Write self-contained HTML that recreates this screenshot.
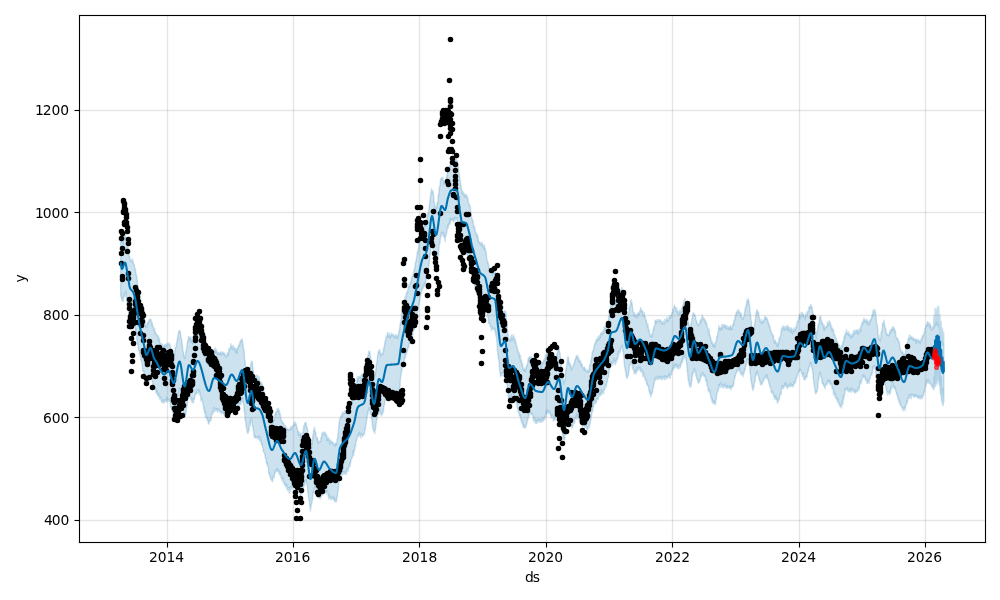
<!DOCTYPE html>
<html lang="en">
<head>
<meta charset="utf-8">
<title>Forecast plot</title>
<style>
html,body{margin:0;padding:0;background:#fff;}
body{width:1000px;height:600px;overflow:hidden;}
svg{display:block;}
text{font-family:"DejaVu Sans","Liberation Sans",sans-serif;font-size:13.889px;fill:#000;}
</style>
</head>
<body>
<svg width="1000" height="600" viewBox="0 0 1000 600">
<rect x="0" y="0" width="1000" height="600" fill="#ffffff"/>
<clipPath id="ax"><rect x="79.4" y="15" width="905.6" height="526.72"/></clipPath>
<g clip-path="url(#ax)">
<path d="M120.7 236.5 L120.9 236.8 L121.1 237.4 L121.6 241.5 L121.8 239.3 L122 242 L122.1 241.5 L122.3 241.3 L122.8 241.5 L123 241.2 L123.2 244.3 L123.3 239.9 L123.5 240 L124 236.8 L124.2 235 L124.4 238.5 L124.5 239.4 L124.7 235.1 L125.2 236.2 L125.4 238.4 L125.6 237.3 L125.8 233.5 L125.9 239.1 L126.4 240.3 L126.6 242.7 L126.8 240.9 L127 244 L127.1 245 L127.7 246 L127.8 248.6 L128 247.6 L128.2 249 L128.4 249.6 L128.9 253.2 L129 253.9 L129.2 257.3 L129.4 256.6 L129.6 256.2 L130.1 261 L130.3 260.5 L130.4 261 L130.6 259.8 L130.8 261 L131.3 260.7 L131.5 259.4 L131.6 260.7 L131.8 261.7 L132 261.2 L132.5 262.5 L132.7 259 L132.8 262.1 L133 261.1 L133.2 262.5 L133.7 264.6 L133.9 264.7 L134.1 264.2 L134.2 266.3 L134.4 265.6 L134.9 269 L135.1 270.6 L135.3 269.2 L135.4 268.6 L135.6 270.8 L136.1 275 L136.3 275.6 L136.5 274.9 L136.7 275.4 L136.8 277.8 L137.3 280.9 L137.5 283.9 L137.7 284.2 L137.9 286.4 L138 287.2 L138.6 292.8 L138.7 291.2 L138.9 292.5 L139.1 292.4 L139.2 294.1 L139.8 297.9 L139.9 298.7 L140.1 300.5 L140.3 299 L140.5 301.2 L141 305.2 L141.2 303.8 L141.3 304 L141.5 305.4 L141.7 306.4 L142.2 309.5 L142.4 312.2 L142.5 311.6 L142.7 312 L142.9 311 L143.4 313 L143.6 318.3 L143.7 315.9 L143.9 317.7 L144.1 317.2 L144.6 320.8 L144.8 321.3 L145 322.9 L145.1 325.3 L145.3 323.3 L145.8 327.2 L146 326.3 L146.2 327.5 L146.3 325.4 L146.5 327.1 L147 324.9 L147.2 323.5 L147.4 323.6 L147.6 323.5 L147.7 322.3 L148.2 322.2 L148.4 323.6 L148.6 320.4 L148.8 321.8 L148.9 321.5 L149.5 319.5 L149.6 319.2 L149.8 320.2 L150 320 L150.1 319.1 L150.7 319.4 L150.8 320.2 L151 319.4 L151.2 321.3 L151.4 322.4 L151.9 325.6 L152.1 322.2 L152.2 323.1 L152.4 325 L152.6 324.6 L153.1 326.6 L153.3 327.4 L153.4 327.9 L153.6 328.7 L153.8 329.9 L154.3 328.2 L154.5 331.6 L154.6 328.1 L154.8 333.9 L155 333.3 L155.5 331.8 L155.7 334.4 L155.9 332.9 L156 334 L156.2 334.2 L156.7 334.8 L156.9 334.8 L157.1 335.5 L157.2 335.4 L157.4 335.5 L157.9 336 L158.1 335.5 L158.3 340.6 L158.5 339.6 L158.6 337 L159.1 340.8 L159.3 341 L159.5 337.9 L159.7 340 L159.8 341.4 L160.4 344.6 L160.5 343.7 L160.7 344.9 L160.9 343.8 L161 344.8 L161.6 343.3 L161.7 345.9 L161.9 346.7 L162.1 344.3 L162.3 346.7 L162.8 348.4 L162.9 348.6 L163.1 348.2 L163.3 345.7 L163.5 346.8 L164 345.8 L164.2 347.7 L164.3 344.8 L164.5 344.8 L164.7 344.3 L165.2 345.9 L165.4 346.5 L165.5 345.3 L165.7 344.6 L165.9 345.2 L166.4 346.8 L166.6 343.4 L166.8 344.4 L166.9 344.2 L167.1 344.7 L167.6 344.8 L167.8 344.1 L168 343.1 L168.1 344.9 L168.3 344.9 L168.8 344.1 L169 344.5 L169.2 342.9 L169.4 344.7 L169.5 343.7 L170 345.2 L170.2 347.6 L170.4 346 L170.6 347.7 L170.7 348.5 L171.3 351.6 L171.4 350.9 L171.6 352.8 L171.8 355.2 L171.9 354.3 L172.5 353 L172.6 352 L172.8 353.6 L173 354.1 L173.2 352 L173.7 352.7 L173.8 352.6 L174 354.2 L174.2 355.8 L174.4 355.6 L174.9 350.7 L175.1 350.4 L175.2 348.6 L175.4 347.2 L175.6 348.3 L176.1 345.9 L176.3 343.9 L176.4 345.1 L176.6 342.5 L176.8 343.5 L177.3 338.5 L177.5 339.6 L177.7 337 L177.8 336.3 L178 336.3 L178.5 331.5 L178.7 331.5 L178.9 331.8 L179 331.4 L179.2 331.9 L179.7 330.6 L179.9 330.2 L180.1 331.7 L180.2 333 L180.4 332 L180.9 337.2 L181.1 337.6 L181.3 338.9 L181.5 340 L181.6 339.3 L182.2 346.5 L182.3 343.8 L182.5 346.2 L182.7 348.3 L182.8 349.4 L183.4 352.2 L183.5 351.7 L183.7 352.9 L183.9 354.3 L184.1 357.1 L184.6 356.2 L184.7 358.6 L184.9 358.3 L185.1 357.4 L185.3 356.3 L185.8 354.1 L186 350.7 L186.1 352.2 L186.3 351.4 L186.5 348.9 L187 346.5 L187.2 344.9 L187.3 342.5 L187.5 343.5 L187.7 340.5 L188.2 341.6 L188.4 336.6 L188.6 336.7 L188.7 336.4 L188.9 336.9 L189.4 338.8 L189.6 337.9 L189.8 337.3 L189.9 340.4 L190.1 339.5 L190.6 338.4 L190.8 338.8 L191 337 L191.1 339.3 L191.3 342.3 L191.8 339.5 L192 339.8 L192.2 341.8 L192.4 338.8 L192.5 343.9 L193.1 340.3 L193.2 340.9 L193.4 341.4 L193.6 343 L193.7 341.9 L194.3 337.5 L194.4 337.1 L194.6 339.1 L194.8 335.6 L195 337.6 L195.5 335 L195.6 336.3 L195.8 336.6 L196 331.4 L196.2 334.8 L196.7 333.6 L196.9 331.6 L197 331.7 L197.2 331.1 L197.4 331.7 L197.9 333.2 L198.1 334 L198.2 334.4 L198.4 332.2 L198.6 331.5 L199.1 334.6 L199.3 330.6 L199.5 333 L199.6 335.7 L199.8 338.3 L200.3 336.4 L200.5 338.4 L200.7 337.3 L200.8 339.1 L201 340.3 L201.5 341.1 L201.7 343.4 L201.9 343.2 L202 344.8 L202.2 344.4 L202.7 345.5 L202.9 348.6 L203.1 350.4 L203.3 348.9 L203.4 352.1 L203.9 352.3 L204.1 352 L204.3 353.1 L204.5 352.9 L204.6 353.3 L205.2 357.9 L205.3 358.2 L205.5 356.7 L205.7 357.5 L205.9 357.6 L206.4 360.3 L206.5 361.7 L206.7 359.1 L206.9 361 L207.1 360.6 L207.6 362.6 L207.8 364.1 L207.9 361.4 L208.1 359.7 L208.3 362.6 L208.8 361.2 L209 365.3 L209.1 361.1 L209.3 361.3 L209.5 361.9 L210 360.7 L210.2 359.8 L210.3 360 L210.5 361.1 L210.7 358.2 L211.2 358.5 L211.4 355.9 L211.6 352.2 L211.7 356.5 L211.9 352.7 L212.4 353.6 L212.6 355.3 L212.8 353.4 L212.9 349.9 L213.1 349.8 L213.6 349.7 L213.8 351.5 L214 349 L214.2 351.3 L214.3 350.1 L214.8 349.8 L215 349.2 L215.2 352.3 L215.4 348 L215.5 348.3 L216.1 351.9 L216.2 352.5 L216.4 349.6 L216.6 350.6 L216.7 350.5 L217.3 353.4 L217.4 352.1 L217.6 354.4 L217.8 353.3 L218 352.6 L218.5 352.4 L218.7 353.3 L218.8 354.2 L219 352.9 L219.2 353.3 L219.7 354.3 L219.9 352.5 L220 353.5 L220.2 352.4 L220.4 352.1 L220.9 353 L221.1 355 L221.2 355.4 L221.4 351.5 L221.6 354.7 L222.1 353.5 L222.3 352.9 L222.5 352.7 L222.6 352.1 L222.8 352.3 L223.3 353.1 L223.5 354.5 L223.7 352.6 L223.8 352.5 L224 352.7 L224.5 353.8 L224.7 355.6 L224.9 353.6 L225.1 354.9 L225.2 355.1 L225.7 356.7 L225.9 356.1 L226.1 357.4 L226.3 355.9 L226.4 356 L227 356 L227.1 353.1 L227.3 354.7 L227.5 355.5 L227.6 353.2 L228.2 352.1 L228.3 355.4 L228.5 352.6 L228.7 353.6 L228.9 348.5 L229.4 350.5 L229.6 348.2 L229.7 349.5 L229.9 350.2 L230.1 348.2 L230.6 346.7 L230.8 343.6 L230.9 347.6 L231.1 348.4 L231.3 346.6 L231.8 345.3 L232 347.1 L232.1 348.1 L232.3 347.5 L232.5 348.8 L233 346.4 L233.2 345.5 L233.4 348.1 L233.5 349.9 L233.7 348 L234.2 349.2 L234.4 348.2 L234.6 348 L234.7 348.9 L234.9 347.3 L235.4 351.2 L235.6 352 L235.8 352.2 L236 350.1 L236.1 350.2 L236.6 348.6 L236.8 348.5 L237 351.2 L237.2 353.4 L237.3 348.4 L237.9 347.9 L238 348.6 L238.2 346 L238.4 347.4 L238.5 345.8 L239.1 344.4 L239.2 346 L239.4 344.9 L239.6 342.5 L239.8 344.6 L240.3 342 L240.4 340.9 L240.6 340.3 L240.8 342.1 L241 339.8 L241.5 339.8 L241.7 341.2 L241.8 339.8 L242 341.9 L242.2 338.8 L242.7 342.6 L242.9 343.7 L243 346.1 L243.2 345.2 L243.4 347.7 L243.9 350.3 L244.1 351.1 L244.3 353 L244.4 355.1 L244.6 359 L245.1 361.3 L245.3 363.9 L245.5 366.4 L245.6 368.7 L245.8 370.1 L246.3 375.1 L246.5 372.8 L246.7 374.9 L246.9 377.1 L247 378.9 L247.5 378.9 L247.7 376.7 L247.9 377.4 L248.1 374.8 L248.2 377.5 L248.8 372.2 L248.9 373.5 L249.1 374.4 L249.3 373.2 L249.4 368.6 L250 368.4 L250.1 366.9 L250.3 366 L250.5 367.8 L250.7 365.5 L251.2 361.9 L251.3 361.7 L251.5 363.5 L251.7 362.8 L251.9 360.9 L252.4 362.6 L252.6 365.2 L252.7 366.4 L252.9 369.1 L253.1 369.1 L253.6 374.7 L253.8 376.4 L253.9 373.7 L254.1 376 L254.3 379 L254.8 377.1 L255 378.1 L255.2 378.9 L255.3 376.1 L255.5 376.7 L256 375.7 L256.2 378.5 L256.4 377.5 L256.5 377.8 L256.7 374.8 L257.2 379.7 L257.4 379.2 L257.6 377.4 L257.7 380.2 L257.9 375.9 L258.4 379.2 L258.6 377.4 L258.8 382.9 L259 376.1 L259.1 378.3 L259.7 379.9 L259.8 382.5 L260 382.5 L260.2 381.9 L260.3 381.9 L260.9 385.8 L261 381.9 L261.2 383.5 L261.4 385.9 L261.6 382.7 L262.1 384.3 L262.2 387.3 L262.4 386.6 L262.6 384.5 L262.8 387.2 L263.3 391.8 L263.5 389.9 L263.6 392.2 L263.8 391.8 L264 391.6 L264.5 397.2 L264.7 396.7 L264.8 397.8 L265 397 L265.2 397.9 L265.7 400.1 L265.9 400.9 L266.1 400.7 L266.2 401.2 L266.4 404.3 L266.9 403.8 L267.1 405.9 L267.3 406.9 L267.4 408 L267.6 407.4 L268.1 410.3 L268.3 413.1 L268.5 413 L268.6 413.6 L268.8 417.2 L269.3 415.4 L269.5 419.3 L269.7 418.4 L269.9 416.7 L270 418.5 L270.6 420.1 L270.7 423.1 L270.9 422.8 L271.1 421.6 L271.2 420.6 L271.8 420.8 L271.9 423 L272.1 421.3 L272.3 422.7 L272.5 422.7 L273 422.6 L273.1 423.2 L273.3 421.7 L273.5 421.4 L273.7 420.2 L274.2 420.5 L274.4 419.5 L274.5 419.5 L274.7 418.7 L274.9 415.3 L275.4 412.5 L275.6 414.4 L275.7 414.8 L275.9 412.1 L276.1 414.5 L276.6 411.5 L276.8 410.9 L277 411.5 L277.1 409 L277.3 408.8 L277.8 410.7 L278 409.6 L278.2 411.4 L278.3 411.7 L278.5 408.2 L279 411.6 L279.2 413.6 L279.4 410.8 L279.5 414 L279.7 413.5 L280.2 413.3 L280.4 418.1 L280.6 418.9 L280.8 416.9 L280.9 417.5 L281.4 421.5 L281.6 421.7 L281.8 420.5 L282 422 L282.1 421.4 L282.7 421.8 L282.8 423.1 L283 422.3 L283.2 423.9 L283.4 423.1 L283.9 423.7 L284 424.4 L284.2 426.3 L284.4 427.3 L284.6 426.8 L285.1 425.8 L285.3 427.9 L285.4 425.7 L285.6 425.8 L285.8 426.8 L286.3 428.8 L286.5 428.4 L286.6 428.5 L286.8 430 L287 429.2 L287.5 428.2 L287.7 430.1 L287.8 429.1 L288 430 L288.2 430.6 L288.7 430.1 L288.9 429 L289.1 430.3 L289.2 429.9 L289.4 430 L289.9 429.3 L290.1 427.9 L290.3 426.8 L290.4 429.4 L290.6 429.7 L291.1 428.1 L291.3 427.3 L291.5 429.8 L291.7 427.3 L291.8 426.6 L292.3 427.4 L292.5 426 L292.7 426.7 L292.9 425.9 L293 426.3 L293.6 425 L293.7 423.7 L293.9 424.8 L294.1 425.5 L294.3 422.5 L294.8 422.9 L294.9 421.4 L295.1 424.3 L295.3 423 L295.5 424.7 L296 423.5 L296.2 425.6 L296.3 424.2 L296.5 425.4 L296.7 427.4 L297.2 427.9 L297.4 428.1 L297.5 430.6 L297.7 430 L297.9 432.3 L298.4 435.2 L298.6 431.8 L298.7 432.5 L298.9 431.4 L299.1 431.9 L299.6 435.1 L299.8 435.1 L300 435.1 L300.1 435.5 L300.3 433.9 L300.8 433 L301 437.3 L301.2 436.2 L301.3 437.6 L301.5 436.1 L302 436.4 L302.2 434.6 L302.4 434.9 L302.6 433.8 L302.7 433.2 L303.2 432.3 L303.4 430.8 L303.6 425.6 L303.8 428.7 L303.9 427.8 L304.5 426.9 L304.6 425.1 L304.8 422.9 L305 422.7 L305.1 423.3 L305.7 422.1 L305.8 424.7 L306 423.8 L306.2 423.2 L306.4 425 L306.9 429 L307.1 426.7 L307.2 428.5 L307.4 429.4 L307.6 429.1 L308.1 434.3 L308.3 435.9 L308.4 439.4 L308.6 441.1 L308.8 443.6 L309.3 445.7 L309.5 448.7 L309.6 447 L309.8 448.7 L310 451.4 L310.5 452.1 L310.7 452.5 L310.9 453.8 L311 451.2 L311.2 448.4 L311.7 445.8 L311.9 444 L312.1 443.8 L312.2 441.3 L312.4 440.1 L312.9 435.6 L313.1 434 L313.3 438 L313.5 434.6 L313.6 429.8 L314.1 431.2 L314.3 429.3 L314.5 427.2 L314.7 429.7 L314.8 430.4 L315.4 432 L315.5 433.8 L315.7 431.6 L315.9 433.7 L316 435.4 L316.6 437.1 L316.7 437.8 L316.9 437.7 L317.1 440.1 L317.3 437.6 L317.8 438.3 L318 443 L318.1 441.9 L318.3 443.5 L318.5 442.6 L319 442.1 L319.2 441.4 L319.3 441.7 L319.5 441 L319.7 442.1 L320.2 441.1 L320.4 441.8 L320.5 441.4 L320.7 441.5 L320.9 437.6 L321.4 437.1 L321.6 437.6 L321.8 437 L321.9 433 L322.1 436 L322.6 434.4 L322.8 432.8 L323 432.8 L323.1 432.1 L323.3 434.6 L323.8 433.8 L324 432.8 L324.2 434.4 L324.4 434.6 L324.5 432.2 L325 432.2 L325.2 432.8 L325.4 435 L325.6 434 L325.7 435.6 L326.3 436.1 L326.4 435.7 L326.6 434.3 L326.8 436.8 L326.9 440.5 L327.5 437.9 L327.6 437.4 L327.8 438.2 L328 440.4 L328.2 438.5 L328.7 437.8 L328.8 438.9 L329 440 L329.2 440.3 L329.4 441.7 L329.9 444.3 L330.1 443.2 L330.2 441.6 L330.4 440.3 L330.6 439.7 L331.1 442.3 L331.3 442.9 L331.4 442.6 L331.6 441.6 L331.8 442.6 L332.3 441.7 L332.5 441.7 L332.7 441.9 L332.8 442.2 L333 442.3 L333.5 444.1 L333.7 443.7 L333.9 444 L334 445.3 L334.2 445 L334.7 445.9 L334.9 443.4 L335.1 446.2 L335.2 444.5 L335.4 443.1 L335.9 444.1 L336.1 442.8 L336.3 443.3 L336.5 444 L336.6 444.9 L337.2 438.8 L337.3 439.6 L337.5 437.7 L337.7 438.9 L337.8 435.6 L338.4 431.6 L338.5 431 L338.7 426.3 L338.9 425.4 L339.1 422.9 L339.6 420.2 L339.7 420.2 L339.9 418.6 L340.1 418.8 L340.3 417.5 L340.8 416.5 L341 417 L341.1 415.6 L341.3 415.1 L341.5 414.7 L342 415.7 L342.2 417 L342.3 414.4 L342.5 414.4 L342.7 412 L343.2 413.1 L343.4 414.4 L343.6 412.6 L343.7 414.1 L343.9 413 L344.4 413.3 L344.6 412.2 L344.8 411 L344.9 412.7 L345.1 413.4 L345.6 411.3 L345.8 412.5 L346 410.8 L346.1 411.4 L346.3 413.4 L346.8 411.9 L347 410.3 L347.2 411.8 L347.4 411.4 L347.5 410.3 L348.1 410.7 L348.2 405.2 L348.4 409.7 L348.6 411.3 L348.7 408.9 L349.3 405 L349.4 409.4 L349.6 410.5 L349.8 407.7 L350 405.1 L350.5 403.8 L350.6 403.9 L350.8 404.4 L351 405.3 L351.2 404.3 L351.7 399.4 L351.9 401.9 L352 401.3 L352.2 403.5 L352.4 399.9 L352.9 396.6 L353.1 397.3 L353.2 397.5 L353.4 394.2 L353.6 397.1 L354.1 394.5 L354.3 395 L354.5 393.5 L354.6 392.8 L354.8 393.1 L355.3 390.9 L355.5 387.5 L355.7 387.3 L355.8 387.9 L356 386.1 L356.5 383.3 L356.7 383.3 L356.9 380.8 L357 380.7 L357.2 376.6 L357.7 379.9 L357.9 381.2 L358.1 379.7 L358.3 379 L358.4 378.1 L358.9 376.4 L359.1 377.9 L359.3 377.1 L359.5 376.8 L359.6 377.3 L360.2 375.9 L360.3 376.9 L360.5 378.2 L360.7 378.7 L360.9 377.8 L361.4 378 L361.5 377.1 L361.7 373.7 L361.9 374.2 L362.1 376.6 L362.6 375 L362.8 377 L362.9 375.3 L363.1 376.5 L363.3 375 L363.8 374.4 L364 374.5 L364.1 375.7 L364.3 375.3 L364.5 374.3 L365 373.1 L365.2 373 L365.4 371.3 L365.5 369.7 L365.7 368.5 L366.2 365.4 L366.4 364.3 L366.6 363.5 L366.7 365.4 L366.9 362.1 L367.4 358.1 L367.6 357.3 L367.8 355.9 L367.9 356 L368.1 355.6 L368.6 351.3 L368.8 355.6 L369 351.2 L369.2 352 L369.3 351.9 L369.8 351.6 L370 352.2 L370.2 357.2 L370.4 358.1 L370.5 355.9 L371.1 359 L371.2 363.5 L371.4 361.8 L371.6 364.6 L371.8 368.1 L372.3 370.2 L372.4 372.1 L372.6 372.2 L372.8 370.8 L373 372.9 L373.5 373.3 L373.7 377.3 L373.8 375.9 L374 377.7 L374.2 376 L374.7 374.5 L374.9 375.7 L375 373.7 L375.2 372.3 L375.4 373.8 L375.9 369.2 L376.1 366.1 L376.2 368.4 L376.4 363.3 L376.6 363.7 L377.1 360.5 L377.3 358.8 L377.5 356.4 L377.6 355.7 L377.8 354.8 L378.3 351.3 L378.5 353.2 L378.7 350.5 L378.8 350.2 L379 353 L379.5 350.8 L379.7 349.6 L379.9 351.5 L380.1 352.3 L380.2 353 L380.7 356 L380.9 352.6 L381.1 355 L381.3 354.8 L381.4 355.3 L382 353.9 L382.1 353.3 L382.3 353.3 L382.5 353.8 L382.6 354.4 L383.2 354.2 L383.3 348.3 L383.5 351.4 L383.7 349.9 L383.9 348.9 L384.4 345.1 L384.6 345.8 L384.7 342.1 L384.9 344.9 L385.1 341.1 L385.6 340.1 L385.8 339 L385.9 339.4 L386.1 336.2 L386.3 338 L386.8 336.8 L387 337.4 L387.1 335.4 L387.3 334.7 L387.5 332.5 L388 334.3 L388.2 336.7 L388.4 334.5 L388.5 334.8 L388.7 335.2 L389.2 336 L389.4 332.9 L389.6 337.8 L389.7 336.4 L389.9 336.2 L390.4 335.3 L390.6 337.8 L390.8 334.5 L391 336.1 L391.1 335.5 L391.6 333.1 L391.8 334.7 L392 335.6 L392.2 334.3 L392.3 334.7 L392.9 335.2 L393 334.2 L393.2 334.8 L393.4 336.4 L393.5 334.9 L394.1 336.9 L394.2 337.5 L394.4 338 L394.6 337.2 L394.8 335.4 L395.3 336.1 L395.5 334.7 L395.6 336.9 L395.8 335.7 L396 337.9 L396.5 334.9 L396.7 336.1 L396.8 335.3 L397 337.4 L397.2 337.7 L397.7 335.3 L397.9 338.9 L398 337.3 L398.2 334.5 L398.4 334.8 L398.9 331.5 L399.1 330.8 L399.3 331.6 L399.4 328.2 L399.6 330.4 L400.1 323.5 L400.3 324 L400.5 325 L400.6 321.9 L400.8 321.4 L401.3 319.3 L401.5 315.2 L401.7 315.1 L401.9 312.6 L402 312.1 L402.5 310.4 L402.7 309.7 L402.9 308.1 L403.1 307.9 L403.2 306.9 L403.8 305.2 L403.9 304.2 L404.1 301.8 L404.3 303.4 L404.4 303.1 L405 298.8 L405.1 296.5 L405.3 298.9 L405.5 299.5 L405.7 298.4 L406.2 294.1 L406.3 296.6 L406.5 293.5 L406.7 294.1 L406.9 291.8 L407.4 292.5 L407.6 291.7 L407.7 289.6 L407.9 290 L408.1 287.6 L408.6 286.6 L408.8 286.1 L408.9 284.7 L409.1 287.2 L409.3 287 L409.8 284.4 L410 282.5 L410.2 284.2 L410.3 283.5 L410.5 283.2 L411 281.3 L411.2 280.3 L411.4 281.7 L411.5 278.7 L411.7 279.1 L412.2 275.7 L412.4 276.6 L412.6 275.5 L412.8 275.4 L412.9 276.2 L413.4 272.7 L413.6 273.3 L413.8 271.9 L414 271 L414.1 269 L414.7 269.5 L414.8 268.5 L415 265.4 L415.2 264.8 L415.3 262.8 L415.9 262 L416 259.6 L416.2 260.3 L416.4 259.1 L416.6 258.6 L417.1 253.8 L417.2 251.7 L417.4 253.1 L417.6 251.5 L417.8 253.6 L418.3 248.6 L418.5 249.4 L418.6 247.4 L418.8 245.4 L419 242.9 L419.5 241.4 L419.7 241.6 L419.8 241.1 L420 240.7 L420.2 240.1 L420.7 235.8 L420.9 237.3 L421.1 235.2 L421.2 234.9 L421.4 235.3 L421.9 228.7 L422.1 230.4 L422.3 231 L422.4 231 L422.6 229.6 L423.1 227.3 L423.3 229.3 L423.5 228.4 L423.6 225.1 L423.8 227.1 L424.3 223.7 L424.5 222.6 L424.7 224.1 L424.9 224.5 L425 222.2 L425.6 226.6 L425.7 221.9 L425.9 222.9 L426.1 223.2 L426.2 224.3 L426.8 218.8 L426.9 220.6 L427.1 216.3 L427.3 217.4 L427.5 216.1 L428 212.7 L428.1 213.5 L428.3 214.8 L428.5 214.3 L428.7 211.5 L429.2 205.7 L429.4 204.4 L429.5 204.8 L429.7 203 L429.9 201.7 L430.4 196.5 L430.6 194.7 L430.7 195.2 L430.9 193 L431.1 193.6 L431.6 188.7 L431.8 190.6 L432 190.7 L432.1 191.7 L432.3 192.2 L432.8 190.6 L433 191.5 L433.2 194.3 L433.3 193.9 L433.5 193.5 L434 201.8 L434.2 201.8 L434.4 202.8 L434.5 203 L434.7 205.5 L435.2 206.6 L435.4 207.4 L435.6 210.4 L435.8 206.7 L435.9 209 L436.5 205.3 L436.6 208.7 L436.8 206.4 L437 204.5 L437.1 202.9 L437.7 201.8 L437.8 203.7 L438 200.8 L438.2 196.3 L438.4 194 L438.9 195.7 L439 189.9 L439.2 187.2 L439.4 187.9 L439.6 186.9 L440.1 185 L440.3 181.4 L440.4 180.7 L440.6 181.9 L440.8 178.6 L441.3 178.7 L441.5 178.6 L441.6 179.6 L441.8 177.5 L442 177.7 L442.5 179.6 L442.7 179.9 L442.9 177.2 L443 178.5 L443.2 180.5 L443.7 180.8 L443.9 184.2 L444.1 182.5 L444.2 183.3 L444.4 182.5 L444.9 183 L445.1 182.7 L445.3 183.3 L445.4 181.5 L445.6 183.4 L446.1 177.9 L446.3 179.7 L446.5 177.3 L446.7 175.6 L446.8 177.8 L447.3 174.7 L447.5 171.9 L447.7 170.4 L447.9 172.3 L448 169.5 L448.6 169.5 L448.7 166.7 L448.9 168.1 L449.1 166.1 L449.3 166.3 L449.8 167.2 L449.9 167.5 L450.1 164.4 L450.3 164.2 L450.5 161.1 L451 163.4 L451.2 164 L451.3 161.9 L451.5 161.8 L451.7 163.2 L452.2 161.7 L452.4 162.3 L452.5 164.8 L452.7 162.7 L452.9 163.2 L453.4 164.9 L453.6 162.6 L453.7 163.2 L453.9 162.4 L454.1 160.6 L454.6 163.8 L454.8 160.1 L455 161.2 L455.1 159.2 L455.3 159.6 L455.8 159 L456 159.4 L456.2 160.5 L456.3 162 L456.5 158.4 L457 161.4 L457.2 160.8 L457.4 160.7 L457.6 161.7 L457.7 163.5 L458.2 166.8 L458.4 168.6 L458.6 172.2 L458.8 170.9 L458.9 172.7 L459.5 174.8 L459.6 178.9 L459.8 178.1 L460 179.4 L460.2 180 L460.7 184.2 L460.8 184.6 L461 185.3 L461.2 186.5 L461.4 189 L461.9 191.3 L462.1 193.2 L462.2 194.1 L462.4 194.2 L462.6 191.4 L463.1 191.7 L463.3 194.3 L463.4 192.4 L463.6 195.2 L463.8 195.4 L464.3 193.5 L464.5 195.8 L464.6 197.3 L464.8 196.2 L465 194.7 L465.5 194.9 L465.7 196.1 L465.9 194.5 L466 195.7 L466.2 195.3 L466.7 195.6 L466.9 195.7 L467.1 198.5 L467.2 196.8 L467.4 198.4 L467.9 197.7 L468.1 200.6 L468.3 201.8 L468.5 202.8 L468.6 203.6 L469.1 204.8 L469.3 205.1 L469.5 204.9 L469.7 204.6 L469.8 204.9 L470.4 207.4 L470.5 209.4 L470.7 211.5 L470.9 211.9 L471 213.4 L471.6 217.2 L471.7 216.8 L471.9 218.3 L472.1 218.6 L472.3 219.8 L472.8 221.6 L473 220.4 L473.1 222 L473.3 222.7 L473.5 226.7 L474 228.1 L474.2 225.7 L474.3 226.3 L474.5 228 L474.7 226.7 L475.2 232.1 L475.4 231.2 L475.5 231.1 L475.7 233.1 L475.9 234.1 L476.4 235.1 L476.6 236.9 L476.8 233.1 L476.9 234.8 L477.1 234.4 L477.6 235.2 L477.8 238.9 L478 241.5 L478.1 237.6 L478.3 239.2 L478.8 242.5 L479 241.8 L479.2 242.9 L479.4 241.6 L479.5 243.2 L480 242.1 L480.2 244.7 L480.4 244.5 L480.6 244.2 L480.7 242.8 L481.3 243.9 L481.4 245.2 L481.6 243.3 L481.8 243.6 L481.9 242.2 L482.5 244.4 L482.6 245.1 L482.8 247.1 L483 244.6 L483.2 245 L483.7 248.5 L483.9 248.8 L484 246 L484.2 247 L484.4 245.2 L484.9 248.4 L485.1 250.3 L485.2 249.7 L485.4 248.4 L485.6 251 L486.1 251.8 L486.3 253.8 L486.4 253.8 L486.6 256.9 L486.8 258.9 L487.3 260.4 L487.5 260.9 L487.7 261.9 L487.8 263.7 L488 262.5 L488.5 264.9 L488.7 265.4 L488.9 268 L489 267.3 L489.2 268.5 L489.7 269.3 L489.9 267.9 L490.1 269.3 L490.3 270.8 L490.4 270.2 L490.9 270 L491.1 270.1 L491.3 271.6 L491.5 271.2 L491.6 270.5 L492.2 269.6 L492.3 270.1 L492.5 275.6 L492.7 270.3 L492.8 271.3 L493.4 271.2 L493.5 269.4 L493.7 273.2 L493.9 271.3 L494.1 270.5 L494.6 273.5 L494.7 271.7 L494.9 273.1 L495.1 271 L495.3 272.4 L495.8 276.3 L496 276.6 L496.1 277 L496.3 279.3 L496.5 283.2 L497 286.1 L497.2 288.4 L497.3 293 L497.5 293.8 L497.7 295.7 L498.2 299.4 L498.4 302 L498.6 303.6 L498.7 304.4 L498.9 303 L499.4 310.9 L499.6 309.3 L499.8 314.9 L499.9 313.3 L500.1 315.2 L500.6 316.2 L500.8 315.4 L501 317.8 L501.1 317.1 L501.3 319.4 L501.8 316.4 L502 315.7 L502.2 318.8 L502.4 317.1 L502.5 314.5 L503.1 312.9 L503.2 315.8 L503.4 315.1 L503.6 315.1 L503.7 312.4 L504.3 311.3 L504.4 311.1 L504.6 314.1 L504.8 312.8 L505 313.6 L505.5 310.7 L505.6 315.5 L505.8 314.5 L506 313.1 L506.2 317 L506.7 324.2 L506.9 327.4 L507 323.6 L507.2 326.7 L507.4 330.4 L507.9 333 L508.1 335.3 L508.2 335.6 L508.4 338.3 L508.6 337.4 L509.1 339.5 L509.3 339.2 L509.5 339.7 L509.6 339.5 L509.8 340.9 L510.3 339.6 L510.5 341.3 L510.7 336.7 L510.8 338.5 L511 339.7 L511.5 338.3 L511.7 334.5 L511.9 337.8 L512 336.8 L512.2 340.3 L512.7 337 L512.9 338.1 L513.1 336.3 L513.3 338.3 L513.4 334.6 L514 337.6 L514.1 338.7 L514.3 337.6 L514.5 340.7 L514.6 339.4 L515.2 342.9 L515.3 339.2 L515.5 340.3 L515.7 342.8 L515.9 342.2 L516.4 346 L516.5 346 L516.7 345 L516.9 346.4 L517.1 348 L517.6 349.7 L517.8 349.6 L517.9 349.8 L518.1 350.8 L518.3 353 L518.8 356.2 L519 352.1 L519.1 352.9 L519.3 354.5 L519.5 356.5 L520 354.9 L520.2 360.1 L520.4 360.5 L520.5 355.2 L520.7 360.2 L521.2 361.7 L521.4 360.9 L521.6 360 L521.7 363.3 L521.9 362.6 L522.4 366.3 L522.6 365.7 L522.8 364.2 L522.9 369 L523.1 369.3 L523.6 370.1 L523.8 369.2 L524 370.5 L524.2 369.8 L524.3 369 L524.8 368 L525 371.1 L525.2 368.1 L525.4 371.8 L525.5 369 L526.1 369.4 L526.2 367.7 L526.4 365.8 L526.6 365.7 L526.8 365.4 L527.3 366 L527.4 364 L527.6 362.3 L527.8 363.2 L528 359.9 L528.5 357.5 L528.7 358.4 L528.8 360.7 L529 357.9 L529.2 357.9 L529.7 357.3 L529.9 356.4 L530 358.9 L530.2 358.4 L530.4 356.6 L530.9 356.3 L531.1 358 L531.2 357 L531.4 357.9 L531.6 359.4 L532.1 359.6 L532.3 360.1 L532.5 359.5 L532.6 358.5 L532.8 358.4 L533.3 362.1 L533.5 359.4 L533.7 360.6 L533.8 360.3 L534 360.9 L534.5 360.1 L534.7 358.3 L534.9 363.1 L535.1 359.5 L535.2 361.9 L535.7 359.9 L535.9 362.2 L536.1 359.9 L536.3 363.7 L536.4 362.2 L537 359.7 L537.1 363.8 L537.3 359.1 L537.5 361.3 L537.7 363.4 L538.2 361.6 L538.3 364.2 L538.5 362.6 L538.7 362.2 L538.9 365 L539.4 363.7 L539.6 363 L539.7 364.7 L539.9 363.4 L540.1 362.3 L540.6 363.5 L540.8 367.7 L540.9 367.6 L541.1 362.6 L541.3 365.3 L541.8 365.8 L542 364.2 L542.1 365.2 L542.3 362.1 L542.5 362.5 L543 363.8 L543.2 362.2 L543.4 361.8 L543.5 361.7 L543.7 360.1 L544.2 359.6 L544.4 359.4 L544.6 359.4 L544.7 358 L544.9 361.2 L545.4 354.6 L545.6 355.7 L545.8 356.4 L546 358.1 L546.1 354.7 L546.6 355.8 L546.8 354.6 L547 353.8 L547.2 354.8 L547.3 355.3 L547.9 355.1 L548 351.3 L548.2 354.8 L548.4 355.2 L548.5 354.3 L549.1 354.9 L549.2 354.4 L549.4 354.1 L549.6 355.2 L549.8 356.2 L550.3 354.6 L550.5 356 L550.6 357.3 L550.8 354.7 L551 358.7 L551.5 358.3 L551.7 359.8 L551.8 358.2 L552 357.5 L552.2 358.7 L552.7 360.2 L552.9 357.6 L553 360.5 L553.2 360 L553.4 358.5 L553.9 361.1 L554.1 360.4 L554.3 360.2 L554.4 359.4 L554.6 358.7 L555.1 357.4 L555.3 358.6 L555.5 358.1 L555.6 359.1 L555.8 356.9 L556.3 356.9 L556.5 356.9 L556.7 353.4 L556.9 354.6 L557 357.3 L557.5 352 L557.7 351.3 L557.9 350.2 L558.1 348.7 L558.2 350.4 L558.8 348.7 L558.9 349.4 L559.1 348.9 L559.3 351.1 L559.4 351 L560 352.7 L560.1 354 L560.3 357.4 L560.5 356.7 L560.7 359.1 L561.2 364.7 L561.4 364.7 L561.5 368 L561.7 366.6 L561.9 370.4 L562.4 371.1 L562.6 375.2 L562.7 375.9 L562.9 376.5 L563.1 379.5 L563.6 381.5 L563.8 382.3 L563.9 384.1 L564.1 383.2 L564.3 382.9 L564.8 379.6 L565 380.7 L565.2 378.1 L565.3 374.4 L565.5 372.6 L566 369 L566.2 367.4 L566.4 369.6 L566.5 366.9 L566.7 366.2 L567.2 360.3 L567.4 359.1 L567.6 361.7 L567.8 356.9 L567.9 357.7 L568.4 357 L568.6 359.6 L568.8 364.4 L569 360.7 L569.1 363.3 L569.7 365 L569.8 362.7 L570 363.1 L570.2 364.9 L570.3 366.3 L570.9 364.9 L571 366.8 L571.2 369.8 L571.4 366.9 L571.6 368.8 L572.1 369.7 L572.2 368.1 L572.4 368 L572.6 367.3 L572.8 366.6 L573.3 365.9 L573.5 364.2 L573.6 364.7 L573.8 364.3 L574 364.9 L574.5 361.7 L574.7 360.2 L574.8 362.7 L575 359.8 L575.2 359.7 L575.7 357.9 L575.9 358.4 L576.1 356.7 L576.2 356.9 L576.4 356.1 L576.9 355.8 L577.1 356 L577.3 355.1 L577.4 359.4 L577.6 355.7 L578.1 360.2 L578.3 358.5 L578.5 359.7 L578.6 360.9 L578.8 357.5 L579.3 362.2 L579.5 361.5 L579.7 360.5 L579.9 360.5 L580 362.5 L580.6 360.4 L580.7 365.6 L580.9 363 L581.1 364.5 L581.2 363.3 L581.8 364.2 L581.9 364.2 L582.1 364.2 L582.3 367.5 L582.5 366 L583 367.2 L583.1 367.9 L583.3 368.6 L583.5 368.3 L583.7 370 L584.2 367.6 L584.4 367 L584.5 368 L584.7 367.8 L584.9 368.5 L585.4 371.1 L585.6 370.9 L585.7 370.2 L585.9 368.9 L586.1 371 L586.6 371 L586.8 371.9 L587 371.4 L587.1 370.7 L587.3 371.5 L587.8 370.6 L588 370.3 L588.2 371.8 L588.3 371.3 L588.5 372.3 L589 370.1 L589.2 367.4 L589.4 370.2 L589.5 370 L589.7 365.4 L590.2 364.1 L590.4 365.5 L590.6 363.6 L590.8 360.4 L590.9 362.4 L591.5 358 L591.6 357 L591.8 357.6 L592 354 L592.1 352.6 L592.7 351.7 L592.8 351.8 L593 350.1 L593.2 350.5 L593.4 349.5 L593.9 348.4 L594 345.7 L594.2 345.8 L594.4 347 L594.6 344.2 L595.1 342.9 L595.3 344.2 L595.4 343 L595.6 342 L595.8 340.4 L596.3 342.9 L596.5 340.6 L596.6 341.9 L596.8 338.8 L597 339.8 L597.5 339 L597.7 339.3 L597.9 336.8 L598 340.7 L598.2 338.6 L598.7 338.8 L598.9 336.2 L599.1 339.1 L599.2 335.4 L599.4 339.4 L599.9 335.6 L600.1 335.5 L600.3 335 L600.4 337.5 L600.6 333.6 L601.1 332.9 L601.3 332.9 L601.5 334.5 L601.7 333.9 L601.8 332.2 L602.3 333.3 L602.5 334.6 L602.7 333.5 L602.9 332.9 L603 330.8 L603.6 333.4 L603.7 332.1 L603.9 329 L604.1 328.8 L604.3 326.4 L604.8 329.8 L604.9 327.3 L605.1 328.5 L605.3 330.4 L605.5 326.5 L606 328.2 L606.2 325.7 L606.3 324.6 L606.5 327.2 L606.7 326.1 L607.2 323.3 L607.4 324 L607.5 322.6 L607.7 321.5 L607.9 321.4 L608.4 321.6 L608.6 317 L608.8 316.4 L608.9 318.1 L609.1 314 L609.6 311.9 L609.8 310.2 L610 307.9 L610.1 308 L610.3 307.3 L610.8 305.2 L611 305.8 L611.2 305.1 L611.3 305.9 L611.5 304.7 L612 303.6 L612.2 305.1 L612.4 304.4 L612.6 305.1 L612.7 304 L613.2 303.9 L613.4 304.3 L613.6 301.9 L613.8 304.2 L613.9 302.5 L614.5 301.9 L614.6 302.4 L614.8 305.3 L615 301.4 L615.2 304.2 L615.7 299.2 L615.8 301.6 L616 304 L616.2 301.8 L616.4 301.5 L616.9 299.9 L617.1 297.8 L617.2 300.1 L617.4 300 L617.6 299.8 L618.1 299.7 L618.3 296.9 L618.4 297.2 L618.6 292.7 L618.8 294.7 L619.3 294.1 L619.5 294.3 L619.6 295.1 L619.8 294.6 L620 292.8 L620.5 290.6 L620.7 290.8 L620.9 291 L621 291.3 L621.2 292.4 L621.7 289.7 L621.9 287.5 L622.1 288.1 L622.2 293.8 L622.4 292.7 L622.9 292.3 L623.1 293 L623.3 295.7 L623.5 296.2 L623.6 297.4 L624.1 298.9 L624.3 301.2 L624.5 304.7 L624.7 306.9 L624.8 307.6 L625.4 313.2 L625.5 313.3 L625.7 314.5 L625.9 315.2 L626 317.6 L626.6 317.5 L626.7 321.1 L626.9 316.9 L627.1 319.3 L627.3 319.4 L627.8 319.2 L628 314.7 L628.1 313.8 L628.3 313.7 L628.5 314 L629 311.2 L629.2 306.4 L629.3 308.3 L629.5 308.3 L629.7 307.4 L630.2 304.9 L630.4 303.6 L630.5 303.3 L630.7 300.4 L630.9 303.8 L631.4 299.9 L631.6 302.8 L631.8 302 L631.9 304.6 L632.1 303.6 L632.6 308.7 L632.8 308.8 L633 309.9 L633.1 311.2 L633.3 311.7 L633.8 312.6 L634 315 L634.2 315.6 L634.4 316.2 L634.5 316.1 L635 313.1 L635.2 316.4 L635.4 316.3 L635.6 315.5 L635.7 315.3 L636.3 316.4 L636.4 314.8 L636.6 317 L636.8 317.8 L636.9 316.1 L637.5 316.7 L637.6 313.4 L637.8 313.6 L638 314.3 L638.2 313 L638.7 313.1 L638.9 313 L639 314.8 L639.2 311.7 L639.4 314 L639.9 310.4 L640.1 311.1 L640.2 312.3 L640.4 311.6 L640.6 307.5 L641.1 310.7 L641.3 311.3 L641.4 309.1 L641.6 310.6 L641.8 310.5 L642.3 312.1 L642.5 314 L642.7 310.5 L642.8 311.6 L643 314.7 L643.5 315 L643.7 316.2 L643.9 314.6 L644 316.1 L644.2 312.4 L644.7 317.3 L644.9 316.1 L645.1 316.1 L645.3 316.7 L645.4 319.3 L645.9 321.1 L646.1 319.5 L646.3 320.4 L646.5 323.1 L646.6 321.8 L647.2 324.7 L647.3 325.6 L647.5 327 L647.7 325.9 L647.8 323.7 L648.4 328.8 L648.5 330.2 L648.7 329.4 L648.9 329.7 L649.1 330.1 L649.6 333.4 L649.7 334.3 L649.9 334.7 L650.1 334.8 L650.3 336.6 L650.8 335.8 L651 335.2 L651.1 334.1 L651.3 335.2 L651.5 335.9 L652 336.8 L652.2 335.2 L652.3 333.8 L652.5 333.7 L652.7 332.7 L653.2 329.2 L653.4 329.7 L653.6 327.1 L653.7 328.3 L653.9 330 L654.4 326.4 L654.6 325.6 L654.8 324.9 L654.9 323.9 L655.1 320.4 L655.6 320.9 L655.8 320.2 L656 321.3 L656.2 321.9 L656.3 323.4 L656.8 320.8 L657 319.7 L657.2 321.5 L657.4 321.2 L657.5 321.4 L658.1 320.8 L658.2 321 L658.4 319.4 L658.6 321.2 L658.7 321.6 L659.3 320.9 L659.4 321.4 L659.6 320 L659.8 321.7 L660 320.3 L660.5 319.8 L660.6 320.5 L660.8 320.7 L661 321 L661.2 321.1 L661.7 323.7 L661.9 322.6 L662 322.5 L662.2 322.4 L662.4 322.1 L662.9 323.7 L663.1 322.4 L663.2 322.4 L663.4 321.3 L663.6 324 L664.1 324.1 L664.3 323.8 L664.5 323.8 L664.6 319.2 L664.8 322.5 L665.3 322.8 L665.5 321.8 L665.7 319.5 L665.8 321.4 L666 322.2 L666.5 320.2 L666.7 318.8 L666.9 319.5 L667 316.8 L667.2 320.7 L667.7 319 L667.9 319.6 L668.1 319.8 L668.3 319.7 L668.4 321.4 L669 318.1 L669.1 317.9 L669.3 315.6 L669.5 317.7 L669.6 315.6 L670.2 318.2 L670.3 317 L670.5 316 L670.7 318 L670.9 315.2 L671.4 315.1 L671.5 314.4 L671.7 313.3 L671.9 313.8 L672.1 312.6 L672.6 311.5 L672.8 310 L672.9 309 L673.1 312.3 L673.3 310.1 L673.8 307.9 L674 308.1 L674.1 306.2 L674.3 307.8 L674.5 305.1 L675 306.9 L675.2 307.7 L675.4 307.2 L675.5 308.3 L675.7 308 L676.2 311.2 L676.4 310.2 L676.6 307.8 L676.7 308.3 L676.9 312.7 L677.4 310.6 L677.6 311.6 L677.8 310.7 L677.9 313.6 L678.1 313.2 L678.6 313.7 L678.8 312.1 L679 312.4 L679.2 314.7 L679.3 312.4 L679.9 309.9 L680 314.3 L680.2 313.3 L680.4 310.4 L680.5 312.5 L681.1 311.6 L681.2 310.8 L681.4 312.3 L681.6 311 L681.8 308 L682.3 307.3 L682.4 307.9 L682.6 307.4 L682.8 305.2 L683 306.3 L683.5 302.6 L683.7 304.1 L683.8 300.5 L684 302.9 L684.2 304.8 L684.7 303.5 L684.9 300.9 L685 298.1 L685.2 302 L685.4 303.4 L685.9 304.1 L686.1 305.8 L686.3 304.5 L686.4 306.9 L686.6 307.4 L687.1 311.5 L687.3 313.6 L687.5 317.1 L687.6 316.9 L687.8 317.1 L688.3 321.9 L688.5 322.3 L688.7 323.9 L688.8 325.7 L689 324 L689.5 329 L689.7 328.5 L689.9 331 L690.1 328.5 L690.2 329.1 L690.7 326.2 L690.9 326.8 L691.1 323.1 L691.3 323.5 L691.4 322.7 L692 318.4 L692.1 318.6 L692.3 318.3 L692.5 316.6 L692.7 314.7 L693.2 313 L693.3 312.5 L693.5 314.4 L693.7 313.5 L693.9 314.3 L694.4 314.6 L694.6 315.9 L694.7 314.2 L694.9 315.5 L695.1 315.7 L695.6 317.1 L695.8 319.4 L695.9 319.1 L696.1 319.9 L696.3 320.7 L696.8 323.5 L697 321.1 L697.1 323.7 L697.3 323.9 L697.5 323.3 L698 324.7 L698.2 325.7 L698.4 325.9 L698.5 324.2 L698.7 325.6 L699.2 324.4 L699.4 324.6 L699.6 324.6 L699.7 323.7 L699.9 321.5 L700.4 319.4 L700.6 323 L700.8 319.7 L701 321.3 L701.1 320 L701.6 320.8 L701.8 317.7 L702 317.3 L702.2 314.8 L702.3 317.9 L702.9 317.3 L703 316.9 L703.2 317.2 L703.4 319.5 L703.6 318.4 L704.1 319.8 L704.2 318.8 L704.4 319.6 L704.6 320.9 L704.8 319 L705.3 321.8 L705.5 320.7 L705.6 323.6 L705.8 321.2 L706 321.7 L706.5 323.7 L706.7 323.2 L706.8 323.9 L707 324.8 L707.2 327.3 L707.7 327.2 L707.9 330 L708 330.3 L708.2 330 L708.4 330.4 L708.9 334.5 L709.1 328.8 L709.3 332.7 L709.4 333.4 L709.6 334.4 L710.1 335.2 L710.3 337.4 L710.5 337.6 L710.6 338.8 L710.8 337.6 L711.3 341.2 L711.5 343.1 L711.7 340.8 L711.9 342.3 L712 341 L712.5 344.8 L712.7 343.7 L712.9 346.1 L713.1 343.5 L713.2 344.8 L713.8 343.4 L713.9 344.5 L714.1 345 L714.3 347.4 L714.4 345.3 L715 344.8 L715.1 346.8 L715.3 345 L715.5 341.8 L715.7 343 L716.2 340.9 L716.4 341.1 L716.5 339.7 L716.7 336.2 L716.9 337.1 L717.4 337.8 L717.6 335.7 L717.7 333.3 L717.9 332.9 L718.1 332.4 L718.6 329.1 L718.8 325.4 L718.9 329.7 L719.1 327.2 L719.3 327.9 L719.8 327.4 L720 327.7 L720.2 328 L720.3 330.5 L720.5 327.5 L721 328.4 L721.2 326.9 L721.4 328.5 L721.5 327.2 L721.7 324.5 L722.2 329.5 L722.4 328.9 L722.6 328 L722.8 324.7 L722.9 327.7 L723.4 326.5 L723.6 325.1 L723.8 324.9 L724 327.1 L724.1 324.7 L724.7 325.3 L724.8 324.6 L725 326.8 L725.2 325.1 L725.3 326.7 L725.9 325.4 L726 328.9 L726.2 325.7 L726.4 326.7 L726.6 328.4 L727.1 328.2 L727.3 325.6 L727.4 328 L727.6 328.2 L727.8 328.5 L728.3 327.2 L728.5 329.5 L728.6 329.1 L728.8 326.9 L729 326.6 L729.5 327.9 L729.7 328.6 L729.8 329.3 L730 326.6 L730.2 327 L730.7 325.5 L730.9 326.7 L731.1 329.1 L731.2 329.9 L731.4 328.5 L731.9 327.1 L732.1 327 L732.3 329.2 L732.4 327.8 L732.6 325.6 L733.1 324 L733.3 323 L733.5 323.4 L733.7 325 L733.8 321.8 L734.3 319.9 L734.5 320.1 L734.7 318.6 L734.9 319.9 L735 316.4 L735.6 315.9 L735.7 314.3 L735.9 315.8 L736.1 314.3 L736.2 312.8 L736.8 311.5 L736.9 312 L737.1 313.4 L737.3 312.7 L737.5 311.9 L738 309.8 L738.1 309.6 L738.3 309.6 L738.5 311.1 L738.7 312.6 L739.2 312.4 L739.4 313.7 L739.5 311.3 L739.7 313.2 L739.9 313.5 L740.4 313.7 L740.6 312.6 L740.7 314.8 L740.9 316.7 L741.1 313.2 L741.6 317.2 L741.8 317.8 L742 317.2 L742.1 318.1 L742.3 317.6 L742.8 317.8 L743 319.7 L743.2 319.6 L743.3 318.9 L743.5 317.4 L744 315.9 L744.2 315.4 L744.4 312.5 L744.5 312.5 L744.7 312.6 L745.2 307.8 L745.4 309.6 L745.6 308.2 L745.8 306.9 L745.9 306.5 L746.5 303.2 L746.6 306 L746.8 300.1 L747 301.3 L747.1 299.6 L747.7 301.3 L747.8 301.4 L748 302.2 L748.2 298.4 L748.4 300.7 L748.9 300.8 L749 303.3 L749.2 305.1 L749.4 303.6 L749.6 307 L750.1 310.7 L750.3 313.5 L750.4 315.9 L750.6 314.7 L750.8 318.5 L751.3 321.5 L751.5 321.4 L751.6 324.4 L751.8 325.8 L752 326 L752.5 329 L752.7 332.1 L752.9 330.8 L753 332.2 L753.2 332.9 L753.7 329.9 L753.9 332.1 L754.1 328.3 L754.2 327.2 L754.4 325 L754.9 322.2 L755.1 321.4 L755.3 319.8 L755.4 319.1 L755.6 318 L756.1 312.7 L756.3 312.3 L756.5 312.4 L756.7 311.3 L756.8 309.8 L757.4 311.2 L757.5 310.5 L757.7 313.8 L757.9 311.8 L758 313.4 L758.6 312.1 L758.7 315.1 L758.9 317.3 L759.1 316.8 L759.3 318 L759.8 319.3 L759.9 319.5 L760.1 321.1 L760.3 321.8 L760.5 322 L761 321.7 L761.2 322.1 L761.3 319.1 L761.5 322.9 L761.7 321.5 L762.2 321.5 L762.4 323.7 L762.5 322.4 L762.7 322.6 L762.9 320.8 L763.4 321.9 L763.6 320.7 L763.8 320.2 L763.9 319.7 L764.1 321.6 L764.6 316.5 L764.8 318.3 L765 318.5 L765.1 319.1 L765.3 318.1 L765.8 317 L766 317.7 L766.2 319.6 L766.3 319 L766.5 317.2 L767 319 L767.2 319 L767.4 321.2 L767.6 319 L767.7 321.4 L768.2 323.1 L768.4 321.7 L768.6 325.8 L768.8 323.1 L768.9 324 L769.5 326.4 L769.6 326 L769.8 327.3 L770 326.5 L770.2 328.3 L770.7 330.9 L770.8 329.2 L771 332.3 L771.2 332.5 L771.4 332.3 L771.9 334.3 L772.1 334.8 L772.2 333.4 L772.4 335.4 L772.6 336 L773.1 335.7 L773.3 337.8 L773.4 336.5 L773.6 335.1 L773.8 339.8 L774.3 341.1 L774.5 343.3 L774.7 340.8 L774.8 342.3 L775 340.1 L775.5 340.8 L775.7 341.8 L775.9 342.8 L776 342.4 L776.2 344.3 L776.7 345.1 L776.9 342.6 L777.1 343.3 L777.2 346.7 L777.4 346.1 L777.9 342.6 L778.1 342.5 L778.3 346 L778.5 341.5 L778.6 343.6 L779.1 337.7 L779.3 339.5 L779.5 337.7 L779.7 338.8 L779.8 339.4 L780.4 336 L780.5 335.7 L780.7 335 L780.9 334.8 L781.1 332.6 L781.6 327.7 L781.7 327.8 L781.9 330.7 L782.1 330 L782.3 330 L782.8 327.7 L783 327.2 L783.1 325.6 L783.3 326.5 L783.5 328.1 L784 327.3 L784.2 326.4 L784.3 330.4 L784.5 328.6 L784.7 328.7 L785.2 328.8 L785.4 328.5 L785.5 326.9 L785.7 329 L785.9 326.7 L786.4 326.1 L786.6 329.1 L786.8 328 L786.9 328.8 L787.1 325.3 L787.6 330.2 L787.8 326.8 L788 326.6 L788.1 327.3 L788.3 326.5 L788.8 326.9 L789 329.2 L789.2 330.9 L789.4 328.6 L789.5 329.2 L790 329.2 L790.2 329.7 L790.4 327.7 L790.6 331.8 L790.7 327.4 L791.3 328.4 L791.4 332.1 L791.6 329.6 L791.8 328.8 L791.9 330.8 L792.5 333.8 L792.6 331 L792.8 329.1 L793 331 L793.2 331.1 L793.7 329.8 L793.9 331.3 L794 327.7 L794.2 331.5 L794.4 331.4 L794.9 330 L795.1 328.5 L795.2 330.5 L795.4 329.6 L795.6 329.5 L796.1 326 L796.3 327.1 L796.4 328.2 L796.6 327.6 L796.8 324 L797.3 323 L797.5 321.1 L797.7 321.2 L797.8 320.8 L798 321.8 L798.5 319.8 L798.7 317.2 L798.9 318.6 L799 316.3 L799.2 315.6 L799.7 313.9 L799.9 315.1 L800.1 318.7 L800.3 316.1 L800.4 315.8 L800.9 316.5 L801.1 312.8 L801.3 315 L801.5 315.4 L801.6 316.9 L802.2 315.8 L802.3 312.9 L802.5 312.3 L802.7 315 L802.8 315.1 L803.4 313.9 L803.5 314.6 L803.7 316.6 L803.9 314.9 L804.1 318 L804.6 317.3 L804.8 317.3 L804.9 319.7 L805.1 315.8 L805.3 315.2 L805.8 315.6 L806 313.2 L806.1 317.2 L806.3 316.8 L806.5 316.2 L807 314.9 L807.2 313.8 L807.3 311.3 L807.5 312.3 L807.7 312.5 L808.2 311.6 L808.4 310.7 L808.6 311.8 L808.7 310.8 L808.9 307 L809.4 307 L809.6 308.3 L809.8 306.4 L809.9 306.8 L810.1 307.3 L810.6 304.7 L810.8 306 L811 307.8 L811.2 305.9 L811.3 305.2 L811.8 307.8 L812 307.8 L812.2 307.5 L812.4 310.7 L812.5 311.3 L813.1 313.3 L813.2 319.2 L813.4 318.1 L813.6 321.2 L813.7 322.9 L814.3 326.6 L814.4 325.7 L814.6 325.8 L814.8 329.2 L815 331 L815.5 331.7 L815.6 333 L815.8 335.4 L816 332.6 L816.2 339.2 L816.7 333.7 L816.9 330.9 L817 332.9 L817.2 330.8 L817.4 331.8 L817.9 325.5 L818.1 327.4 L818.2 323.7 L818.4 324.8 L818.6 325.5 L819.1 320.3 L819.3 320.7 L819.5 317.9 L819.6 318.6 L819.8 316.5 L820.3 317.1 L820.5 318.4 L820.7 316.5 L820.8 317.8 L821 319 L821.5 323.9 L821.7 322.2 L821.9 320.6 L822 321.3 L822.2 323.3 L822.7 323.2 L822.9 325.8 L823.1 324.2 L823.3 325.2 L823.4 328 L824 325.3 L824.1 330.5 L824.3 326.8 L824.5 325.6 L824.6 327.8 L825.2 328.8 L825.3 329.1 L825.5 328 L825.7 326.8 L825.9 327.2 L826.4 327 L826.5 327.5 L826.7 327.2 L826.9 326.5 L827.1 326.4 L827.6 321.6 L827.8 323.5 L827.9 326.1 L828.1 323.7 L828.3 324 L828.8 322.6 L829 323.3 L829.1 322.4 L829.3 320.8 L829.5 323.9 L830 324.7 L830.2 323.3 L830.4 322.3 L830.5 325.5 L830.7 324.6 L831.2 328.7 L831.4 327.7 L831.6 326 L831.7 326.8 L831.9 330.5 L832.4 328.9 L832.6 328.4 L832.8 329.7 L832.9 328.6 L833.1 331.8 L833.6 329.9 L833.8 333.3 L834 334.7 L834.2 334.9 L834.3 334 L834.9 334.9 L835 336.2 L835.2 337.1 L835.4 338 L835.5 337.9 L836.1 339.6 L836.2 339 L836.4 338.7 L836.6 341.3 L836.8 341 L837.3 342.1 L837.4 343.8 L837.6 341.5 L837.8 342.3 L838 343 L838.5 346.2 L838.7 343.7 L838.8 345.3 L839 348.1 L839.2 345 L839.7 348.7 L839.9 350.2 L840 348.4 L840.2 347 L840.4 347.4 L840.9 347.3 L841.1 348.4 L841.3 350.1 L841.4 349.7 L841.6 345.3 L842.1 345.3 L842.3 346.9 L842.5 345.2 L842.6 341.9 L842.8 344.7 L843.3 342.8 L843.5 340.9 L843.7 340.3 L843.8 341 L844 336.7 L844.5 335.5 L844.7 335.7 L844.9 338.8 L845.1 332.7 L845.2 334.3 L845.7 334.9 L845.9 333.6 L846.1 333.7 L846.3 333.5 L846.4 329.7 L847 333 L847.1 331.7 L847.3 334.5 L847.5 333.3 L847.7 333.3 L848.2 333.8 L848.3 331.9 L848.5 335.2 L848.7 331.9 L848.9 333.7 L849.4 334.2 L849.6 336.5 L849.7 335.1 L849.9 334.1 L850.1 336.5 L850.6 338.3 L850.8 334.5 L850.9 337.7 L851.1 335.1 L851.3 335.5 L851.8 335.5 L852 334.2 L852.2 337.2 L852.3 336.2 L852.5 336 L853 333.2 L853.2 335.7 L853.4 332.6 L853.5 335.6 L853.7 330.8 L854.2 333.9 L854.4 330.1 L854.6 330.2 L854.7 332.1 L854.9 333.4 L855.4 333.3 L855.6 331 L855.8 330.6 L856 332.6 L856.1 330.1 L856.6 330.1 L856.8 332.5 L857 332.1 L857.2 331.1 L857.3 333.1 L857.9 329.3 L858 332.1 L858.2 334.5 L858.4 331.4 L858.6 330.2 L859.1 332.6 L859.2 331.2 L859.4 332.3 L859.6 331.3 L859.8 329.4 L860.3 328.5 L860.5 327.2 L860.6 331.8 L860.8 326.5 L861 326.6 L861.5 324.3 L861.7 325.5 L861.8 325.7 L862 322.3 L862.2 322.9 L862.7 322.2 L862.9 323.7 L863 320.7 L863.2 321.7 L863.4 322.8 L863.9 318.1 L864.1 320.3 L864.3 320.9 L864.4 318.7 L864.6 319.9 L865.1 321 L865.3 322.3 L865.5 322 L865.6 320.1 L865.8 320 L866.3 322.8 L866.5 319.3 L866.7 320.6 L866.9 320.4 L867 319.9 L867.5 323.3 L867.7 320.9 L867.9 322.5 L868.1 324.9 L868.2 325.2 L868.8 321.3 L868.9 322.1 L869.1 321.9 L869.3 321 L869.4 324.4 L870 322.8 L870.1 321.8 L870.3 319.2 L870.5 321.7 L870.7 320.6 L871.2 318.4 L871.4 318.7 L871.5 319.5 L871.7 317 L871.9 315.6 L872.4 313.3 L872.6 316.4 L872.7 314.8 L872.9 310.7 L873.1 313.8 L873.6 313.4 L873.8 309.4 L873.9 309.8 L874.1 313 L874.3 311 L874.8 309.5 L875 311.5 L875.2 312.4 L875.3 311.4 L875.5 312.3 L876 317.2 L876.2 318.2 L876.4 322 L876.5 322.2 L876.7 322.5 L877.2 325.7 L877.4 327.5 L877.6 326.9 L877.8 331.1 L877.9 332.7 L878.4 335.7 L878.6 338 L878.8 339.1 L879 335.3 L879.1 339.3 L879.7 340.2 L879.8 339.4 L880 338.5 L880.2 341.2 L880.3 339.6 L880.9 338.9 L881 333.8 L881.2 332 L881.4 332 L881.6 332.4 L882.1 329.1 L882.3 329 L882.4 324.3 L882.6 322.8 L882.8 325.1 L883.3 323.4 L883.5 323.1 L883.6 324.6 L883.8 321.5 L884 320.1 L884.5 326.5 L884.7 324.9 L884.8 325.1 L885 326.9 L885.2 329 L885.7 328.4 L885.9 331.3 L886.1 330 L886.2 333.7 L886.4 332.1 L886.9 334.8 L887.1 333.9 L887.3 335.3 L887.4 334.6 L887.6 334.1 L888.1 335.2 L888.3 335.8 L888.5 334.8 L888.7 334.1 L888.8 335 L889.3 335.7 L889.5 332.7 L889.7 330.7 L889.9 330.9 L890 332 L890.6 333.1 L890.7 329.6 L890.9 332.3 L891.1 330.4 L891.2 329.3 L891.8 328.5 L891.9 330.4 L892.1 327.9 L892.3 329.7 L892.5 330.5 L893 326.8 L893.1 326.9 L893.3 326.3 L893.5 329.6 L893.7 327.7 L894.2 329 L894.4 328.7 L894.5 332.6 L894.7 331.8 L894.9 332.4 L895.4 330.5 L895.6 332.4 L895.7 334.4 L895.9 335 L896.1 336.4 L896.6 338.9 L896.8 338.2 L897 338.8 L897.1 337.9 L897.3 338.4 L897.8 340 L898 340.5 L898.2 338.6 L898.3 340.3 L898.5 341.3 L899 341.9 L899.2 342.7 L899.4 341.6 L899.6 344.2 L899.7 345.8 L900.2 349.3 L900.4 349.3 L900.6 349 L900.8 349.2 L900.9 350.8 L901.5 351 L901.6 353 L901.8 351.2 L902 352.6 L902.1 351.5 L902.7 351.9 L902.8 351.9 L903 355 L903.2 353.1 L903.4 353.2 L903.9 358 L904 353.7 L904.2 355.7 L904.4 353.8 L904.6 354.8 L905.1 355.6 L905.3 353.7 L905.4 355.1 L905.6 350.6 L905.8 350 L906.3 346.1 L906.5 346.7 L906.6 345.1 L906.8 345.1 L907 343.1 L907.5 342.9 L907.7 340.7 L907.9 341.3 L908 340.5 L908.2 338.6 L908.7 338.2 L908.9 338.1 L909.1 338.3 L909.2 335 L909.4 339.5 L909.9 337.1 L910.1 337.3 L910.3 337.2 L910.4 335.4 L910.6 338.2 L911.1 337.9 L911.3 336.6 L911.5 339 L911.7 337.4 L911.8 336.4 L912.4 339.4 L912.5 339.4 L912.7 338.1 L912.9 337.7 L913 340.1 L913.6 337.8 L913.7 339.4 L913.9 339 L914.1 338.9 L914.3 340.3 L914.8 338.7 L914.9 340.8 L915.1 340.9 L915.3 340.1 L915.5 339.7 L916 339 L916.2 341.3 L916.3 343.4 L916.5 339.8 L916.7 339.6 L917.2 339.6 L917.4 341.1 L917.5 341.3 L917.7 341.7 L917.9 341.1 L918.4 339.4 L918.6 342.3 L918.8 340.6 L918.9 341.9 L919.1 341.2 L919.6 341 L919.8 342.4 L920 341 L920.1 343.7 L920.3 342 L920.8 340.9 L921 339 L921.2 340.4 L921.3 339.4 L921.5 339.5 L922 338 L922.2 335.9 L922.4 335.8 L922.6 336.9 L922.7 337.6 L923.3 335.4 L923.4 334.4 L923.6 334.5 L923.8 334.7 L923.9 333.4 L924.5 331.5 L924.6 331.3 L924.8 331.8 L925 328.2 L925.2 328.6 L925.7 326.9 L925.8 325.6 L926 326.6 L926.2 326.1 L926.4 323.6 L926.9 326.4 L927.1 323.8 L927.2 325.3 L927.4 324.4 L927.6 321.4 L928.1 322.7 L928.3 324.9 L928.4 325.5 L928.6 325.5 L928.8 322.4 L929.3 324.5 L929.5 326.2 L929.7 327.5 L929.8 326.4 L930 323.6 L930.5 325.4 L930.7 326.5 L930.9 326.8 L931 328.7 L931.2 329.7 L931.7 330.5 L931.9 327.1 L932.1 326.7 L932.2 326.8 L932.4 328.6 L933 329.1 L933.1 327 L933.3 328.5 L933.5 328.3 L933.7 326.9 L933.8 318.5 L934 315.1 L934.2 324.4 L934.4 327.1 L934.5 324.6 L934.7 326.5 L934.9 324.2 L935 308.3 L935.2 311.8 L935.4 323 L935.6 323.6 L935.7 325 L935.9 321.1 L936.1 322.6 L936.3 308.9 L936.4 310.1 L936.6 321.3 L936.8 323.1 L937 321.8 L937.1 324.3 L937.3 322.3 L937.5 309.3 L937.6 305.9 L937.8 324.2 L938 325.3 L938.2 324.7 L938.3 324 L938.5 323.7 L938.7 306.6 L938.9 310.1 L939 326.7 L939.2 326.9 L939.4 325.6 L939.5 326.3 L939.7 328.1 L939.9 314.6 L940.1 316.5 L940.2 333.8 L940.4 332.5 L940.6 332.8 L940.8 337.3 L940.9 339.6 L941.1 324.1 L941.3 321.8 L941.4 342 L941.6 340.4 L941.8 341.8 L942 341.1 L942.1 341.9 L942.3 328.1 L942.5 329.3 L942.7 342.6 L942.8 343.2 L943 344.7 L943.2 342.4 L943.4 343.4 L943.5 332.2 L943.7 333.6 L943.9 344.8 L943.9 401.6 L943.7 394.1 L943.5 396.4 L943.4 403.7 L943.2 404.8 L943 404.4 L942.8 405.8 L942.7 402.6 L942.5 388.5 L942.3 390.7 L942.1 400.5 L942 402.6 L941.8 401 L941.6 401 L941.4 399 L941.3 382 L941.1 376.9 L940.9 396.3 L940.8 394.1 L940.6 392.4 L940.4 394.2 L940.2 391.3 L940.1 371.5 L939.9 371.8 L939.7 386.3 L939.5 385.4 L939.4 384.3 L939.2 382.8 L939 384.6 L938.9 364.9 L938.7 367 L938.5 381.5 L938.3 381 L938.2 381.4 L938 379.7 L937.8 380.8 L937.6 365.1 L937.5 364.9 L937.3 379.4 L937.1 379.7 L937 384 L936.8 383.6 L936.6 380.2 L936.4 367.7 L936.3 367.4 L936.1 383.5 L935.9 383.3 L935.7 385.2 L935.6 386.5 L935.4 383 L935.2 371.3 L935 370.9 L934.9 383.9 L934.7 384.4 L934.5 385 L934.4 388 L934.2 387 L934 376.9 L933.8 378.9 L933.7 390 L933.5 388.4 L933.3 388.2 L933.1 386.5 L933 388.6 L932.4 387.7 L932.2 385.4 L932.1 385.7 L931.9 386.4 L931.7 384.1 L931.2 385.8 L931 384.5 L930.9 384.9 L930.7 384.6 L930.5 383 L930 383.5 L929.8 383.1 L929.7 381.6 L929.5 382.5 L929.3 382 L928.8 381.5 L928.6 379.4 L928.4 383.6 L928.3 380 L928.1 380.7 L927.6 381.8 L927.4 382 L927.2 380 L927.1 379.8 L926.9 383.5 L926.4 381.3 L926.2 384.6 L926 384.3 L925.8 387 L925.7 386.6 L925.2 387.5 L925 388.8 L924.8 391.3 L924.6 392.1 L924.5 390.7 L923.9 391.8 L923.8 394.9 L923.6 392.5 L923.4 394.7 L923.3 396.1 L922.7 396 L922.6 397.4 L922.4 398.6 L922.2 397.7 L922 396.1 L921.5 398.1 L921.3 397.1 L921.2 398.6 L921 395.6 L920.8 397.7 L920.3 398 L920.1 399.1 L920 398.6 L919.8 397.4 L919.6 397.6 L919.1 397 L918.9 397.7 L918.8 395.2 L918.6 398.5 L918.4 398.6 L917.9 397.5 L917.7 395.9 L917.5 396.6 L917.4 397.1 L917.2 397.6 L916.7 396.9 L916.5 395.7 L916.3 395.6 L916.2 395.2 L916 394.8 L915.5 396.2 L915.3 395.6 L915.1 396.7 L914.9 397.1 L914.8 394.4 L914.3 396.7 L914.1 397 L913.9 395.3 L913.7 396.3 L913.6 396.8 L913 396.2 L912.9 395 L912.7 394.4 L912.5 394 L912.4 395.3 L911.8 394.4 L911.7 394.1 L911.5 395.6 L911.3 398.7 L911.1 393.9 L910.6 395.6 L910.4 397.5 L910.3 396.6 L910.1 394.6 L909.9 396.8 L909.4 396 L909.2 398.8 L909.1 395 L908.9 395.3 L908.7 398.4 L908.2 398.3 L908 398 L907.9 398.7 L907.7 399 L907.5 402.1 L907 403.4 L906.8 400.7 L906.6 403 L906.5 404.3 L906.3 404.1 L905.8 406.2 L905.6 405.9 L905.4 407.7 L905.3 406.9 L905.1 410.6 L904.6 408.5 L904.4 406.7 L904.2 408 L904 407.8 L903.9 408 L903.4 408.3 L903.2 410.8 L903 410 L902.8 409.4 L902.7 407.9 L902.1 408.2 L902 408.3 L901.8 407.1 L901.6 407.1 L901.5 406.8 L900.9 405.5 L900.8 404 L900.6 403.6 L900.4 405.9 L900.2 403.2 L899.7 401.2 L899.6 404 L899.4 401.6 L899.2 403.2 L899 400.1 L898.5 398 L898.3 398 L898.2 400.4 L898 398.8 L897.8 397.7 L897.3 394.4 L897.1 395.3 L897 393 L896.8 393 L896.6 395.1 L896.1 391.3 L895.9 391 L895.7 390.2 L895.6 391 L895.4 387.9 L894.9 386.6 L894.7 389.4 L894.5 386.2 L894.4 387.6 L894.2 388.7 L893.7 386.7 L893.5 387.8 L893.3 385.1 L893.1 385.4 L893 383.4 L892.5 382 L892.3 386.9 L892.1 385.9 L891.9 388.6 L891.8 386.8 L891.2 387 L891.1 386.9 L890.9 391.1 L890.7 388 L890.6 393.6 L890 390 L889.9 392.4 L889.7 391.7 L889.5 392.8 L889.3 394.8 L888.8 391.9 L888.7 393 L888.5 392.7 L888.3 393.2 L888.1 392.3 L887.6 391.5 L887.4 393.3 L887.3 394.9 L887.1 391.1 L886.9 392.3 L886.4 388 L886.2 389.8 L886.1 388.8 L885.9 386.9 L885.7 386.5 L885.2 384.9 L885 384.5 L884.8 381.5 L884.7 381.9 L884.5 383 L884 379.2 L883.8 379.3 L883.6 379.6 L883.5 379.3 L883.3 380.4 L882.8 380.6 L882.6 382 L882.4 381.2 L882.3 383.1 L882.1 386.2 L881.6 387.3 L881.4 388.8 L881.2 389.7 L881 392 L880.9 392.1 L880.3 394.1 L880.2 394.9 L880 395.6 L879.8 398.5 L879.7 398.4 L879.1 398.6 L879 397 L878.8 395.8 L878.6 396.8 L878.4 394.8 L877.9 392.5 L877.8 389.9 L877.6 386.5 L877.4 389.9 L877.2 387.8 L876.7 379.1 L876.5 380.9 L876.4 378.6 L876.2 376 L876 376 L875.5 371.2 L875.3 369.5 L875.2 369.5 L875 367.5 L874.8 366.2 L874.3 366.1 L874.1 367.7 L873.9 365.8 L873.8 365.5 L873.6 366.1 L873.1 367.2 L872.9 370.1 L872.7 367 L872.6 370.2 L872.4 373.1 L871.9 373.7 L871.7 375.3 L871.5 373 L871.4 374.4 L871.2 374.8 L870.7 374.9 L870.5 376.9 L870.3 377.8 L870.1 378.3 L870 379 L869.4 378.9 L869.3 381.6 L869.1 383.2 L868.9 381.7 L868.8 381.7 L868.2 379.9 L868.1 380.1 L867.9 382.8 L867.7 383.6 L867.5 382.3 L867 383.6 L866.9 380.9 L866.7 380.9 L866.5 380.6 L866.3 379 L865.8 380.6 L865.6 378 L865.5 377.5 L865.3 379.6 L865.1 376.9 L864.6 378.1 L864.4 377.4 L864.3 375.7 L864.1 377 L863.9 377.3 L863.4 377.4 L863.2 376.4 L863 376.8 L862.9 374.5 L862.7 376.2 L862.2 378.9 L862 379.2 L861.8 379.9 L861.7 379.5 L861.5 380.7 L861 384.1 L860.8 381.9 L860.6 383.1 L860.5 382.9 L860.3 380.5 L859.8 384.9 L859.6 385.5 L859.4 389 L859.2 386.6 L859.1 389.8 L858.6 387.1 L858.4 387 L858.2 390.7 L858 387.6 L857.9 390.3 L857.3 391.6 L857.2 391.3 L857 390.9 L856.8 390.4 L856.6 391.1 L856.1 392.1 L856 392 L855.8 391.4 L855.6 393.1 L855.4 390.9 L854.9 392.8 L854.7 391.9 L854.6 389.8 L854.4 392.1 L854.2 392.8 L853.7 389.6 L853.5 389.9 L853.4 390 L853.2 390.5 L853 390.7 L852.5 390.6 L852.3 391.2 L852.2 388.3 L852 388 L851.8 389.4 L851.3 388.2 L851.1 392.1 L850.9 392.6 L850.8 391.8 L850.6 391.8 L850.1 389.5 L849.9 388.4 L849.7 391.1 L849.6 391.3 L849.4 390.3 L848.9 391.4 L848.7 390.9 L848.5 391.1 L848.3 392 L848.2 390.5 L847.7 390.6 L847.5 387.8 L847.3 389.9 L847.1 387.5 L847 388.9 L846.4 390 L846.3 389.4 L846.1 390.1 L845.9 390.1 L845.7 390.6 L845.2 388.5 L845.1 391.8 L844.9 392.3 L844.7 394.6 L844.5 393.5 L844 396.9 L843.8 399.3 L843.7 397.1 L843.5 398.9 L843.3 396 L842.8 404.7 L842.6 404.6 L842.5 401.7 L842.3 401.5 L842.1 401.2 L841.6 403.8 L841.4 408 L841.3 405.8 L841.1 406 L840.9 406.5 L840.4 405.9 L840.2 407 L840 404.9 L839.9 405.8 L839.7 405.7 L839.2 403.9 L839 403 L838.8 403.8 L838.7 403.7 L838.5 400.2 L838 399.9 L837.8 399.1 L837.6 400.5 L837.4 400.5 L837.3 402.2 L836.8 397.4 L836.6 398.9 L836.4 397.9 L836.2 398.5 L836.1 399 L835.5 393.7 L835.4 395.7 L835.2 397.5 L835 393.3 L834.9 395 L834.3 392.9 L834.2 392.7 L834 393.2 L833.8 391.3 L833.6 395.4 L833.1 388.5 L832.9 389.8 L832.8 387.7 L832.6 387.6 L832.4 388.7 L831.9 386.9 L831.7 385.1 L831.6 383.9 L831.4 383.6 L831.2 384.5 L830.7 384.1 L830.5 383.9 L830.4 382.6 L830.2 381 L830 384.6 L829.5 382.1 L829.3 382.3 L829.1 380.3 L829 382.1 L828.8 382.9 L828.3 381.4 L828.1 381.1 L827.9 381.4 L827.8 380.9 L827.6 380 L827.1 384.6 L826.9 383.4 L826.7 383.5 L826.5 384 L826.4 383.4 L825.9 385.7 L825.7 384.7 L825.5 384.1 L825.3 385.3 L825.2 388.7 L824.6 386.4 L824.5 386.9 L824.3 386 L824.1 386.7 L824 386.3 L823.4 384.8 L823.3 383.3 L823.1 384.9 L822.9 383.7 L822.7 383.6 L822.2 381.5 L822 383.3 L821.9 378.3 L821.7 378.8 L821.5 378.4 L821 375.6 L820.8 376.5 L820.7 375.9 L820.5 372.1 L820.3 372 L819.8 376.6 L819.6 373 L819.5 374.2 L819.3 374.7 L819.1 377 L818.6 380.3 L818.4 379.1 L818.2 381.3 L818.1 384.3 L817.9 386.5 L817.4 389.8 L817.2 390.9 L817 391 L816.9 392 L816.7 392 L816.2 393 L816 393.6 L815.8 391.5 L815.6 394.1 L815.5 393.8 L815 390 L814.8 388.5 L814.6 387.7 L814.4 387.3 L814.3 386 L813.7 381.3 L813.6 380.9 L813.4 380 L813.2 377.1 L813.1 375.1 L812.5 370.4 L812.4 368.7 L812.2 369.6 L812 368 L811.8 367 L811.3 362.7 L811.2 364 L811 366.7 L810.8 362.7 L810.6 364.9 L810.1 362.5 L809.9 364.9 L809.8 365.9 L809.6 365.8 L809.4 366.6 L808.9 366.3 L808.7 371.4 L808.6 368 L808.4 369.1 L808.2 370.9 L807.7 371.2 L807.5 374.6 L807.3 374.4 L807.2 372.5 L807 376.7 L806.5 377.7 L806.3 378.3 L806.1 376.3 L806 378.4 L805.8 376.6 L805.3 376.2 L805.1 380.2 L804.9 379.2 L804.8 378.6 L804.6 379.1 L804.1 379.3 L803.9 379.4 L803.7 375.7 L803.5 375.7 L803.4 372.7 L802.8 376.8 L802.7 374 L802.5 374.8 L802.3 376.4 L802.2 374.7 L801.6 373.5 L801.5 372.3 L801.3 371.8 L801.1 371.2 L800.9 371.3 L800.4 369.6 L800.3 370.5 L800.1 369.2 L799.9 369.9 L799.7 369.6 L799.2 371.5 L799 371.9 L798.9 370.9 L798.7 370.5 L798.5 372.6 L798 372.3 L797.8 374.9 L797.7 373.2 L797.5 376.1 L797.3 375 L796.8 377.7 L796.6 378.4 L796.4 377.6 L796.3 377.9 L796.1 379.5 L795.6 381.4 L795.4 382.2 L795.2 381.9 L795.1 382.4 L794.9 383.7 L794.4 383.3 L794.2 382.4 L794 381.4 L793.9 382.1 L793.7 384.8 L793.2 386.4 L793 386.8 L792.8 384.8 L792.6 384.5 L792.5 385.9 L791.9 386.3 L791.8 386.1 L791.6 384.8 L791.4 384.3 L791.3 386.2 L790.7 383.1 L790.6 386.7 L790.4 386.7 L790.2 386.3 L790 383.6 L789.5 386.4 L789.4 386.3 L789.2 386 L789 386.4 L788.8 384.9 L788.3 386.7 L788.1 386.3 L788 387.4 L787.8 387.3 L787.6 388.8 L787.1 386.3 L786.9 385.6 L786.8 384.9 L786.6 385.6 L786.4 387 L785.9 382.9 L785.7 386.5 L785.5 386.2 L785.4 385.1 L785.2 385.9 L784.7 383.4 L784.5 386.8 L784.3 385.8 L784.2 385.8 L784 385.7 L783.5 388.4 L783.3 388.2 L783.1 386 L783 386 L782.8 388.6 L782.3 386.7 L782.1 385.5 L781.9 388.7 L781.7 387.7 L781.6 388 L781.1 394.5 L780.9 394.5 L780.7 392.6 L780.5 392.9 L780.4 392.9 L779.8 395.2 L779.7 397.9 L779.5 397.5 L779.3 398.5 L779.1 400.1 L778.6 400.3 L778.5 400 L778.3 400.8 L778.1 401.8 L777.9 402.3 L777.4 403.2 L777.2 398.7 L777.1 399.4 L776.9 399.9 L776.7 400 L776.2 399.4 L776 398.7 L775.9 395.5 L775.7 397.6 L775.5 399.4 L775 397 L774.8 396.6 L774.7 397.4 L774.5 397.7 L774.3 398.9 L773.8 395.6 L773.6 395.9 L773.4 393.2 L773.3 395.2 L773.1 393 L772.6 391.6 L772.4 391.6 L772.2 393.3 L772.1 391.2 L771.9 392.8 L771.4 392.9 L771.2 391.7 L771 390.8 L770.8 388.5 L770.7 388.2 L770.2 385.7 L770 386.4 L769.8 386.8 L769.6 384.7 L769.5 384.2 L768.9 383.8 L768.8 381.1 L768.6 381.6 L768.4 379.3 L768.2 380.9 L767.7 378.7 L767.6 378.8 L767.4 377.6 L767.2 375.3 L767 378.5 L766.5 377.1 L766.3 374.6 L766.2 378 L766 377.1 L765.8 375.8 L765.3 378 L765.1 376.6 L765 376.6 L764.8 378.4 L764.6 378.5 L764.1 378.5 L763.9 380.8 L763.8 379.7 L763.6 380.3 L763.4 379.3 L762.9 381.9 L762.7 381.8 L762.5 380.9 L762.4 383.8 L762.2 383.7 L761.7 383.1 L761.5 385 L761.3 383.4 L761.2 384.6 L761 383.4 L760.5 384.9 L760.3 381.3 L760.1 380.4 L759.9 381.8 L759.8 381.7 L759.3 378.4 L759.1 380.1 L758.9 376.9 L758.7 377.6 L758.6 376.9 L758 373.9 L757.9 373.8 L757.7 373.3 L757.5 372.8 L757.4 370.7 L756.8 374.7 L756.7 373.6 L756.5 374.9 L756.3 375.2 L756.1 372.7 L755.6 376.9 L755.4 376.2 L755.3 380.2 L755.1 380.9 L754.9 382.4 L754.4 382.7 L754.2 384.4 L754.1 386.1 L753.9 387.1 L753.7 387.1 L753.2 388.8 L753 390.6 L752.9 388.8 L752.7 390 L752.5 389 L752 386.3 L751.8 384.8 L751.6 383.3 L751.5 383.8 L751.3 382.1 L750.8 379.2 L750.6 374.7 L750.4 374 L750.3 374 L750.1 373.8 L749.6 363.9 L749.4 365.5 L749.2 362.5 L749 360.1 L748.9 363.7 L748.4 362.4 L748.2 361.2 L748 359.2 L747.8 359.9 L747.7 360.3 L747.1 361 L747 358.6 L746.8 360.8 L746.6 365.4 L746.5 362.8 L745.9 364.6 L745.8 365.8 L745.6 367.3 L745.4 366.6 L745.2 368.5 L744.7 370.9 L744.5 371 L744.4 369.3 L744.2 372.5 L744 372.6 L743.5 374.8 L743.3 373.5 L743.2 376.7 L743 373 L742.8 373.4 L742.3 373 L742.1 375.3 L742 374.8 L741.8 373.5 L741.6 372.7 L741.1 374.9 L740.9 374.6 L740.7 373.7 L740.6 371.8 L740.4 370.3 L739.9 367.8 L739.7 368.7 L739.5 371.9 L739.4 369.9 L739.2 371.4 L738.7 367.4 L738.5 370.1 L738.3 369.5 L738.1 369.9 L738 370.9 L737.5 369.1 L737.3 369.8 L737.1 370.3 L736.9 372.1 L736.8 370.2 L736.2 373.5 L736.1 373.2 L735.9 374.2 L735.7 373.7 L735.6 376.2 L735 375.6 L734.9 377.4 L734.7 377.4 L734.5 379.9 L734.3 379.2 L733.8 384.5 L733.7 384.2 L733.5 383.1 L733.3 386.6 L733.1 385.2 L732.6 384.9 L732.4 386.1 L732.3 387 L732.1 386.5 L731.9 387.2 L731.4 388.2 L731.2 385.7 L731.1 389.7 L730.9 386.6 L730.7 387 L730.2 388.8 L730 388.5 L729.8 386.7 L729.7 385.6 L729.5 388.4 L729 388.1 L728.8 387.7 L728.6 386.7 L728.5 386.3 L728.3 387.1 L727.8 387.4 L727.6 387.8 L727.4 385.5 L727.3 388.3 L727.1 388.3 L726.6 387.9 L726.4 387.3 L726.2 386.6 L726 388 L725.9 385.6 L725.3 386.2 L725.2 387.1 L725 387 L724.8 383.6 L724.7 385.5 L724.1 386.7 L724 387.8 L723.8 387.4 L723.6 385.6 L723.4 386.7 L722.9 384.7 L722.8 385.3 L722.6 384.9 L722.4 388 L722.2 387 L721.7 384.2 L721.5 386.2 L721.4 385.2 L721.2 383.7 L721 383.4 L720.5 382.4 L720.3 387.6 L720.2 385.4 L720 384.5 L719.8 386.9 L719.3 385.9 L719.1 386.3 L718.9 386.2 L718.8 384.8 L718.6 389.8 L718.1 389.9 L717.9 389.6 L717.7 392.1 L717.6 391.9 L717.4 392.2 L716.9 393.5 L716.7 395 L716.5 397.2 L716.4 398.5 L716.2 399.7 L715.7 401.3 L715.5 404.6 L715.3 402.2 L715.1 401.9 L715 404.3 L714.4 403.2 L714.3 401.3 L714.1 403.7 L713.9 401.3 L713.8 403.6 L713.2 401.4 L713.1 401.4 L712.9 402 L712.7 400 L712.5 403.3 L712 399.8 L711.9 397.7 L711.7 400.7 L711.5 397.4 L711.3 398.9 L710.8 396.8 L710.6 394.5 L710.5 394.8 L710.3 393.8 L710.1 393.3 L709.6 389.6 L709.4 393.1 L709.3 390 L709.1 391.5 L708.9 390.4 L708.4 388.3 L708.2 391.5 L708 388.4 L707.9 387.2 L707.7 386.6 L707.2 385.8 L707 385.6 L706.8 383.6 L706.7 379.8 L706.5 382.7 L706 379.4 L705.8 380.6 L705.6 380.8 L705.5 376.4 L705.3 376.1 L704.8 377.2 L704.6 375.5 L704.4 376.5 L704.2 374.7 L704.1 375.9 L703.6 376.1 L703.4 374.1 L703.2 373.8 L703 374.8 L702.9 373.2 L702.3 372.4 L702.2 375 L702 374.8 L701.8 375.7 L701.6 376.2 L701.1 374.4 L701 375.6 L700.8 377.9 L700.6 378.8 L700.4 379.1 L699.9 379.2 L699.7 380.2 L699.6 381.6 L699.4 381.8 L699.2 382.4 L698.7 382.2 L698.5 380.3 L698.4 382.1 L698.2 383.3 L698 382.6 L697.5 379.8 L697.3 379.6 L697.1 378.8 L697 378.5 L696.8 378.9 L696.3 375.6 L696.1 374.9 L695.9 376.2 L695.8 374.1 L695.6 370.7 L695.1 369.9 L694.9 371.6 L694.7 372.6 L694.6 370.6 L694.4 368.1 L693.9 370.7 L693.7 371.3 L693.5 372.5 L693.3 373 L693.2 371.4 L692.7 374.2 L692.5 376.8 L692.3 374.3 L692.1 373.8 L692 379.9 L691.4 383.5 L691.3 386.5 L691.1 384.3 L690.9 383.7 L690.7 383.1 L690.2 385.3 L690.1 387.4 L689.9 386.6 L689.7 385.7 L689.5 386.1 L689 383.2 L688.8 382 L688.7 380.6 L688.5 378.8 L688.3 380.9 L687.8 374.9 L687.6 371.9 L687.5 369.8 L687.3 372.2 L687.1 367.3 L686.6 363 L686.4 361.1 L686.3 361.3 L686.1 361.3 L685.9 357.3 L685.4 358.7 L685.2 355.9 L685 354.6 L684.9 357 L684.7 357.4 L684.2 355.4 L684 358.6 L683.8 357.2 L683.7 359.2 L683.5 356.3 L683 357.9 L682.8 361.2 L682.6 361.6 L682.4 362.5 L682.3 358.2 L681.8 363.7 L681.6 362.6 L681.4 362.5 L681.2 361.7 L681.1 363.5 L680.5 366.9 L680.4 364.5 L680.2 367.1 L680 368.1 L679.9 366.4 L679.3 365.1 L679.2 366.6 L679 367.1 L678.8 366.7 L678.6 369.1 L678.1 366.2 L677.9 368.5 L677.8 366.8 L677.6 368.4 L677.4 364.9 L676.9 366.9 L676.7 366.3 L676.6 367.8 L676.4 364 L676.2 365.8 L675.7 366.3 L675.5 364.8 L675.4 366.8 L675.2 365.5 L675 368 L674.5 366.9 L674.3 364 L674.1 368.5 L674 367.1 L673.8 369.1 L673.3 367.3 L673.1 367.6 L672.9 367.9 L672.8 370.2 L672.6 370.7 L672.1 370.2 L671.9 372.1 L671.7 373 L671.5 373 L671.4 374.2 L670.9 375.2 L670.7 375.1 L670.5 375.7 L670.3 376.1 L670.2 378.4 L669.6 376.1 L669.5 375.6 L669.3 373.5 L669.1 377.1 L669 376.5 L668.4 374.8 L668.3 376.8 L668.1 375.7 L667.9 377.7 L667.7 378.1 L667.2 376.3 L667 377.2 L666.9 377.1 L666.7 378.4 L666.5 377.6 L666 376.1 L665.8 379.4 L665.7 378.5 L665.5 376.7 L665.3 377.1 L664.8 375.8 L664.6 377.3 L664.5 379.8 L664.3 378.1 L664.1 378.1 L663.6 377.1 L663.4 378.3 L663.2 378.1 L663.1 376.9 L662.9 378.6 L662.4 376.9 L662.2 378.2 L662 377.6 L661.9 379.8 L661.7 379.6 L661.2 376.2 L661 376.9 L660.8 378.5 L660.6 377.8 L660.5 376.1 L660 378 L659.8 378.7 L659.6 377 L659.4 378.1 L659.3 379 L658.7 377.2 L658.6 377.8 L658.4 379.2 L658.2 377.9 L658.1 376.2 L657.5 376.4 L657.4 378.5 L657.2 379.5 L657 377.4 L656.8 379.3 L656.3 377.7 L656.2 377.8 L656 377.1 L655.8 379.8 L655.6 377.8 L655.1 380.2 L654.9 378.2 L654.8 381.4 L654.6 381.2 L654.4 381.1 L653.9 384.5 L653.7 384.2 L653.6 387.3 L653.4 387 L653.2 387 L652.7 391 L652.5 391.6 L652.3 393.5 L652.2 391.1 L652 393.4 L651.5 393 L651.3 393.8 L651.1 395.8 L651 393.4 L650.8 397 L650.3 393.5 L650.1 392.6 L649.9 390.7 L649.7 391.2 L649.6 393.8 L649.1 389.9 L648.9 391 L648.7 388.3 L648.5 387.8 L648.4 386.5 L647.8 385.3 L647.7 385.6 L647.5 384.7 L647.3 384.7 L647.2 382.2 L646.6 384.8 L646.5 381.5 L646.3 381.2 L646.1 379.2 L645.9 380.8 L645.4 378 L645.3 380.9 L645.1 378.2 L644.9 377.8 L644.7 377.9 L644.2 375 L644 376.6 L643.9 375.9 L643.7 373 L643.5 373.6 L643 375.7 L642.8 376.5 L642.7 371.1 L642.5 373.2 L642.3 372.3 L641.8 369.2 L641.6 369.6 L641.4 370.1 L641.3 372 L641.1 371.2 L640.6 371.1 L640.4 371.4 L640.2 368.5 L640.1 367 L639.9 367.7 L639.4 369.4 L639.2 368.1 L639 367.8 L638.9 368.6 L638.7 367.1 L638.2 370.3 L638 369.7 L637.8 368.6 L637.6 369.8 L637.5 370.5 L636.9 367.2 L636.8 372.1 L636.6 370.3 L636.4 371.8 L636.3 373 L635.7 372.5 L635.6 372.3 L635.4 374.3 L635.2 370.2 L635 371.4 L634.5 371.1 L634.4 372.2 L634.2 373 L634 373.6 L633.8 369.9 L633.3 367.5 L633.1 369.1 L633 367.9 L632.8 365.6 L632.6 369.3 L632.1 363.8 L631.9 364.9 L631.8 362.9 L631.6 364.4 L631.4 361.2 L630.9 362.3 L630.7 362.9 L630.5 363.5 L630.4 363.9 L630.2 364.2 L629.7 365.7 L629.5 366 L629.3 366.1 L629.2 370.1 L629 369.3 L628.5 375.3 L628.3 375.6 L628.1 374.8 L628 375.2 L627.8 376.1 L627.3 378.4 L627.1 376.8 L626.9 377.7 L626.7 378.3 L626.6 377 L626 375.5 L625.9 371.3 L625.7 373.3 L625.5 370.6 L625.4 370.4 L624.8 367.8 L624.7 367.2 L624.5 365.4 L624.3 363.5 L624.1 363.4 L623.6 352.5 L623.5 355.9 L623.3 350.3 L623.1 351.5 L622.9 351.7 L622.4 347.4 L622.2 348.4 L622.1 345.3 L621.9 346.7 L621.7 345.8 L621.2 347.8 L621 347 L620.9 347.9 L620.7 347.3 L620.5 350.7 L620 352.9 L619.8 350.1 L619.6 350.2 L619.5 351 L619.3 351 L618.8 353.2 L618.6 356.7 L618.4 351.5 L618.3 354.5 L618.1 353.9 L617.6 359.2 L617.4 357.5 L617.2 360.9 L617.1 358.4 L616.9 360.3 L616.4 358.7 L616.2 361.1 L616 363.2 L615.8 361.1 L615.7 360.9 L615.2 364.7 L615 363.6 L614.8 360.4 L614.6 361.9 L614.5 360.9 L613.9 359.8 L613.8 361.3 L613.6 358 L613.4 363.9 L613.2 362.6 L612.7 361.6 L612.6 365.1 L612.4 361.3 L612.2 362.7 L612 362.8 L611.5 364.6 L611.3 363.8 L611.2 361.7 L611 361.8 L610.8 363 L610.3 364.8 L610.1 366.2 L610 365.8 L609.8 366.6 L609.6 369.6 L609.1 371.3 L608.9 374.2 L608.8 373 L608.6 376.4 L608.4 377.2 L607.9 378.2 L607.7 378.4 L607.5 382.1 L607.4 381.9 L607.2 381 L606.7 381.4 L606.5 386.4 L606.3 386.7 L606.2 384 L606 384.5 L605.5 385.6 L605.3 386.2 L605.1 388.5 L604.9 388.9 L604.8 388.4 L604.3 390.1 L604.1 389.5 L603.9 390.9 L603.7 389.7 L603.6 394.1 L603 390.9 L602.9 391.3 L602.7 392.8 L602.5 392.1 L602.3 392.5 L601.8 393.7 L601.7 394.1 L601.5 392.2 L601.3 389.1 L601.1 395.3 L600.6 395 L600.4 395.6 L600.3 393.2 L600.1 394.7 L599.9 394.4 L599.4 395.6 L599.2 393.6 L599.1 395.7 L598.9 396.3 L598.7 396.4 L598.2 399.7 L598 398.7 L597.9 397.8 L597.7 399.3 L597.5 398.7 L597 400 L596.8 398.5 L596.6 399.3 L596.5 402.4 L596.3 402.4 L595.8 403.2 L595.6 403.7 L595.4 402.2 L595.3 401.8 L595.1 402.7 L594.6 400.9 L594.4 403.5 L594.2 404 L594 402.7 L593.9 404.9 L593.4 407.8 L593.2 406.7 L593 406.5 L592.8 410.8 L592.7 411.6 L592.1 411.2 L592 411 L591.8 414 L591.6 415.7 L591.5 415 L590.9 419.5 L590.8 419.1 L590.6 420.8 L590.4 421.7 L590.2 423.4 L589.7 422.7 L589.5 428 L589.4 425.7 L589.2 426.2 L589 424.6 L588.5 426.1 L588.3 427.2 L588.2 426.5 L588 429.4 L587.8 429.6 L587.3 430.4 L587.1 426.6 L587 427 L586.8 427.7 L586.6 428.9 L586.1 425.8 L585.9 425.1 L585.7 427.3 L585.6 425.9 L585.4 426.5 L584.9 425.8 L584.7 426.7 L584.5 428.3 L584.4 422.4 L584.2 423.6 L583.7 425.9 L583.5 424.3 L583.3 425.3 L583.1 424.7 L583 425.1 L582.5 424.8 L582.3 426.4 L582.1 426.2 L581.9 423.3 L581.8 423.1 L581.2 421.5 L581.1 421.3 L580.9 420.7 L580.7 422.3 L580.6 419.7 L580 420.7 L579.9 421.7 L579.7 421.8 L579.5 421.8 L579.3 422.1 L578.8 418.5 L578.6 418.1 L578.5 417.7 L578.3 418 L578.1 417.1 L577.6 417.7 L577.4 416.6 L577.3 416.6 L577.1 413.4 L576.9 419.2 L576.4 415.8 L576.2 415.6 L576.1 416.2 L575.9 416.5 L575.7 418.5 L575.2 417.9 L575 419.4 L574.8 422 L574.7 422.3 L574.5 422.6 L574 423.7 L573.8 423.3 L573.6 423.6 L573.5 423.4 L573.3 423.6 L572.8 426.7 L572.6 427.2 L572.4 428.1 L572.2 426.3 L572.1 425.6 L571.6 427.4 L571.4 425.5 L571.2 424.8 L571 426.2 L570.9 425.5 L570.3 422.7 L570.2 423.3 L570 423.3 L569.8 421.6 L569.7 419.6 L569.1 419.5 L569 421.1 L568.8 419.5 L568.6 416.7 L568.4 416.6 L567.9 417.7 L567.8 417.5 L567.6 419.6 L567.4 420 L567.2 419.7 L566.7 423.5 L566.5 424.2 L566.4 424.7 L566.2 426 L566 425.7 L565.5 431.2 L565.3 430.4 L565.2 433.7 L565 433.2 L564.8 439 L564.3 440.3 L564.1 439.9 L563.9 439.5 L563.8 439.6 L563.6 437.6 L563.1 438.8 L562.9 434.6 L562.7 433.9 L562.6 435.7 L562.4 434.3 L561.9 428.1 L561.7 423.7 L561.5 424.8 L561.4 422.3 L561.2 421.4 L560.7 416.5 L560.5 415.8 L560.3 416.2 L560.1 414.2 L560 415.1 L559.4 410.9 L559.3 411.4 L559.1 410.8 L558.9 410.9 L558.8 410.3 L558.2 409.8 L558.1 410.7 L557.9 412.1 L557.7 414.1 L557.5 414 L557 414.5 L556.9 414.9 L556.7 413.9 L556.5 414.3 L556.3 414.4 L555.8 417.6 L555.6 416.2 L555.5 416.5 L555.3 416.4 L555.1 420.1 L554.6 419.8 L554.4 420.2 L554.3 419.4 L554.1 420.1 L553.9 417.3 L553.4 420.8 L553.2 421 L553 416.8 L552.9 416.6 L552.7 416.1 L552.2 414.8 L552 416.3 L551.8 416.4 L551.7 418 L551.5 417.8 L551 415.7 L550.8 416.5 L550.6 414.7 L550.5 412.4 L550.3 414.2 L549.8 413.4 L549.6 412 L549.4 411.5 L549.2 412.9 L549.1 410.8 L548.5 411.3 L548.4 413.6 L548.2 411.3 L548 410.8 L547.9 412.1 L547.3 413.2 L547.2 412.5 L547 410 L546.8 413.7 L546.6 412.9 L546.1 416.3 L546 413.4 L545.8 411.8 L545.6 414 L545.4 415.4 L544.9 419.2 L544.7 416.4 L544.6 416.9 L544.4 416.9 L544.2 419.7 L543.7 419.6 L543.5 420.9 L543.4 419.3 L543.2 421.5 L543 419.2 L542.5 420.9 L542.3 417.7 L542.1 419.3 L542 420.4 L541.8 420.4 L541.3 422.3 L541.1 421.5 L540.9 420.7 L540.8 420.6 L540.6 422.3 L540.1 421.6 L539.9 419.5 L539.7 419.9 L539.6 422.2 L539.4 419.5 L538.9 421.5 L538.7 421 L538.5 419.9 L538.3 418.9 L538.2 421.3 L537.7 422 L537.5 420.1 L537.3 421.1 L537.1 423.2 L537 420.3 L536.4 423.4 L536.3 422.9 L536.1 420.8 L535.9 419.9 L535.7 421.1 L535.2 423.2 L535.1 421.9 L534.9 421.2 L534.7 418.4 L534.5 418.2 L534 420.3 L533.8 417.3 L533.7 418 L533.5 421.4 L533.3 417.2 L532.8 415.6 L532.6 415 L532.5 415.3 L532.3 415.7 L532.1 413.1 L531.6 414.6 L531.4 412.7 L531.2 412.9 L531.1 414.1 L530.9 414.2 L530.4 413.3 L530.2 413.3 L530 412.5 L529.9 411.5 L529.7 412.9 L529.2 413.4 L529 416.2 L528.8 416 L528.7 414 L528.5 416.4 L528 418.6 L527.8 419.9 L527.6 420.4 L527.4 419.5 L527.3 420.4 L526.8 424.5 L526.6 423.2 L526.4 423.8 L526.2 424.2 L526.1 426.1 L525.5 427.6 L525.4 427.7 L525.2 428.1 L525 427 L524.8 428.1 L524.3 427.2 L524.2 426.2 L524 427.1 L523.8 424.9 L523.6 426.2 L523.1 427.7 L522.9 423.6 L522.8 421.6 L522.6 424.9 L522.4 422.8 L521.9 423.5 L521.7 421.3 L521.6 420.1 L521.4 420.2 L521.2 421.2 L520.7 418.4 L520.5 414.6 L520.4 417.1 L520.2 416.2 L520 416.1 L519.5 415.7 L519.3 414.9 L519.1 414.6 L519 414.1 L518.8 412.4 L518.3 412.1 L518.1 410.6 L517.9 410.4 L517.8 409.9 L517.6 408.7 L517.1 406.1 L516.9 404.8 L516.7 402 L516.5 403.3 L516.4 404.2 L515.9 399.7 L515.7 399 L515.5 396.6 L515.3 398.5 L515.2 396.8 L514.6 396.3 L514.5 396.7 L514.3 395.6 L514.1 396.8 L514 395.8 L513.4 397.1 L513.3 394 L513.1 394.8 L512.9 393.4 L512.7 394.3 L512.2 393.5 L512 393.8 L511.9 399.5 L511.7 397.1 L511.5 398.4 L511 397.2 L510.8 397.8 L510.7 396 L510.5 396.9 L510.3 399.3 L509.8 399.7 L509.6 398.6 L509.5 401.4 L509.3 397.1 L509.1 395.7 L508.6 399.7 L508.4 397.2 L508.2 394.1 L508.1 391.9 L507.9 391.1 L507.4 384.9 L507.2 386.9 L507 382.1 L506.9 380.1 L506.7 381.1 L506.2 370.4 L506 374.5 L505.8 369.5 L505.6 368 L505.5 369.5 L505 369.3 L504.8 371.7 L504.6 369.8 L504.4 370.6 L504.3 371.7 L503.7 371 L503.6 372.7 L503.4 373 L503.2 371.6 L503.1 373.1 L502.5 372.7 L502.4 375.6 L502.2 374.4 L502 373.4 L501.8 373 L501.3 374.6 L501.1 373.2 L501 375.9 L500.8 376 L500.6 376.5 L500.1 373.7 L499.9 371.8 L499.8 371.4 L499.6 369.1 L499.4 367.4 L498.9 360 L498.7 360.5 L498.6 356.8 L498.4 358.8 L498.2 357.2 L497.7 352.6 L497.5 349.5 L497.3 350.8 L497.2 346.1 L497 342.7 L496.5 337.3 L496.3 336.8 L496.1 335.8 L496 333.3 L495.8 335.9 L495.3 330 L495.1 331.9 L494.9 328.6 L494.7 327.9 L494.6 328.6 L494.1 329.8 L493.9 329.4 L493.7 328.8 L493.5 328.7 L493.4 328.7 L492.8 329.4 L492.7 328 L492.5 328.9 L492.3 328.2 L492.2 326.4 L491.6 326.6 L491.5 327.2 L491.3 330.7 L491.1 327.7 L490.9 327.4 L490.4 325.9 L490.3 326.2 L490.1 326.6 L489.9 323.1 L489.7 323.2 L489.2 323.1 L489 323.2 L488.9 320.4 L488.7 323.9 L488.5 321.4 L488 316.2 L487.8 316.3 L487.7 316.2 L487.5 317.1 L487.3 313.9 L486.8 309.4 L486.6 310.3 L486.4 309.4 L486.3 307.9 L486.1 305 L485.6 306 L485.4 306.5 L485.2 303.7 L485.1 302.6 L484.9 303.3 L484.4 300.9 L484.2 300.7 L484 304.9 L483.9 300.8 L483.7 301.6 L483.2 303 L483 302.4 L482.8 302 L482.6 303.4 L482.5 302.7 L481.9 305.3 L481.8 301.7 L481.6 302.5 L481.4 302.6 L481.3 300.6 L480.7 301.1 L480.6 301.1 L480.4 301.2 L480.2 299.3 L480 301.5 L479.5 300.7 L479.4 299.6 L479.2 299.8 L479 300.8 L478.8 299 L478.3 297.4 L478.1 297.4 L478 297.4 L477.8 297 L477.6 295 L477.1 292.1 L476.9 294 L476.8 291.8 L476.6 294.1 L476.4 290.9 L475.9 288.3 L475.7 286.3 L475.5 287.4 L475.4 289 L475.2 287.5 L474.7 286.3 L474.5 283.3 L474.3 285.3 L474.2 281.6 L474 282.4 L473.5 282.7 L473.3 281.1 L473.1 279.1 L473 279.7 L472.8 277.6 L472.3 276.6 L472.1 275.4 L471.9 276.2 L471.7 275.5 L471.6 272 L471 271.3 L470.9 269.3 L470.7 270.4 L470.5 268.8 L470.4 267 L469.8 265.7 L469.7 264.6 L469.5 263.1 L469.3 264.4 L469.1 261.4 L468.6 261.8 L468.5 262.2 L468.3 259.4 L468.1 258.8 L467.9 260.2 L467.4 256.8 L467.2 254.8 L467.1 254.1 L466.9 253.7 L466.7 253.5 L466.2 254 L466 251.7 L465.9 253.9 L465.7 252.9 L465.5 251.7 L465 252.8 L464.8 251.4 L464.6 252.5 L464.5 251.6 L464.3 254.7 L463.8 255 L463.6 253.3 L463.4 253.3 L463.3 252.9 L463.1 253.7 L462.6 252.8 L462.4 250.7 L462.2 253.4 L462.1 253.1 L461.9 252.3 L461.4 249 L461.2 248.6 L461 248.7 L460.8 247.7 L460.7 245.4 L460.2 241.4 L460 242.9 L459.8 240.9 L459.6 240.1 L459.5 236.1 L458.9 232.3 L458.8 230.1 L458.6 228.1 L458.4 227.6 L458.2 225.5 L457.7 220.5 L457.6 219.8 L457.4 219.7 L457.2 220 L457 217.5 L456.5 218.7 L456.3 220.1 L456.2 218.4 L456 219.8 L455.8 217.8 L455.3 218.4 L455.1 218.2 L455 219.9 L454.8 221 L454.6 217 L454.1 220.7 L453.9 218.5 L453.7 220.2 L453.6 221.8 L453.4 221.7 L452.9 220.1 L452.7 219.1 L452.5 219.2 L452.4 219.6 L452.2 220.7 L451.7 218.4 L451.5 220.2 L451.3 220 L451.2 221 L451 219.8 L450.5 222.7 L450.3 222.6 L450.1 218.5 L449.9 224 L449.8 224 L449.3 224.6 L449.1 223 L448.9 224 L448.7 225.3 L448.6 226.1 L448 228.2 L447.9 224.9 L447.7 227.9 L447.5 227 L447.3 228 L446.8 232.3 L446.7 233.1 L446.5 232.3 L446.3 235.5 L446.1 235.5 L445.6 236.6 L445.4 237.6 L445.3 239.2 L445.1 241.5 L444.9 238.2 L444.4 238 L444.2 237.2 L444.1 234.5 L443.9 236.6 L443.7 232.3 L443.2 233.9 L443 236.2 L442.9 236.1 L442.7 233.6 L442.5 233.1 L442 234 L441.8 231.9 L441.6 234.1 L441.5 235.5 L441.3 232.7 L440.8 236.9 L440.6 236.3 L440.4 239.1 L440.3 238.8 L440.1 241.2 L439.6 244.5 L439.4 243.3 L439.2 245.7 L439 247.1 L438.9 248 L438.4 256.2 L438.2 255.3 L438 255.2 L437.8 257.9 L437.7 260.6 L437.1 260.1 L437 263.8 L436.8 264.1 L436.6 262.3 L436.5 262.6 L435.9 266 L435.8 266.8 L435.6 266.9 L435.4 266.6 L435.2 265.2 L434.7 260.8 L434.5 262.4 L434.4 258.2 L434.2 260.6 L434 255.5 L433.5 252.3 L433.3 251.2 L433.2 250.4 L433 247.4 L432.8 246.4 L432.3 245.6 L432.1 246.5 L432 246.3 L431.8 246.2 L431.6 247.6 L431.1 247.3 L430.9 246.7 L430.7 249.2 L430.6 252 L430.4 252.1 L429.9 256.6 L429.7 258.6 L429.5 259.6 L429.4 261.2 L429.2 263.6 L428.7 266 L428.5 268.5 L428.3 269.9 L428.1 269.2 L428 271.2 L427.5 276.6 L427.3 275 L427.1 276.1 L426.9 275.7 L426.8 276.8 L426.2 278.4 L426.1 280.7 L425.9 280.4 L425.7 282.1 L425.6 282.1 L425 286.1 L424.9 285 L424.7 285.1 L424.5 282.7 L424.3 284.5 L423.8 284.1 L423.6 285.8 L423.5 287.1 L423.3 287.6 L423.1 285.1 L422.6 289.4 L422.4 289.5 L422.3 288.4 L422.1 289.3 L421.9 290.2 L421.4 291.5 L421.2 294.6 L421.1 293.6 L420.9 292.2 L420.7 294 L420.2 297.8 L420 297.1 L419.8 301.2 L419.7 300 L419.5 301.8 L419 304.3 L418.8 304.7 L418.6 303.9 L418.5 307.4 L418.3 307.7 L417.8 311.6 L417.6 309 L417.4 310.5 L417.2 312.6 L417.1 314.1 L416.6 317 L416.4 317.3 L416.2 317.9 L416 317.7 L415.9 320.4 L415.3 321.5 L415.2 325.1 L415 324.5 L414.8 323.6 L414.7 324.6 L414.1 330.5 L414 328.4 L413.8 329.6 L413.6 330.4 L413.4 330.1 L412.9 333.2 L412.8 334.7 L412.6 336.6 L412.4 331.4 L412.2 335.7 L411.7 336.9 L411.5 335.5 L411.4 338.2 L411.2 337.7 L411 336.6 L410.5 342.9 L410.3 339.9 L410.2 340.7 L410 342 L409.8 342.8 L409.3 343.8 L409.1 344 L408.9 343.8 L408.8 344.4 L408.6 347.9 L408.1 346.9 L407.9 347.4 L407.7 349.5 L407.6 348.4 L407.4 351.4 L406.9 352.2 L406.7 353.3 L406.5 354 L406.3 352.3 L406.2 353.6 L405.7 355.5 L405.5 358.2 L405.3 354 L405.1 357.9 L405 357.1 L404.4 359.2 L404.3 359.5 L404.1 361.6 L403.9 361.7 L403.8 361.4 L403.2 365.9 L403.1 365.9 L402.9 366.3 L402.7 363.9 L402.5 366.4 L402 369.9 L401.9 369.9 L401.7 372.3 L401.5 370 L401.3 373.7 L400.8 375.4 L400.6 378.4 L400.5 377.3 L400.3 380.3 L400.1 386 L399.6 387.8 L399.4 389.9 L399.3 388.6 L399.1 392.3 L398.9 391.6 L398.4 393.9 L398.2 393.1 L398 395.3 L397.9 392.7 L397.7 394.4 L397.2 396.2 L397 395.2 L396.8 392.2 L396.7 394.3 L396.5 396.5 L396 395.8 L395.8 393.5 L395.6 393.9 L395.5 392.5 L395.3 394.1 L394.8 394 L394.6 395.8 L394.4 395.3 L394.2 394.7 L394.1 394.5 L393.5 392 L393.4 395.7 L393.2 395.6 L393 393.7 L392.9 395.2 L392.3 395.7 L392.2 394.2 L392 394.9 L391.8 396.3 L391.6 393 L391.1 394.7 L391 395.3 L390.8 395.8 L390.6 393.6 L390.4 396.5 L389.9 396.6 L389.7 392.6 L389.6 395 L389.4 394.7 L389.2 393.4 L388.7 395.7 L388.5 396.9 L388.4 395.4 L388.2 395.3 L388 395 L387.5 396.1 L387.3 393.6 L387.1 394.7 L387 395.8 L386.8 393.6 L386.3 395.4 L386.1 394.3 L385.9 397.4 L385.8 397.6 L385.6 397.1 L385.1 400 L384.9 401.2 L384.7 404.1 L384.6 402.8 L384.4 405.2 L383.9 405.5 L383.7 409 L383.5 411.7 L383.3 412.2 L383.2 409 L382.6 414.2 L382.5 414.1 L382.3 412.4 L382.1 413 L382 414.9 L381.4 413.8 L381.3 415.2 L381.1 415.9 L380.9 413.1 L380.7 413 L380.2 412.9 L380.1 412.1 L379.9 410 L379.7 414 L379.5 411.4 L379 411.1 L378.8 413 L378.7 411.2 L378.5 411.5 L378.3 412 L377.8 415.4 L377.6 414.1 L377.5 417.8 L377.3 418.3 L377.1 417.9 L376.6 420 L376.4 422 L376.2 423.1 L376.1 424.2 L375.9 426.2 L375.4 429.7 L375.2 430.3 L375 430.1 L374.9 433.5 L374.7 430.5 L374.2 432.4 L374 430.9 L373.8 431.2 L373.7 431.2 L373.5 429.6 L373 427.7 L372.8 424.7 L372.6 429.2 L372.4 425 L372.3 424.2 L371.8 419.4 L371.6 416.6 L371.4 418 L371.2 416.1 L371.1 414.8 L370.5 413.5 L370.4 413.1 L370.2 413.2 L370 410.6 L369.8 410.8 L369.3 409.4 L369.2 409 L369 410.6 L368.8 407.7 L368.6 409.7 L368.1 411.1 L367.9 414.9 L367.8 413.5 L367.6 412.9 L367.4 413.5 L366.9 419.3 L366.7 419.7 L366.6 421.9 L366.4 421.8 L366.2 423.9 L365.7 425.6 L365.5 428.2 L365.4 429.5 L365.2 429.4 L365 428.9 L364.5 433.1 L364.3 433.1 L364.1 434.8 L364 433.3 L363.8 433.9 L363.3 434.3 L363.1 433.7 L362.9 436.6 L362.8 436.2 L362.6 436.6 L362.1 435.2 L361.9 434.8 L361.7 435.8 L361.5 434.4 L361.4 433.3 L360.9 434.8 L360.7 438.1 L360.5 434.9 L360.3 435.9 L360.2 435.4 L359.6 434 L359.5 432.1 L359.3 433.2 L359.1 435.6 L358.9 436.7 L358.4 434.1 L358.3 434.4 L358.1 436.3 L357.9 434.7 L357.7 436.1 L357.2 438 L357 438.4 L356.9 438.5 L356.7 440.1 L356.5 440.5 L356 442.5 L355.8 442.6 L355.7 446.3 L355.5 445 L355.3 445.3 L354.8 449.7 L354.6 449.4 L354.5 450.9 L354.3 450.4 L354.1 450.9 L353.6 455.8 L353.4 452.4 L353.2 453.6 L353.1 450.4 L352.9 451.8 L352.4 457.4 L352.2 456.1 L352 457 L351.9 457.2 L351.7 459.2 L351.2 459.3 L351 459.6 L350.8 462.6 L350.6 461.5 L350.5 462.4 L350 466.8 L349.8 462.6 L349.6 464.4 L349.4 465.4 L349.3 466.5 L348.7 466.7 L348.6 470.9 L348.4 468.4 L348.2 468.5 L348.1 468.3 L347.5 468.3 L347.4 469.3 L347.2 471.9 L347 468.6 L346.8 469.9 L346.3 474.2 L346.1 472 L346 472.6 L345.8 471.1 L345.6 472.7 L345.1 474.4 L344.9 472.5 L344.8 473 L344.6 472.2 L344.4 473.5 L343.9 472.6 L343.7 473.2 L343.6 471 L343.4 474.3 L343.2 472.6 L342.7 471.7 L342.5 473 L342.3 471 L342.2 473.2 L342 475.1 L341.5 473.9 L341.3 476.1 L341.1 474.8 L341 475.5 L340.8 475.1 L340.3 478.2 L340.1 476.3 L339.9 476.2 L339.7 477.5 L339.6 478.8 L339.1 481.3 L338.9 482.9 L338.7 484.7 L338.5 486.4 L338.4 488.5 L337.8 493 L337.7 494.3 L337.5 494.3 L337.3 496 L337.2 497 L336.6 500.5 L336.5 501.2 L336.3 500.3 L336.1 502.2 L335.9 500.4 L335.4 501.4 L335.2 499.4 L335.1 499.6 L334.9 498.9 L334.7 501.7 L334.2 500.2 L334 500.1 L333.9 497.7 L333.7 499.1 L333.5 499.2 L333 499.4 L332.8 496.8 L332.7 497.8 L332.5 496.3 L332.3 498.6 L331.8 499 L331.6 498 L331.4 499.1 L331.3 499.9 L331.1 499 L330.6 498.2 L330.4 497.3 L330.2 498.6 L330.1 495.9 L329.9 497.2 L329.4 496.7 L329.2 498.9 L329 495.2 L328.8 494.3 L328.7 499 L328.2 495.8 L328 493.7 L327.8 492 L327.6 492.7 L327.5 490.8 L326.9 491.9 L326.8 493.4 L326.6 494.2 L326.4 490.2 L326.3 493.2 L325.7 490.6 L325.6 490.9 L325.4 491.9 L325.2 493.2 L325 492.2 L324.5 491.9 L324.4 489.6 L324.2 491.7 L324 490.7 L323.8 487.7 L323.3 489.4 L323.1 491.4 L323 495.1 L322.8 491.9 L322.6 490.7 L322.1 495.2 L321.9 494.7 L321.8 494.9 L321.6 493.8 L321.4 493.7 L320.9 497.8 L320.7 498.7 L320.5 497.1 L320.4 498.1 L320.2 495.2 L319.7 498.1 L319.5 495.6 L319.3 498.4 L319.2 498.1 L319 496.6 L318.5 497 L318.3 496.9 L318.1 497.3 L318 494.5 L317.8 497.4 L317.3 496.3 L317.1 490 L316.9 491.6 L316.7 494.2 L316.6 493 L316 492.6 L315.9 490.2 L315.7 486.7 L315.5 486.6 L315.4 487.8 L314.8 488.7 L314.7 486.3 L314.5 488 L314.3 488.9 L314.1 488.5 L313.6 492.9 L313.5 491 L313.3 491.2 L313.1 492.5 L312.9 494.9 L312.4 498.8 L312.2 501.8 L312.1 500.3 L311.9 502.9 L311.7 503.2 L311.2 504.5 L311 508.1 L310.9 505.2 L310.7 505.9 L310.5 511.2 L310 506.5 L309.8 505.3 L309.6 505.7 L309.5 501.8 L309.3 501.8 L308.8 497.9 L308.6 497.4 L308.4 496.2 L308.3 491.9 L308.1 493.2 L307.6 488.8 L307.4 487 L307.2 485.6 L307.1 484.4 L306.9 484.3 L306.4 482.1 L306.2 479.6 L306 480.2 L305.8 480 L305.7 479.8 L305.1 483 L305 481.3 L304.8 484.7 L304.6 484.4 L304.5 483 L303.9 487 L303.8 487 L303.6 487.5 L303.4 487.6 L303.2 489.3 L302.7 490.1 L302.6 491.8 L302.4 490.5 L302.2 493.5 L302 493.2 L301.5 492.3 L301.3 493.9 L301.2 491.8 L301 493.3 L300.8 498.1 L300.3 492.3 L300.1 495.1 L300 493.1 L299.8 492.2 L299.6 491.3 L299.1 491.9 L298.9 489.7 L298.7 490.9 L298.6 490.9 L298.4 489.9 L297.9 489.1 L297.7 484.8 L297.5 486.1 L297.4 485 L297.2 487.7 L296.7 485.7 L296.5 485.1 L296.3 483.8 L296.2 485.6 L296 483.6 L295.5 483.3 L295.3 485.8 L295.1 482.2 L294.9 483.9 L294.8 484.8 L294.3 483.8 L294.1 484.6 L293.9 484.8 L293.7 486.8 L293.6 485.1 L293 488.5 L292.9 485.5 L292.7 485.2 L292.5 487.4 L292.3 488.8 L291.8 486 L291.7 487.1 L291.5 487.3 L291.3 488.7 L291.1 487.3 L290.6 486.7 L290.4 488.2 L290.3 491 L290.1 489.8 L289.9 489.4 L289.4 487.6 L289.2 490.6 L289.1 493.4 L288.9 488.4 L288.7 487.5 L288.2 488.1 L288 490.9 L287.8 490.1 L287.7 490.1 L287.5 487.2 L287 485.1 L286.8 487.3 L286.6 484.2 L286.5 489.1 L286.3 484.6 L285.8 487 L285.6 485.9 L285.4 484.7 L285.3 485.4 L285.1 483.3 L284.6 485.2 L284.4 485 L284.2 483.7 L284 481.7 L283.9 482 L283.4 482.6 L283.2 480 L283 478.5 L282.8 477.3 L282.7 480.6 L282.1 477.7 L282 480.9 L281.8 478.1 L281.6 477.2 L281.4 478.8 L280.9 476.4 L280.8 474.9 L280.6 475 L280.4 475.4 L280.2 473.6 L279.7 471.3 L279.5 472.6 L279.4 474.8 L279.2 474.1 L279 473.6 L278.5 471.3 L278.3 470.1 L278.2 469.8 L278 468.6 L277.8 470.6 L277.3 471.5 L277.1 470.9 L277 470.5 L276.8 470.5 L276.6 468.9 L276.1 471.8 L275.9 471.2 L275.7 470.4 L275.6 472.2 L275.4 470.8 L274.9 474 L274.7 473 L274.5 473.3 L274.4 475.2 L274.2 477.7 L273.7 476.5 L273.5 476.8 L273.3 477 L273.1 476.2 L273 477.1 L272.5 481.8 L272.3 480 L272.1 481.4 L271.9 480.1 L271.8 478.3 L271.2 479.7 L271.1 478.3 L270.9 478.6 L270.7 479.7 L270.6 476.7 L270 475.6 L269.9 475.1 L269.7 473.2 L269.5 476.3 L269.3 472.5 L268.8 473.5 L268.6 471.5 L268.5 468.8 L268.3 467.2 L268.1 466.2 L267.6 466.1 L267.4 463.9 L267.3 462.4 L267.1 465.1 L266.9 463.7 L266.4 463 L266.2 462.7 L266.1 459.4 L265.9 458 L265.7 458.1 L265.2 458 L265 454.4 L264.8 455 L264.7 454.3 L264.5 452.8 L264 452.6 L263.8 451.8 L263.6 451.9 L263.5 452.2 L263.3 450.6 L262.8 447.9 L262.6 447.3 L262.4 446 L262.2 444.3 L262.1 444.9 L261.6 445 L261.4 443.6 L261.2 442.7 L261 442.4 L260.9 439.9 L260.3 441.8 L260.2 438.1 L260 437.2 L259.8 441.1 L259.7 440.2 L259.1 435.9 L259 438.5 L258.8 437.8 L258.6 437.1 L258.4 436.5 L257.9 439.3 L257.7 437.3 L257.6 437.5 L257.4 437 L257.2 438 L256.7 437.3 L256.5 436.9 L256.4 436.9 L256.2 437.9 L256 438.1 L255.5 438.1 L255.3 437.3 L255.2 436.9 L255 437.5 L254.8 435.3 L254.3 437.7 L254.1 436.8 L253.9 434.8 L253.8 432.5 L253.6 431.2 L253.1 427.9 L252.9 426.8 L252.7 425.3 L252.6 427.6 L252.4 425.3 L251.9 421.4 L251.7 418.6 L251.5 419.9 L251.3 418.4 L251.2 419.3 L250.7 421.7 L250.5 422.7 L250.3 423.1 L250.1 426.1 L250 421.2 L249.4 425.2 L249.3 425.1 L249.1 430.1 L248.9 429.5 L248.8 429.5 L248.2 433.1 L248.1 432 L247.9 433.1 L247.7 433.5 L247.5 432.4 L247 430.6 L246.9 429.8 L246.7 429.5 L246.5 428.4 L246.3 426.3 L245.8 422.5 L245.6 421.1 L245.5 422 L245.3 419.9 L245.1 419.8 L244.6 409.4 L244.4 412.1 L244.3 411.3 L244.1 409.2 L243.9 406.8 L243.4 403.6 L243.2 402.1 L243 401.8 L242.9 402.6 L242.7 397.7 L242.2 400.3 L242 399.9 L241.8 400.8 L241.7 400.8 L241.5 401.5 L241 402.1 L240.8 404 L240.6 401.4 L240.4 404.5 L240.3 404.8 L239.8 404 L239.6 404.2 L239.4 405.3 L239.2 402.9 L239.1 407.1 L238.5 406.4 L238.4 407.5 L238.2 405.5 L238 408.2 L237.9 407.6 L237.3 408.4 L237.2 408.3 L237 408.5 L236.8 411.9 L236.6 410.9 L236.1 409.2 L236 407.6 L235.8 409 L235.6 406.2 L235.4 404.9 L234.9 407.6 L234.7 406.2 L234.6 407.8 L234.4 407.5 L234.2 406.7 L233.7 405.5 L233.5 405.2 L233.4 404.1 L233.2 406.5 L233 406.2 L232.5 403.5 L232.3 405 L232.1 404.2 L232 404.2 L231.8 405.6 L231.3 403.6 L231.1 404.2 L230.9 404.4 L230.8 404.6 L230.6 405.9 L230.1 405.6 L229.9 406.6 L229.7 408.5 L229.6 408.6 L229.4 408.5 L228.9 411 L228.7 410.2 L228.5 411.2 L228.3 409.4 L228.2 410.2 L227.6 411.4 L227.5 413 L227.3 413.5 L227.1 413.4 L227 412.5 L226.4 415.2 L226.3 415 L226.1 412.5 L225.9 415 L225.7 413 L225.2 412.6 L225.1 415.4 L224.9 415.9 L224.7 414.9 L224.5 413.3 L224 413 L223.8 414.6 L223.7 414.5 L223.5 411.9 L223.3 413.5 L222.8 413.1 L222.6 411 L222.5 412.6 L222.3 412.5 L222.1 412.7 L221.6 411.6 L221.4 413.4 L221.2 413.9 L221.1 411.9 L220.9 412.7 L220.4 410.9 L220.2 412 L220 411.9 L219.9 412.3 L219.7 410.7 L219.2 411.1 L219 410.2 L218.8 410 L218.7 410.4 L218.5 408.6 L218 409.1 L217.8 412.3 L217.6 411.2 L217.4 410.7 L217.3 410.7 L216.7 409.3 L216.6 410.3 L216.4 408.5 L216.2 410.9 L216.1 409.9 L215.5 409.6 L215.4 409.2 L215.2 411.2 L215 409.7 L214.8 408.5 L214.3 407.4 L214.2 408.4 L214 412 L213.8 408 L213.6 409.2 L213.1 411.9 L212.9 410.9 L212.8 414.8 L212.6 411 L212.4 413.2 L211.9 414.2 L211.7 413.9 L211.6 414.2 L211.4 414 L211.2 419.9 L210.7 418.4 L210.5 420.7 L210.3 420.6 L210.2 421.4 L210 420.7 L209.5 421.8 L209.3 421.8 L209.1 422.5 L209 421 L208.8 424.1 L208.3 423.8 L208.1 422 L207.9 420.1 L207.8 419.6 L207.6 417.7 L207.1 420.4 L206.9 418.7 L206.7 418.1 L206.5 416.2 L206.4 418 L205.9 415.3 L205.7 414.6 L205.5 411.2 L205.3 417 L205.2 412.5 L204.6 412.7 L204.5 412.3 L204.3 409 L204.1 407.3 L203.9 409.6 L203.4 406.8 L203.3 405.4 L203.1 403.8 L202.9 404.2 L202.7 401.8 L202.2 400.8 L202 398.8 L201.9 399.1 L201.7 399.4 L201.5 399.2 L201 401 L200.8 398.1 L200.7 395.3 L200.5 396.2 L200.3 392.9 L199.8 392 L199.6 392.7 L199.5 390.3 L199.3 394.7 L199.1 392.4 L198.6 393.1 L198.4 389.5 L198.2 389.2 L198.1 389.1 L197.9 390 L197.4 389.8 L197.2 391.2 L197 393.2 L196.9 391.8 L196.7 393.5 L196.2 394.5 L196 392.8 L195.8 392.3 L195.6 395 L195.5 395 L195 395.1 L194.8 396.3 L194.6 398.8 L194.4 399.6 L194.3 398.5 L193.7 398.3 L193.6 402.3 L193.4 402.9 L193.2 402 L193.1 399.3 L192.5 402.7 L192.4 402.6 L192.2 400.2 L192 398.5 L191.8 400.1 L191.3 401 L191.1 399.1 L191 397.4 L190.8 398.5 L190.6 399.1 L190.1 397 L189.9 397.1 L189.8 395.6 L189.6 396.6 L189.4 397 L188.9 397.6 L188.7 395.6 L188.6 396.5 L188.4 398 L188.2 398.1 L187.7 400.2 L187.5 402.2 L187.3 402.2 L187.2 406.1 L187 405.2 L186.5 408.9 L186.3 409.5 L186.1 411.3 L186 414 L185.8 412.8 L185.3 415.8 L185.1 412.6 L184.9 417 L184.7 416.5 L184.6 416.7 L184.1 414.9 L183.9 413.2 L183.7 414.4 L183.5 411.8 L183.4 410.4 L182.8 406.8 L182.7 406.2 L182.5 405.5 L182.3 405.1 L182.2 404 L181.6 401.6 L181.5 397.1 L181.3 397.1 L181.1 395.6 L180.9 395.2 L180.4 393.5 L180.2 391.3 L180.1 390.5 L179.9 389.2 L179.7 387.8 L179.2 390.6 L179 390.3 L178.9 391.8 L178.7 396 L178.5 392.2 L178 396.8 L177.8 396.9 L177.7 397.4 L177.5 396.4 L177.3 397.9 L176.8 400.5 L176.6 402.7 L176.4 400.9 L176.3 403.2 L176.1 406 L175.6 405.9 L175.4 408.2 L175.2 410.9 L175.1 410 L174.9 410.6 L174.4 412.1 L174.2 413.7 L174 412.9 L173.8 413.5 L173.7 414 L173.2 411.5 L173 412.7 L172.8 413.1 L172.6 411.5 L172.5 409 L171.9 410.6 L171.8 406.7 L171.6 409.7 L171.4 407.7 L171.3 408 L170.7 407.3 L170.6 405.3 L170.4 404.3 L170.2 402.7 L170 402.4 L169.5 399.9 L169.4 399.8 L169.2 401.4 L169 401.2 L168.8 400 L168.3 400.1 L168.1 398.9 L168 399.7 L167.8 399.5 L167.6 401.5 L167.1 399.5 L166.9 399.7 L166.8 401.7 L166.6 397.2 L166.4 402.1 L165.9 399.4 L165.7 401.2 L165.5 401.4 L165.4 401.6 L165.2 399.8 L164.7 399.8 L164.5 401.8 L164.3 402.4 L164.2 401.3 L164 402.9 L163.5 400.2 L163.3 403.3 L163.1 403 L162.9 400.9 L162.8 400.3 L162.3 400.7 L162.1 401.9 L161.9 400.1 L161.7 402.4 L161.6 402.1 L161 400.1 L160.9 399.3 L160.7 397.1 L160.5 398 L160.4 397.9 L159.8 397.9 L159.7 395.9 L159.5 399 L159.3 396.6 L159.1 394.5 L158.6 395.8 L158.5 393.5 L158.3 395.2 L158.1 395 L157.9 396.4 L157.4 394.1 L157.2 394.4 L157.1 390.6 L156.9 393.2 L156.7 392.6 L156.2 391.9 L156 390.1 L155.9 388.2 L155.7 392.7 L155.5 387.8 L155 389.6 L154.8 386.7 L154.6 386.8 L154.5 386.9 L154.3 386.8 L153.8 389.2 L153.6 386.9 L153.4 386.5 L153.3 384.8 L153.1 385.2 L152.6 382.9 L152.4 381.5 L152.2 381.4 L152.1 378.8 L151.9 377.7 L151.4 375.8 L151.2 375.3 L151 377.3 L150.8 378.7 L150.7 378.1 L150.1 377.8 L150 376.4 L149.8 379.3 L149.6 377.3 L149.5 377.7 L148.9 380.3 L148.8 378.9 L148.6 382.1 L148.4 379.9 L148.2 381 L147.7 382.3 L147.6 381.5 L147.4 380.3 L147.2 383.1 L147 382.9 L146.5 380.5 L146.3 382.1 L146.2 383.6 L146 380.1 L145.8 381.8 L145.3 381.9 L145.1 380.8 L145 381.4 L144.8 377.1 L144.6 377.4 L144.1 376.4 L143.9 371.6 L143.7 371.5 L143.6 371.3 L143.4 370.5 L142.9 371.3 L142.7 370.4 L142.5 367.4 L142.4 366.9 L142.2 364.1 L141.7 361.7 L141.5 362.1 L141.3 359.8 L141.2 359.9 L141 360.1 L140.5 356.6 L140.3 356.3 L140.1 355.7 L139.9 355.6 L139.8 354.8 L139.2 351.8 L139.1 348.9 L138.9 348.8 L138.7 350.5 L138.6 350.8 L138 344.8 L137.9 343.4 L137.7 345.2 L137.5 342.9 L137.3 342.3 L136.8 338.6 L136.7 336.1 L136.5 333.4 L136.3 332.9 L136.1 333.4 L135.6 328 L135.4 332.3 L135.3 331.1 L135.1 326.7 L134.9 325.8 L134.4 326.9 L134.2 325.1 L134.1 323.6 L133.9 325.4 L133.7 325.2 L133.2 324.5 L133 322.6 L132.8 322.8 L132.7 320.5 L132.5 319.7 L132 318.9 L131.8 322 L131.6 322 L131.5 321.2 L131.3 320.7 L130.8 321 L130.6 318.4 L130.4 318.6 L130.3 317.6 L130.1 316.9 L129.6 318 L129.4 318.5 L129.2 315 L129 314.6 L128.9 314.3 L128.4 308.5 L128.2 308.5 L128 307.3 L127.8 306.7 L127.7 306.1 L127.1 303.1 L127 302.8 L126.8 300.3 L126.6 299.4 L126.4 298.1 L125.9 295.3 L125.8 290.9 L125.6 292.9 L125.4 293.4 L125.2 293.9 L124.7 296.4 L124.5 293.2 L124.4 293.8 L124.2 296.4 L124 296.8 L123.5 297.5 L123.3 298.6 L123.2 301.2 L123 300.9 L122.8 297.7 L122.3 301 L122.1 300.4 L122 297.1 L121.8 300.8 L121.6 298.1 L121.1 293.9 L120.9 297.3 L120.7 292.9Z" fill="#006EAF" fill-opacity="0.2" stroke="#006EAF" stroke-opacity="0.2" stroke-width="1.389" stroke-linejoin="round"/>
</g>
<g fill="#808080">
<path d="M167 16h1v526h-1z" fill-opacity="0.204"/><path d="M293 16h1v526h-1z" fill-opacity="0.204"/><path d="M419 16h1v526h-1z" fill-opacity="0.204"/><path d="M546 16h1v526h-1z" fill-opacity="0.204"/><path d="M672 16h1v526h-1z" fill-opacity="0.204"/><path d="M799 16h1v526h-1z" fill-opacity="0.204"/><path d="M925 16h1v526h-1z" fill-opacity="0.204"/><path d="M80 520h905v1h-905z" fill-opacity="0.204"/><path d="M80 417h905v1h-905z" fill-opacity="0.204"/><path d="M80 315h905v1h-905z" fill-opacity="0.204"/><path d="M80 212h905v1h-905z" fill-opacity="0.204"/><path d="M80 110h905v1h-905z" fill-opacity="0.204"/><path d="M166 16h1v526h-1z" fill-opacity="0.0394"/><path d="M168 16h1v526h-1z" fill-opacity="0.0394"/><path d="M292 16h1v526h-1z" fill-opacity="0.0394"/><path d="M294 16h1v526h-1z" fill-opacity="0.0394"/><path d="M418 16h1v526h-1z" fill-opacity="0.0394"/><path d="M420 16h1v526h-1z" fill-opacity="0.0394"/><path d="M545 16h1v526h-1z" fill-opacity="0.0394"/><path d="M547 16h1v526h-1z" fill-opacity="0.0394"/><path d="M671 16h1v526h-1z" fill-opacity="0.0394"/><path d="M673 16h1v526h-1z" fill-opacity="0.0394"/><path d="M798 16h1v526h-1z" fill-opacity="0.0394"/><path d="M800 16h1v526h-1z" fill-opacity="0.0394"/><path d="M924 16h1v526h-1z" fill-opacity="0.0394"/><path d="M926 16h1v526h-1z" fill-opacity="0.0394"/><path d="M80 519h905v1h-905z" fill-opacity="0.0394"/><path d="M80 521h905v1h-905z" fill-opacity="0.0394"/><path d="M80 416h905v1h-905z" fill-opacity="0.0394"/><path d="M80 418h905v1h-905z" fill-opacity="0.0394"/><path d="M80 314h905v1h-905z" fill-opacity="0.0394"/><path d="M80 316h905v1h-905z" fill-opacity="0.0394"/><path d="M80 211h905v1h-905z" fill-opacity="0.0394"/><path d="M80 213h905v1h-905z" fill-opacity="0.0394"/><path d="M80 109h905v1h-905z" fill-opacity="0.0394"/><path d="M80 111h905v1h-905z" fill-opacity="0.0394"/>
</g>
<g clip-path="url(#ax)">
<path d="M123.5 211.5h0M124.5 208.5h0M124.5 211.5h0M124.5 210.5h0M125.5 209.5h0M125.5 211.5h0M125.5 221.5h0M125.5 222.5h0M126.5 222.5h0M129.5 321.5h0M130.5 320.5h0M130.5 317.5h0M130.5 316.5h0M130.5 319.5h0M130.5 318.5h0M131.5 322.5h0M131.5 321.5h0M131.5 323.5h0M131.5 324.5h0M132.5 322.5h0M132.5 321.5h0M133.5 318.5h0M133.5 317.5h0M133.5 315.5h0M133.5 316.5h0M134.5 313.5h0M134.5 310.5h0M134.5 312.5h0M135.5 309.5h0M135.5 310.5h0M135.5 301.5h0M135.5 304.5h0M136.5 301.5h0M136.5 297.5h0M136.5 298.5h0M136.5 300.5h0M136.5 299.5h0M137.5 296.5h0M137.5 297.5h0M137.5 301.5h0M138.5 304.5h0M138.5 306.5h0M138.5 310.5h0M139.5 308.5h0M139.5 310.5h0M139.5 313.5h0M140.5 311.5h0M140.5 312.5h0M140.5 306.5h0M140.5 309.5h0M141.5 311.5h0M141.5 308.5h0M141.5 309.5h0M141.5 310.5h0M142.5 315.5h0M142.5 313.5h0M142.5 316.5h0M142.5 321.5h0M143.5 350.5h0M143.5 351.5h0M144.5 350.5h0M144.5 355.5h0M144.5 352.5h0M144.5 353.5h0M145.5 351.5h0M145.5 356.5h0M145.5 355.5h0M146.5 353.5h0M146.5 357.5h0M146.5 359.5h0M147.5 360.5h0M147.5 363.5h0M147.5 364.5h0M147.5 362.5h0M147.5 359.5h0M148.5 356.5h0M148.5 359.5h0M148.5 355.5h0M148.5 353.5h0M148.5 351.5h0M149.5 352.5h0M149.5 354.5h0M149.5 351.5h0M149.5 347.5h0M150.5 347.5h0M150.5 352.5h0M150.5 354.5h0M151.5 355.5h0M151.5 354.5h0M151.5 356.5h0M152.5 358.5h0M152.5 356.5h0M152.5 357.5h0M153.5 358.5h0M153.5 366.5h0M153.5 370.5h0M153.5 374.5h0M154.5 366.5h0M154.5 364.5h0M154.5 362.5h0M154.5 363.5h0M154.5 356.5h0M155.5 359.5h0M155.5 362.5h0M155.5 358.5h0M156.5 354.5h0M156.5 352.5h0M156.5 351.5h0M156.5 353.5h0M157.5 359.5h0M157.5 358.5h0M157.5 360.5h0M158.5 364.5h0M158.5 365.5h0M158.5 361.5h0M158.5 358.5h0M159.5 356.5h0M159.5 354.5h0M159.5 358.5h0M159.5 360.5h0M159.5 359.5h0M160.5 358.5h0M160.5 360.5h0M160.5 355.5h0M161.5 357.5h0M161.5 362.5h0M161.5 361.5h0M161.5 360.5h0M162.5 356.5h0M162.5 352.5h0M162.5 354.5h0M162.5 357.5h0M163.5 358.5h0M163.5 361.5h0M163.5 363.5h0M163.5 369.5h0M164.5 366.5h0M164.5 367.5h0M165.5 366.5h0M165.5 363.5h0M165.5 362.5h0M165.5 361.5h0M166.5 357.5h0M166.5 359.5h0M166.5 360.5h0M166.5 365.5h0M167.5 357.5h0M167.5 358.5h0M167.5 356.5h0M168.5 358.5h0M168.5 361.5h0M169.5 359.5h0M169.5 358.5h0M170.5 360.5h0M170.5 359.5h0M170.5 362.5h0M170.5 357.5h0M171.5 358.5h0M171.5 357.5h0M171.5 359.5h0M171.5 364.5h0M172.5 372.5h0M172.5 375.5h0M172.5 382.5h0M172.5 384.5h0M173.5 390.5h0M173.5 398.5h0M174.5 399.5h0M174.5 398.5h0M174.5 402.5h0M174.5 408.5h0M175.5 408.5h0M175.5 410.5h0M175.5 415.5h0M175.5 416.5h0M176.5 417.5h0M176.5 416.5h0M176.5 412.5h0M176.5 414.5h0M176.5 409.5h0M177.5 411.5h0M177.5 414.5h0M178.5 412.5h0M178.5 410.5h0M178.5 409.5h0M179.5 409.5h0M179.5 408.5h0M179.5 405.5h0M180.5 404.5h0M180.5 401.5h0M180.5 400.5h0M181.5 404.5h0M181.5 408.5h0M181.5 402.5h0M182.5 401.5h0M182.5 397.5h0M182.5 395.5h0M183.5 393.5h0M183.5 392.5h0M183.5 389.5h0M184.5 390.5h0M184.5 391.5h0M184.5 386.5h0M185.5 385.5h0M185.5 390.5h0M186.5 387.5h0M186.5 384.5h0M186.5 390.5h0M187.5 389.5h0M187.5 390.5h0M188.5 387.5h0M188.5 386.5h0M188.5 388.5h0M188.5 390.5h0M189.5 386.5h0M189.5 389.5h0M190.5 386.5h0M190.5 382.5h0M190.5 383.5h0M191.5 385.5h0M191.5 384.5h0M192.5 384.5h0M192.5 381.5h0M192.5 382.5h0M193.5 375.5h0M193.5 372.5h0M193.5 371.5h0M195.5 327.5h0M195.5 329.5h0M196.5 326.5h0M196.5 325.5h0M196.5 324.5h0M197.5 328.5h0M197.5 322.5h0M197.5 323.5h0M197.5 326.5h0M198.5 323.5h0M198.5 328.5h0M198.5 327.5h0M198.5 326.5h0M199.5 326.5h0M199.5 321.5h0M199.5 319.5h0M199.5 323.5h0M200.5 329.5h0M200.5 331.5h0M201.5 326.5h0M201.5 331.5h0M201.5 332.5h0M201.5 333.5h0M202.5 334.5h0M202.5 336.5h0M202.5 337.5h0M202.5 339.5h0M203.5 338.5h0M203.5 341.5h0M203.5 345.5h0M204.5 350.5h0M204.5 351.5h0M204.5 348.5h0M204.5 344.5h0M205.5 346.5h0M205.5 349.5h0M205.5 350.5h0M205.5 352.5h0M205.5 351.5h0M206.5 353.5h0M206.5 352.5h0M206.5 351.5h0M206.5 347.5h0M207.5 350.5h0M207.5 348.5h0M208.5 352.5h0M208.5 360.5h0M208.5 359.5h0M209.5 357.5h0M209.5 360.5h0M209.5 361.5h0M210.5 360.5h0M210.5 362.5h0M210.5 351.5h0M210.5 354.5h0M211.5 353.5h0M211.5 357.5h0M211.5 356.5h0M211.5 354.5h0M211.5 359.5h0M212.5 356.5h0M212.5 357.5h0M212.5 362.5h0M213.5 362.5h0M213.5 363.5h0M213.5 365.5h0M214.5 365.5h0M214.5 366.5h0M214.5 363.5h0M215.5 363.5h0M215.5 360.5h0M215.5 362.5h0M216.5 364.5h0M216.5 365.5h0M216.5 369.5h0M216.5 367.5h0M217.5 368.5h0M217.5 365.5h0M217.5 370.5h0M217.5 369.5h0M217.5 367.5h0M218.5 369.5h0M218.5 371.5h0M218.5 372.5h0M218.5 368.5h0M219.5 371.5h0M219.5 374.5h0M219.5 377.5h0M220.5 376.5h0M220.5 382.5h0M220.5 384.5h0M220.5 387.5h0M221.5 386.5h0M221.5 390.5h0M222.5 394.5h0M222.5 395.5h0M222.5 397.5h0M222.5 398.5h0M223.5 394.5h0M223.5 396.5h0M223.5 399.5h0M223.5 400.5h0M224.5 402.5h0M224.5 403.5h0M224.5 401.5h0M225.5 405.5h0M225.5 406.5h0M225.5 402.5h0M226.5 402.5h0M226.5 407.5h0M226.5 408.5h0M227.5 412.5h0M227.5 411.5h0M227.5 414.5h0M228.5 412.5h0M228.5 410.5h0M228.5 408.5h0M228.5 411.5h0M229.5 410.5h0M229.5 405.5h0M229.5 398.5h0M229.5 400.5h0M230.5 403.5h0M230.5 402.5h0M230.5 404.5h0M230.5 406.5h0M231.5 408.5h0M231.5 406.5h0M231.5 409.5h0M232.5 408.5h0M233.5 409.5h0M233.5 406.5h0M233.5 402.5h0M233.5 403.5h0M234.5 399.5h0M234.5 398.5h0M235.5 401.5h0M235.5 398.5h0M235.5 400.5h0M236.5 398.5h0M236.5 400.5h0M236.5 396.5h0M237.5 396.5h0M237.5 397.5h0M237.5 393.5h0M238.5 392.5h0M238.5 393.5h0M238.5 389.5h0M238.5 387.5h0M239.5 384.5h0M239.5 387.5h0M239.5 389.5h0M239.5 393.5h0M239.5 392.5h0M240.5 390.5h0M240.5 393.5h0M240.5 391.5h0M241.5 387.5h0M241.5 386.5h0M242.5 388.5h0M242.5 383.5h0M242.5 381.5h0M243.5 374.5h0M244.5 376.5h0M244.5 372.5h0M244.5 371.5h0M245.5 373.5h0M245.5 376.5h0M245.5 379.5h0M245.5 374.5h0M245.5 370.5h0M246.5 371.5h0M246.5 370.5h0M247.5 369.5h0M247.5 372.5h0M247.5 374.5h0M248.5 379.5h0M248.5 378.5h0M248.5 381.5h0M249.5 380.5h0M249.5 381.5h0M249.5 377.5h0M250.5 382.5h0M250.5 384.5h0M250.5 386.5h0M250.5 390.5h0M251.5 397.5h0M251.5 396.5h0M251.5 399.5h0M251.5 400.5h0M251.5 403.5h0M252.5 400.5h0M252.5 399.5h0M252.5 398.5h0M253.5 396.5h0M253.5 391.5h0M253.5 390.5h0M253.5 389.5h0M254.5 391.5h0M254.5 387.5h0M254.5 386.5h0M255.5 388.5h0M255.5 386.5h0M256.5 384.5h0M256.5 386.5h0M256.5 390.5h0M256.5 391.5h0M256.5 392.5h0M257.5 394.5h0M257.5 392.5h0M257.5 391.5h0M258.5 392.5h0M258.5 389.5h0M258.5 393.5h0M258.5 398.5h0M259.5 397.5h0M259.5 399.5h0M259.5 398.5h0M260.5 394.5h0M260.5 399.5h0M260.5 398.5h0M261.5 401.5h0M261.5 400.5h0M262.5 403.5h0M262.5 401.5h0M262.5 400.5h0M262.5 399.5h0M262.5 394.5h0M263.5 399.5h0M263.5 401.5h0M263.5 402.5h0M263.5 406.5h0M263.5 403.5h0M264.5 404.5h0M264.5 408.5h0M264.5 407.5h0M265.5 401.5h0M265.5 405.5h0M265.5 402.5h0M265.5 406.5h0M266.5 405.5h0M266.5 404.5h0M266.5 406.5h0M267.5 406.5h0M267.5 408.5h0M267.5 410.5h0M267.5 411.5h0M268.5 411.5h0M268.5 413.5h0M268.5 412.5h0M268.5 416.5h0M268.5 409.5h0M269.5 408.5h0M269.5 413.5h0M269.5 412.5h0M269.5 414.5h0M270.5 417.5h0M271.5 432.5h0M271.5 430.5h0M272.5 428.5h0M272.5 431.5h0M272.5 432.5h0M273.5 431.5h0M273.5 434.5h0M273.5 436.5h0M273.5 435.5h0M274.5 437.5h0M274.5 434.5h0M274.5 435.5h0M274.5 436.5h0M275.5 437.5h0M275.5 435.5h0M275.5 433.5h0M276.5 432.5h0M276.5 434.5h0M276.5 435.5h0M277.5 436.5h0M277.5 435.5h0M277.5 431.5h0M277.5 432.5h0M278.5 434.5h0M278.5 429.5h0M278.5 433.5h0M279.5 438.5h0M279.5 439.5h0M279.5 440.5h0M279.5 433.5h0M279.5 437.5h0M280.5 435.5h0M280.5 434.5h0M280.5 429.5h0M281.5 432.5h0M281.5 430.5h0M281.5 431.5h0M282.5 433.5h0M282.5 432.5h0M282.5 430.5h0M283.5 432.5h0M283.5 436.5h0M283.5 435.5h0M284.5 459.5h0M285.5 461.5h0M285.5 460.5h0M285.5 459.5h0M286.5 461.5h0M286.5 463.5h0M286.5 460.5h0M287.5 465.5h0M287.5 466.5h0M288.5 467.5h0M288.5 463.5h0M288.5 465.5h0M289.5 464.5h0M289.5 465.5h0M290.5 465.5h0M290.5 470.5h0M290.5 474.5h0M290.5 472.5h0M291.5 473.5h0M291.5 472.5h0M291.5 468.5h0M291.5 467.5h0M292.5 472.5h0M292.5 475.5h0M292.5 478.5h0M293.5 476.5h0M293.5 478.5h0M293.5 479.5h0M294.5 479.5h0M294.5 482.5h0M294.5 477.5h0M294.5 480.5h0M295.5 481.5h0M295.5 482.5h0M295.5 485.5h0M296.5 480.5h0M296.5 479.5h0M296.5 475.5h0M297.5 474.5h0M297.5 477.5h0M297.5 475.5h0M297.5 471.5h0M298.5 472.5h0M298.5 474.5h0M298.5 476.5h0M298.5 477.5h0M299.5 473.5h0M299.5 478.5h0M299.5 477.5h0M300.5 479.5h0M300.5 472.5h0M300.5 471.5h0M301.5 472.5h0M301.5 476.5h0M301.5 477.5h0M302.5 465.5h0M302.5 461.5h0M302.5 458.5h0M302.5 456.5h0M302.5 451.5h0M303.5 442.5h0M303.5 443.5h0M303.5 440.5h0M304.5 444.5h0M304.5 438.5h0M304.5 437.5h0M304.5 443.5h0M305.5 442.5h0M305.5 438.5h0M306.5 442.5h0M306.5 438.5h0M306.5 439.5h0M306.5 441.5h0M307.5 438.5h0M307.5 441.5h0M307.5 440.5h0M308.5 443.5h0M308.5 444.5h0M308.5 447.5h0M308.5 452.5h0M308.5 454.5h0M309.5 457.5h0M309.5 461.5h0M310.5 462.5h0M310.5 460.5h0M311.5 462.5h0M311.5 460.5h0M311.5 464.5h0M312.5 461.5h0M312.5 463.5h0M313.5 463.5h0M313.5 462.5h0M313.5 461.5h0M314.5 468.5h0M314.5 470.5h0M314.5 472.5h0M315.5 471.5h0M315.5 470.5h0M315.5 476.5h0M316.5 478.5h0M316.5 481.5h0M316.5 482.5h0M317.5 481.5h0M317.5 479.5h0M317.5 478.5h0M318.5 485.5h0M318.5 482.5h0M318.5 480.5h0M319.5 480.5h0M319.5 484.5h0M319.5 486.5h0M320.5 487.5h0M320.5 488.5h0M320.5 484.5h0M320.5 479.5h0M320.5 483.5h0M321.5 486.5h0M321.5 481.5h0M321.5 482.5h0M322.5 483.5h0M322.5 481.5h0M322.5 482.5h0M323.5 482.5h0M323.5 481.5h0M323.5 476.5h0M324.5 483.5h0M324.5 480.5h0M324.5 475.5h0M324.5 476.5h0M325.5 478.5h0M325.5 477.5h0M325.5 480.5h0M326.5 478.5h0M326.5 480.5h0M326.5 481.5h0M326.5 477.5h0M327.5 474.5h0M327.5 477.5h0M327.5 473.5h0M328.5 475.5h0M328.5 476.5h0M328.5 473.5h0M329.5 473.5h0M329.5 476.5h0M329.5 478.5h0M330.5 478.5h0M330.5 476.5h0M330.5 477.5h0M330.5 475.5h0M331.5 476.5h0M331.5 471.5h0M331.5 475.5h0M331.5 472.5h0M332.5 472.5h0M332.5 475.5h0M332.5 474.5h0M332.5 471.5h0M333.5 476.5h0M333.5 478.5h0M333.5 473.5h0M333.5 474.5h0M334.5 473.5h0M334.5 476.5h0M334.5 475.5h0M335.5 473.5h0M335.5 471.5h0M335.5 477.5h0M336.5 477.5h0M336.5 478.5h0M336.5 476.5h0M337.5 477.5h0M337.5 474.5h0M337.5 476.5h0M337.5 472.5h0M337.5 471.5h0M338.5 470.5h0M338.5 472.5h0M339.5 470.5h0M339.5 467.5h0M339.5 465.5h0M339.5 464.5h0M340.5 462.5h0M340.5 464.5h0M340.5 463.5h0M340.5 461.5h0M341.5 461.5h0M341.5 460.5h0M342.5 458.5h0M342.5 457.5h0M342.5 454.5h0M342.5 455.5h0M343.5 453.5h0M343.5 452.5h0M343.5 449.5h0M343.5 448.5h0M343.5 446.5h0M344.5 443.5h0M344.5 441.5h0M344.5 440.5h0M344.5 438.5h0M345.5 439.5h0M345.5 437.5h0M345.5 434.5h0M345.5 432.5h0M346.5 433.5h0M346.5 434.5h0M346.5 428.5h0M350.5 376.5h0M350.5 379.5h0M350.5 383.5h0M351.5 385.5h0M351.5 389.5h0M351.5 392.5h0M352.5 393.5h0M352.5 395.5h0M352.5 396.5h0M352.5 392.5h0M353.5 389.5h0M353.5 392.5h0M353.5 385.5h0M354.5 387.5h0M354.5 386.5h0M354.5 392.5h0M355.5 392.5h0M355.5 389.5h0M356.5 390.5h0M356.5 391.5h0M356.5 395.5h0M357.5 395.5h0M357.5 394.5h0M357.5 391.5h0M358.5 389.5h0M358.5 387.5h0M358.5 392.5h0M359.5 393.5h0M359.5 390.5h0M359.5 387.5h0M359.5 388.5h0M360.5 386.5h0M360.5 387.5h0M361.5 388.5h0M361.5 392.5h0M361.5 394.5h0M361.5 389.5h0M362.5 394.5h0M362.5 393.5h0M362.5 391.5h0M362.5 389.5h0M363.5 389.5h0M363.5 390.5h0M363.5 391.5h0M364.5 389.5h0M364.5 385.5h0M364.5 384.5h0M365.5 384.5h0M365.5 385.5h0M365.5 383.5h0M365.5 381.5h0M365.5 380.5h0M366.5 372.5h0M366.5 367.5h0M366.5 370.5h0M366.5 368.5h0M367.5 364.5h0M367.5 368.5h0M367.5 369.5h0M368.5 371.5h0M368.5 369.5h0M369.5 369.5h0M369.5 371.5h0M369.5 373.5h0M370.5 372.5h0M370.5 373.5h0M370.5 371.5h0M371.5 374.5h0M371.5 372.5h0M371.5 375.5h0M371.5 378.5h0M372.5 389.5h0M372.5 391.5h0M372.5 395.5h0M372.5 400.5h0M372.5 403.5h0M373.5 407.5h0M373.5 404.5h0M373.5 405.5h0M373.5 406.5h0M374.5 405.5h0M374.5 406.5h0M374.5 400.5h0M375.5 409.5h0M375.5 406.5h0M375.5 407.5h0M375.5 408.5h0M376.5 409.5h0M376.5 400.5h0M376.5 396.5h0M377.5 397.5h0M377.5 394.5h0M377.5 391.5h0M377.5 400.5h0M378.5 399.5h0M378.5 396.5h0M378.5 394.5h0M378.5 393.5h0M379.5 389.5h0M379.5 387.5h0M380.5 388.5h0M380.5 389.5h0M381.5 388.5h0M381.5 387.5h0M382.5 388.5h0M382.5 389.5h0M383.5 390.5h0M383.5 391.5h0M383.5 388.5h0M384.5 388.5h0M384.5 389.5h0M384.5 391.5h0M384.5 392.5h0M385.5 391.5h0M385.5 394.5h0M385.5 392.5h0M386.5 393.5h0M386.5 394.5h0M387.5 396.5h0M387.5 395.5h0M388.5 394.5h0M388.5 391.5h0M388.5 393.5h0M388.5 397.5h0M389.5 395.5h0M389.5 392.5h0M389.5 393.5h0M389.5 397.5h0M390.5 393.5h0M390.5 396.5h0M390.5 395.5h0M391.5 396.5h0M391.5 397.5h0M391.5 395.5h0M392.5 394.5h0M392.5 393.5h0M392.5 395.5h0M393.5 393.5h0M393.5 394.5h0M393.5 395.5h0M393.5 397.5h0M394.5 395.5h0M394.5 398.5h0M394.5 394.5h0M394.5 393.5h0M395.5 393.5h0M395.5 397.5h0M395.5 398.5h0M395.5 396.5h0M396.5 397.5h0M396.5 400.5h0M397.5 397.5h0M397.5 401.5h0M397.5 400.5h0M398.5 401.5h0M398.5 399.5h0M398.5 398.5h0M398.5 397.5h0M399.5 399.5h0M399.5 397.5h0M399.5 398.5h0M399.5 401.5h0M400.5 401.5h0M400.5 396.5h0M401.5 392.5h0M401.5 395.5h0M401.5 396.5h0M401.5 391.5h0M402.5 394.5h0M404.5 309.5h0M404.5 307.5h0M404.5 308.5h0M404.5 310.5h0M405.5 312.5h0M405.5 309.5h0M405.5 311.5h0M405.5 317.5h0M406.5 316.5h0M406.5 321.5h0M406.5 324.5h0M406.5 326.5h0M406.5 327.5h0M407.5 324.5h0M407.5 322.5h0M407.5 325.5h0M407.5 328.5h0M408.5 332.5h0M408.5 335.5h0M408.5 334.5h0M408.5 333.5h0M409.5 329.5h0M409.5 330.5h0M409.5 333.5h0M410.5 329.5h0M410.5 327.5h0M410.5 323.5h0M411.5 324.5h0M411.5 321.5h0M411.5 320.5h0M411.5 322.5h0M412.5 325.5h0M412.5 321.5h0M412.5 314.5h0M412.5 317.5h0M413.5 323.5h0M414.5 318.5h0M414.5 316.5h0M415.5 321.5h0M415.5 316.5h0M417.5 226.5h0M417.5 229.5h0M417.5 227.5h0M417.5 224.5h0M417.5 220.5h0M418.5 218.5h0M418.5 222.5h0M418.5 223.5h0M418.5 225.5h0M419.5 226.5h0M419.5 224.5h0M420.5 222.5h0M420.5 223.5h0M420.5 227.5h0M420.5 228.5h0M421.5 229.5h0M421.5 236.5h0M421.5 233.5h0M421.5 230.5h0M422.5 233.5h0M422.5 235.5h0M422.5 234.5h0M423.5 235.5h0M423.5 237.5h0M423.5 236.5h0M423.5 238.5h0M423.5 234.5h0M424.5 233.5h0M424.5 234.5h0M424.5 235.5h0M457.5 236.5h0M457.5 235.5h0M458.5 236.5h0M458.5 235.5h0M458.5 231.5h0M458.5 228.5h0M458.5 225.5h0M459.5 224.5h0M459.5 225.5h0M459.5 228.5h0M459.5 229.5h0M460.5 235.5h0M460.5 239.5h0M461.5 245.5h0M461.5 247.5h0M461.5 246.5h0M461.5 248.5h0M462.5 247.5h0M462.5 248.5h0M462.5 249.5h0M462.5 250.5h0M463.5 249.5h0M463.5 248.5h0M463.5 250.5h0M464.5 244.5h0M464.5 248.5h0M464.5 246.5h0M465.5 246.5h0M465.5 243.5h0M465.5 241.5h0M466.5 240.5h0M466.5 239.5h0M466.5 243.5h0M466.5 241.5h0M467.5 245.5h0M467.5 240.5h0M467.5 238.5h0M467.5 239.5h0M468.5 244.5h0M468.5 239.5h0M468.5 242.5h0M469.5 249.5h0M469.5 248.5h0M469.5 247.5h0M469.5 246.5h0M470.5 250.5h0M470.5 257.5h0M470.5 258.5h0M471.5 258.5h0M471.5 262.5h0M471.5 264.5h0M471.5 271.5h0M472.5 269.5h0M472.5 270.5h0M473.5 269.5h0M473.5 272.5h0M473.5 271.5h0M473.5 278.5h0M474.5 278.5h0M474.5 281.5h0M474.5 276.5h0M475.5 274.5h0M475.5 277.5h0M475.5 278.5h0M475.5 280.5h0M476.5 279.5h0M476.5 276.5h0M476.5 271.5h0M477.5 276.5h0M477.5 277.5h0M477.5 282.5h0M478.5 287.5h0M478.5 290.5h0M479.5 291.5h0M479.5 289.5h0M479.5 292.5h0M479.5 293.5h0M480.5 297.5h0M480.5 300.5h0M480.5 303.5h0M480.5 310.5h0M480.5 312.5h0M481.5 310.5h0M481.5 314.5h0M481.5 311.5h0M481.5 307.5h0M482.5 310.5h0M482.5 315.5h0M482.5 313.5h0M485.5 298.5h0M485.5 299.5h0M485.5 303.5h0M485.5 305.5h0M486.5 300.5h0M486.5 299.5h0M486.5 298.5h0M486.5 304.5h0M486.5 307.5h0M487.5 308.5h0M487.5 306.5h0M487.5 305.5h0M487.5 307.5h0M488.5 309.5h0M488.5 306.5h0M491.5 286.5h0M492.5 283.5h0M492.5 286.5h0M492.5 288.5h0M492.5 289.5h0M493.5 287.5h0M493.5 289.5h0M494.5 288.5h0M494.5 289.5h0M494.5 290.5h0M495.5 283.5h0M495.5 280.5h0M496.5 278.5h0M496.5 282.5h0M497.5 275.5h0M497.5 276.5h0M497.5 279.5h0M497.5 283.5h0M498.5 299.5h0M498.5 301.5h0M498.5 303.5h0M498.5 304.5h0M499.5 306.5h0M499.5 309.5h0M500.5 307.5h0M500.5 312.5h0M500.5 315.5h0M500.5 316.5h0M501.5 316.5h0M501.5 318.5h0M502.5 319.5h0M502.5 320.5h0M502.5 322.5h0M503.5 320.5h0M503.5 322.5h0M503.5 325.5h0M503.5 324.5h0M504.5 324.5h0M506.5 370.5h0M506.5 372.5h0M506.5 375.5h0M507.5 372.5h0M507.5 374.5h0M507.5 373.5h0M508.5 375.5h0M508.5 374.5h0M508.5 372.5h0M509.5 374.5h0M509.5 371.5h0M509.5 370.5h0M510.5 372.5h0M510.5 375.5h0M510.5 380.5h0M511.5 380.5h0M511.5 377.5h0M511.5 379.5h0M511.5 376.5h0M512.5 377.5h0M512.5 380.5h0M512.5 379.5h0M513.5 386.5h0M513.5 387.5h0M513.5 389.5h0M514.5 389.5h0M514.5 390.5h0M514.5 382.5h0M515.5 387.5h0M515.5 384.5h0M515.5 381.5h0M515.5 382.5h0M516.5 379.5h0M516.5 380.5h0M516.5 377.5h0M516.5 375.5h0M517.5 376.5h0M517.5 374.5h0M517.5 375.5h0M518.5 377.5h0M518.5 380.5h0M518.5 378.5h0M519.5 378.5h0M519.5 384.5h0M520.5 387.5h0M520.5 388.5h0M520.5 389.5h0M520.5 391.5h0M521.5 393.5h0M521.5 391.5h0M521.5 389.5h0M521.5 394.5h0M522.5 398.5h0M522.5 399.5h0M522.5 396.5h0M523.5 401.5h0M523.5 398.5h0M523.5 403.5h0M524.5 408.5h0M524.5 405.5h0M524.5 401.5h0M525.5 403.5h0M525.5 398.5h0M525.5 399.5h0M526.5 398.5h0M526.5 402.5h0M526.5 401.5h0M526.5 404.5h0M526.5 405.5h0M527.5 407.5h0M527.5 405.5h0M527.5 409.5h0M527.5 406.5h0M528.5 400.5h0M528.5 396.5h0M529.5 396.5h0M529.5 390.5h0M530.5 393.5h0M530.5 394.5h0M530.5 388.5h0M531.5 385.5h0M531.5 380.5h0M531.5 379.5h0M532.5 377.5h0M532.5 376.5h0M532.5 371.5h0M532.5 372.5h0M533.5 364.5h0M533.5 361.5h0M533.5 360.5h0M533.5 362.5h0M534.5 367.5h0M534.5 366.5h0M534.5 363.5h0M534.5 361.5h0M535.5 365.5h0M535.5 362.5h0M535.5 364.5h0M536.5 369.5h0M536.5 370.5h0M536.5 372.5h0M537.5 373.5h0M537.5 376.5h0M537.5 382.5h0M538.5 382.5h0M538.5 380.5h0M539.5 381.5h0M539.5 380.5h0M539.5 377.5h0M540.5 381.5h0M540.5 380.5h0M540.5 378.5h0M540.5 382.5h0M541.5 381.5h0M541.5 373.5h0M541.5 372.5h0M541.5 374.5h0M542.5 376.5h0M542.5 375.5h0M542.5 380.5h0M543.5 377.5h0M543.5 379.5h0M544.5 381.5h0M544.5 378.5h0M544.5 376.5h0M545.5 381.5h0M545.5 379.5h0M545.5 378.5h0M546.5 377.5h0M546.5 376.5h0M547.5 374.5h0M547.5 373.5h0M547.5 369.5h0M548.5 367.5h0M548.5 366.5h0M548.5 363.5h0M549.5 358.5h0M549.5 362.5h0M549.5 366.5h0M549.5 365.5h0M550.5 361.5h0M550.5 357.5h0M550.5 358.5h0M550.5 354.5h0M550.5 356.5h0M551.5 354.5h0M551.5 355.5h0M551.5 360.5h0M552.5 361.5h0M552.5 360.5h0M552.5 363.5h0M553.5 358.5h0M553.5 359.5h0M553.5 362.5h0M553.5 360.5h0M554.5 361.5h0M554.5 362.5h0M554.5 358.5h0M555.5 364.5h0M555.5 365.5h0M555.5 363.5h0M557.5 408.5h0M557.5 411.5h0M557.5 412.5h0M557.5 414.5h0M558.5 414.5h0M558.5 413.5h0M558.5 412.5h0M559.5 410.5h0M559.5 414.5h0M559.5 419.5h0M559.5 417.5h0M560.5 420.5h0M560.5 416.5h0M560.5 413.5h0M561.5 410.5h0M561.5 409.5h0M562.5 411.5h0M562.5 410.5h0M562.5 409.5h0M563.5 412.5h0M563.5 413.5h0M563.5 414.5h0M563.5 418.5h0M564.5 421.5h0M564.5 422.5h0M564.5 420.5h0M564.5 414.5h0M565.5 414.5h0M565.5 419.5h0M565.5 423.5h0M566.5 416.5h0M566.5 413.5h0M566.5 412.5h0M566.5 409.5h0M566.5 410.5h0M567.5 409.5h0M567.5 408.5h0M567.5 412.5h0M568.5 408.5h0M568.5 411.5h0M568.5 407.5h0M568.5 406.5h0M569.5 408.5h0M569.5 407.5h0M569.5 410.5h0M570.5 407.5h0M570.5 408.5h0M570.5 410.5h0M571.5 408.5h0M571.5 405.5h0M571.5 403.5h0M571.5 402.5h0M572.5 402.5h0M572.5 404.5h0M572.5 401.5h0M572.5 403.5h0M572.5 400.5h0M573.5 402.5h0M573.5 400.5h0M573.5 404.5h0M573.5 403.5h0M574.5 403.5h0M574.5 404.5h0M574.5 400.5h0M575.5 398.5h0M575.5 396.5h0M575.5 397.5h0M575.5 400.5h0M576.5 402.5h0M576.5 404.5h0M576.5 397.5h0M577.5 398.5h0M577.5 399.5h0M577.5 400.5h0M577.5 404.5h0M578.5 404.5h0M578.5 397.5h0M578.5 399.5h0M578.5 398.5h0M579.5 397.5h0M579.5 399.5h0M579.5 396.5h0M579.5 395.5h0M580.5 401.5h0M580.5 404.5h0M580.5 407.5h0M580.5 410.5h0M581.5 411.5h0M581.5 414.5h0M581.5 416.5h0M582.5 420.5h0M582.5 421.5h0M582.5 422.5h0M582.5 416.5h0M583.5 411.5h0M583.5 416.5h0M583.5 421.5h0M583.5 420.5h0M584.5 419.5h0M584.5 421.5h0M584.5 417.5h0M584.5 422.5h0M584.5 418.5h0M585.5 414.5h0M585.5 415.5h0M585.5 419.5h0M585.5 418.5h0M586.5 413.5h0M586.5 408.5h0M586.5 409.5h0M587.5 409.5h0M587.5 415.5h0M587.5 407.5h0M587.5 410.5h0M588.5 408.5h0M588.5 409.5h0M588.5 404.5h0M589.5 402.5h0M589.5 403.5h0M589.5 399.5h0M590.5 399.5h0M590.5 395.5h0M590.5 396.5h0M590.5 392.5h0M591.5 389.5h0M591.5 384.5h0M591.5 381.5h0M592.5 381.5h0M592.5 377.5h0M592.5 376.5h0M593.5 374.5h0M593.5 381.5h0M593.5 385.5h0M593.5 383.5h0M594.5 379.5h0M594.5 376.5h0M594.5 377.5h0M594.5 373.5h0M595.5 370.5h0M595.5 368.5h0M595.5 365.5h0M595.5 366.5h0M596.5 366.5h0M596.5 365.5h0M596.5 369.5h0M597.5 366.5h0M597.5 365.5h0M598.5 366.5h0M598.5 373.5h0M598.5 374.5h0M599.5 373.5h0M599.5 377.5h0M599.5 376.5h0M600.5 369.5h0M600.5 370.5h0M600.5 372.5h0M600.5 367.5h0M601.5 364.5h0M601.5 365.5h0M601.5 368.5h0M601.5 362.5h0M602.5 364.5h0M602.5 362.5h0M602.5 360.5h0M602.5 358.5h0M603.5 354.5h0M603.5 353.5h0M604.5 354.5h0M604.5 357.5h0M604.5 356.5h0M604.5 359.5h0M605.5 357.5h0M605.5 361.5h0M605.5 358.5h0M605.5 363.5h0M606.5 361.5h0M606.5 359.5h0M606.5 356.5h0M606.5 354.5h0M607.5 352.5h0M607.5 349.5h0M607.5 348.5h0M607.5 350.5h0M608.5 350.5h0M608.5 353.5h0M608.5 349.5h0M608.5 346.5h0M609.5 343.5h0M609.5 344.5h0M610.5 347.5h0M610.5 351.5h0M610.5 348.5h0M610.5 343.5h0M612.5 300.5h0M612.5 302.5h0M612.5 301.5h0M612.5 296.5h0M612.5 294.5h0M613.5 287.5h0M613.5 292.5h0M613.5 293.5h0M613.5 288.5h0M614.5 284.5h0M614.5 285.5h0M614.5 286.5h0M615.5 284.5h0M615.5 285.5h0M616.5 285.5h0M616.5 289.5h0M616.5 287.5h0M616.5 290.5h0M617.5 290.5h0M617.5 291.5h0M617.5 294.5h0M618.5 296.5h0M618.5 300.5h0M618.5 306.5h0M618.5 308.5h0M619.5 306.5h0M619.5 308.5h0M619.5 309.5h0M620.5 301.5h0M620.5 303.5h0M620.5 306.5h0M621.5 303.5h0M621.5 302.5h0M621.5 301.5h0M622.5 298.5h0M622.5 297.5h0M622.5 295.5h0M622.5 294.5h0M623.5 293.5h0M623.5 300.5h0M623.5 304.5h0M623.5 303.5h0M624.5 304.5h0M624.5 305.5h0M624.5 312.5h0M624.5 319.5h0M625.5 325.5h0M625.5 326.5h0M625.5 324.5h0M626.5 330.5h0M626.5 328.5h0M626.5 329.5h0M626.5 331.5h0M627.5 333.5h0M627.5 338.5h0M627.5 334.5h0M627.5 332.5h0M628.5 333.5h0M628.5 334.5h0M628.5 331.5h0M629.5 335.5h0M629.5 332.5h0M629.5 331.5h0M630.5 342.5h0M630.5 345.5h0M630.5 340.5h0M630.5 338.5h0M631.5 335.5h0M631.5 339.5h0M631.5 340.5h0M632.5 338.5h0M632.5 337.5h0M632.5 341.5h0M632.5 345.5h0M633.5 339.5h0M633.5 340.5h0M633.5 343.5h0M634.5 341.5h0M634.5 345.5h0M634.5 348.5h0M634.5 347.5h0M635.5 355.5h0M635.5 352.5h0M635.5 349.5h0M635.5 351.5h0M636.5 351.5h0M636.5 345.5h0M636.5 349.5h0M636.5 352.5h0M637.5 350.5h0M637.5 352.5h0M638.5 349.5h0M638.5 353.5h0M638.5 352.5h0M639.5 350.5h0M639.5 354.5h0M640.5 353.5h0M640.5 356.5h0M640.5 355.5h0M641.5 358.5h0M641.5 359.5h0M641.5 356.5h0M641.5 352.5h0M642.5 348.5h0M642.5 344.5h0M642.5 343.5h0M642.5 345.5h0M643.5 347.5h0M643.5 343.5h0M643.5 345.5h0M644.5 345.5h0M644.5 347.5h0M644.5 349.5h0M645.5 346.5h0M645.5 347.5h0M646.5 346.5h0M646.5 349.5h0M646.5 348.5h0M647.5 351.5h0M647.5 350.5h0M647.5 349.5h0M647.5 352.5h0M647.5 353.5h0M648.5 350.5h0M648.5 351.5h0M648.5 354.5h0M649.5 357.5h0M649.5 358.5h0M649.5 359.5h0M650.5 360.5h0M650.5 358.5h0M650.5 356.5h0M651.5 353.5h0M651.5 347.5h0M651.5 344.5h0M652.5 348.5h0M652.5 347.5h0M652.5 346.5h0M652.5 344.5h0M653.5 344.5h0M653.5 347.5h0M653.5 351.5h0M653.5 348.5h0M653.5 346.5h0M654.5 351.5h0M654.5 354.5h0M655.5 346.5h0M655.5 351.5h0M655.5 347.5h0M656.5 350.5h0M656.5 349.5h0M656.5 346.5h0M657.5 347.5h0M657.5 349.5h0M658.5 347.5h0M658.5 348.5h0M658.5 351.5h0M658.5 355.5h0M659.5 356.5h0M659.5 355.5h0M659.5 354.5h0M659.5 352.5h0M660.5 355.5h0M660.5 357.5h0M660.5 353.5h0M661.5 357.5h0M661.5 356.5h0M661.5 354.5h0M662.5 355.5h0M662.5 352.5h0M662.5 349.5h0M663.5 351.5h0M663.5 350.5h0M663.5 353.5h0M664.5 354.5h0M664.5 351.5h0M664.5 352.5h0M664.5 353.5h0M664.5 359.5h0M665.5 356.5h0M665.5 359.5h0M666.5 359.5h0M666.5 360.5h0M666.5 357.5h0M667.5 350.5h0M667.5 349.5h0M668.5 351.5h0M668.5 350.5h0M668.5 354.5h0M668.5 353.5h0M669.5 354.5h0M669.5 356.5h0M669.5 358.5h0M669.5 357.5h0M670.5 358.5h0M670.5 355.5h0M670.5 353.5h0M670.5 354.5h0M670.5 356.5h0M671.5 354.5h0M671.5 356.5h0M671.5 350.5h0M672.5 354.5h0M672.5 351.5h0M672.5 352.5h0M673.5 352.5h0M673.5 351.5h0M674.5 351.5h0M674.5 352.5h0M675.5 350.5h0M675.5 351.5h0M675.5 352.5h0M675.5 349.5h0M675.5 346.5h0M676.5 346.5h0M676.5 347.5h0M676.5 348.5h0M676.5 345.5h0M677.5 348.5h0M677.5 345.5h0M677.5 351.5h0M677.5 347.5h0M678.5 347.5h0M678.5 345.5h0M679.5 344.5h0M679.5 343.5h0M680.5 342.5h0M680.5 345.5h0M681.5 341.5h0M681.5 338.5h0M681.5 336.5h0M681.5 332.5h0M681.5 334.5h0M682.5 325.5h0M682.5 323.5h0M682.5 321.5h0M682.5 319.5h0M683.5 316.5h0M683.5 317.5h0M683.5 318.5h0M684.5 320.5h0M684.5 318.5h0M684.5 317.5h0M685.5 315.5h0M685.5 313.5h0M685.5 308.5h0M686.5 309.5h0M686.5 307.5h0M687.5 304.5h0M687.5 305.5h0M690.5 335.5h0M690.5 332.5h0M690.5 338.5h0M691.5 335.5h0M691.5 338.5h0M691.5 339.5h0M691.5 342.5h0M692.5 338.5h0M692.5 341.5h0M692.5 344.5h0M693.5 342.5h0M693.5 344.5h0M693.5 348.5h0M693.5 350.5h0M693.5 353.5h0M694.5 351.5h0M694.5 352.5h0M694.5 354.5h0M695.5 352.5h0M695.5 354.5h0M695.5 355.5h0M696.5 352.5h0M696.5 353.5h0M696.5 356.5h0M696.5 355.5h0M697.5 354.5h0M697.5 351.5h0M697.5 352.5h0M698.5 350.5h0M698.5 356.5h0M698.5 357.5h0M698.5 353.5h0M699.5 356.5h0M699.5 355.5h0M699.5 357.5h0M700.5 356.5h0M700.5 354.5h0M700.5 355.5h0M700.5 351.5h0M701.5 349.5h0M701.5 346.5h0M701.5 351.5h0M702.5 357.5h0M702.5 353.5h0M702.5 351.5h0M703.5 353.5h0M703.5 356.5h0M703.5 359.5h0M703.5 357.5h0M704.5 358.5h0M704.5 359.5h0M704.5 355.5h0M704.5 356.5h0M705.5 355.5h0M705.5 354.5h0M705.5 352.5h0M706.5 357.5h0M706.5 359.5h0M706.5 358.5h0M707.5 360.5h0M707.5 357.5h0M707.5 359.5h0M708.5 356.5h0M708.5 357.5h0M708.5 358.5h0M709.5 358.5h0M709.5 359.5h0M710.5 358.5h0M710.5 359.5h0M710.5 360.5h0M710.5 364.5h0M711.5 367.5h0M711.5 366.5h0M712.5 367.5h0M712.5 363.5h0M712.5 366.5h0M712.5 368.5h0M713.5 369.5h0M713.5 370.5h0M714.5 367.5h0M714.5 368.5h0M715.5 364.5h0M715.5 370.5h0M716.5 369.5h0M716.5 363.5h0M716.5 365.5h0M717.5 363.5h0M717.5 364.5h0M717.5 369.5h0M717.5 371.5h0M718.5 372.5h0M718.5 369.5h0M718.5 368.5h0M719.5 370.5h0M719.5 371.5h0M719.5 368.5h0M720.5 366.5h0M720.5 363.5h0M720.5 370.5h0M721.5 369.5h0M721.5 371.5h0M721.5 368.5h0M721.5 366.5h0M722.5 365.5h0M722.5 367.5h0M722.5 370.5h0M723.5 366.5h0M723.5 371.5h0M723.5 369.5h0M723.5 368.5h0M724.5 367.5h0M724.5 370.5h0M725.5 369.5h0M725.5 367.5h0M726.5 368.5h0M726.5 367.5h0M726.5 366.5h0M727.5 367.5h0M727.5 364.5h0M727.5 366.5h0M728.5 362.5h0M728.5 363.5h0M728.5 361.5h0M729.5 363.5h0M729.5 362.5h0M730.5 363.5h0M730.5 366.5h0M730.5 365.5h0M731.5 364.5h0M731.5 365.5h0M732.5 363.5h0M732.5 361.5h0M733.5 360.5h0M733.5 362.5h0M733.5 361.5h0M734.5 364.5h0M734.5 361.5h0M734.5 362.5h0M735.5 363.5h0M735.5 362.5h0M735.5 361.5h0M735.5 359.5h0M736.5 359.5h0M736.5 362.5h0M736.5 363.5h0M737.5 363.5h0M737.5 360.5h0M737.5 358.5h0M738.5 357.5h0M738.5 359.5h0M738.5 361.5h0M739.5 358.5h0M739.5 359.5h0M739.5 355.5h0M739.5 361.5h0M740.5 360.5h0M740.5 356.5h0M740.5 354.5h0M741.5 353.5h0M741.5 355.5h0M741.5 357.5h0M741.5 354.5h0M742.5 354.5h0M742.5 355.5h0M742.5 353.5h0M742.5 351.5h0M743.5 353.5h0M743.5 349.5h0M744.5 345.5h0M744.5 343.5h0M744.5 342.5h0M744.5 339.5h0M745.5 338.5h0M745.5 334.5h0M745.5 339.5h0M745.5 336.5h0M746.5 336.5h0M746.5 331.5h0M746.5 334.5h0M747.5 337.5h0M747.5 336.5h0M748.5 334.5h0M748.5 333.5h0M749.5 334.5h0M749.5 332.5h0M750.5 329.5h0M750.5 330.5h0M750.5 333.5h0M751.5 358.5h0M751.5 362.5h0M751.5 359.5h0M752.5 361.5h0M752.5 360.5h0M753.5 361.5h0M753.5 360.5h0M753.5 362.5h0M754.5 359.5h0M754.5 360.5h0M754.5 362.5h0M755.5 361.5h0M755.5 355.5h0M755.5 357.5h0M756.5 359.5h0M756.5 361.5h0M756.5 362.5h0M756.5 357.5h0M757.5 357.5h0M757.5 358.5h0M757.5 362.5h0M758.5 361.5h0M758.5 359.5h0M758.5 356.5h0M759.5 356.5h0M759.5 357.5h0M759.5 355.5h0M760.5 359.5h0M760.5 360.5h0M760.5 362.5h0M760.5 361.5h0M761.5 357.5h0M761.5 358.5h0M761.5 359.5h0M761.5 361.5h0M762.5 362.5h0M762.5 360.5h0M762.5 359.5h0M763.5 362.5h0M763.5 361.5h0M763.5 358.5h0M764.5 355.5h0M764.5 356.5h0M765.5 362.5h0M765.5 360.5h0M766.5 357.5h0M766.5 361.5h0M766.5 355.5h0M766.5 353.5h0M767.5 355.5h0M767.5 353.5h0M768.5 354.5h0M768.5 357.5h0M769.5 355.5h0M769.5 353.5h0M770.5 357.5h0M770.5 354.5h0M770.5 355.5h0M771.5 355.5h0M771.5 353.5h0M771.5 362.5h0M772.5 359.5h0M772.5 358.5h0M772.5 356.5h0M773.5 356.5h0M773.5 360.5h0M773.5 361.5h0M773.5 358.5h0M773.5 355.5h0M774.5 357.5h0M774.5 352.5h0M774.5 355.5h0M775.5 353.5h0M775.5 355.5h0M776.5 355.5h0M776.5 352.5h0M776.5 353.5h0M777.5 355.5h0M777.5 356.5h0M777.5 359.5h0M778.5 354.5h0M778.5 359.5h0M778.5 355.5h0M779.5 355.5h0M779.5 353.5h0M779.5 354.5h0M779.5 356.5h0M780.5 358.5h0M780.5 359.5h0M780.5 352.5h0M781.5 354.5h0M781.5 355.5h0M782.5 352.5h0M782.5 355.5h0M782.5 353.5h0M783.5 355.5h0M783.5 353.5h0M783.5 352.5h0M783.5 356.5h0M784.5 355.5h0M784.5 357.5h0M784.5 353.5h0M785.5 353.5h0M785.5 356.5h0M785.5 358.5h0M785.5 354.5h0M785.5 352.5h0M786.5 353.5h0M786.5 352.5h0M787.5 354.5h0M787.5 356.5h0M787.5 359.5h0M787.5 357.5h0M788.5 358.5h0M788.5 356.5h0M788.5 355.5h0M789.5 360.5h0M789.5 358.5h0M789.5 359.5h0M790.5 355.5h0M790.5 353.5h0M790.5 354.5h0M791.5 354.5h0M791.5 355.5h0M792.5 354.5h0M792.5 355.5h0M792.5 352.5h0M793.5 353.5h0M793.5 354.5h0M794.5 353.5h0M794.5 357.5h0M794.5 356.5h0M795.5 357.5h0M795.5 354.5h0M795.5 353.5h0M796.5 352.5h0M796.5 353.5h0M796.5 355.5h0M796.5 356.5h0M797.5 352.5h0M797.5 350.5h0M797.5 347.5h0M797.5 346.5h0M798.5 350.5h0M798.5 347.5h0M798.5 346.5h0M799.5 342.5h0M799.5 345.5h0M799.5 338.5h0M800.5 338.5h0M800.5 340.5h0M800.5 341.5h0M801.5 343.5h0M801.5 339.5h0M801.5 337.5h0M801.5 336.5h0M802.5 341.5h0M802.5 340.5h0M802.5 335.5h0M802.5 333.5h0M803.5 334.5h0M803.5 333.5h0M804.5 340.5h0M804.5 337.5h0M804.5 333.5h0M804.5 335.5h0M805.5 333.5h0M805.5 336.5h0M806.5 335.5h0M806.5 340.5h0M807.5 338.5h0M807.5 333.5h0M807.5 334.5h0M807.5 336.5h0M808.5 339.5h0M808.5 335.5h0M808.5 334.5h0M808.5 333.5h0M808.5 332.5h0M809.5 333.5h0M809.5 332.5h0M810.5 334.5h0M810.5 328.5h0M810.5 327.5h0M810.5 325.5h0M811.5 325.5h0M811.5 328.5h0M812.5 328.5h0M812.5 325.5h0M812.5 329.5h0M813.5 346.5h0M813.5 344.5h0M813.5 345.5h0M813.5 342.5h0M814.5 345.5h0M814.5 347.5h0M814.5 344.5h0M815.5 347.5h0M815.5 344.5h0M815.5 349.5h0M815.5 346.5h0M816.5 347.5h0M816.5 350.5h0M816.5 352.5h0M817.5 346.5h0M817.5 345.5h0M817.5 344.5h0M818.5 346.5h0M818.5 348.5h0M818.5 349.5h0M819.5 352.5h0M819.5 355.5h0M819.5 349.5h0M819.5 356.5h0M819.5 354.5h0M820.5 356.5h0M820.5 351.5h0M820.5 349.5h0M820.5 345.5h0M821.5 348.5h0M821.5 350.5h0M822.5 351.5h0M822.5 348.5h0M822.5 345.5h0M822.5 343.5h0M823.5 345.5h0M823.5 341.5h0M823.5 342.5h0M824.5 343.5h0M824.5 347.5h0M824.5 346.5h0M825.5 353.5h0M825.5 352.5h0M825.5 350.5h0M826.5 350.5h0M826.5 348.5h0M826.5 346.5h0M827.5 347.5h0M827.5 344.5h0M827.5 343.5h0M828.5 344.5h0M828.5 347.5h0M828.5 352.5h0M828.5 348.5h0M829.5 348.5h0M829.5 342.5h0M829.5 343.5h0M830.5 345.5h0M830.5 342.5h0M830.5 341.5h0M830.5 343.5h0M831.5 345.5h0M831.5 350.5h0M831.5 347.5h0M831.5 352.5h0M831.5 351.5h0M832.5 348.5h0M832.5 349.5h0M832.5 351.5h0M832.5 353.5h0M833.5 352.5h0M833.5 356.5h0M833.5 355.5h0M833.5 357.5h0M834.5 355.5h0M834.5 352.5h0M834.5 347.5h0M835.5 347.5h0M835.5 349.5h0M835.5 350.5h0M836.5 350.5h0M836.5 355.5h0M836.5 351.5h0M836.5 352.5h0M837.5 355.5h0M837.5 350.5h0M837.5 351.5h0M837.5 354.5h0M837.5 358.5h0M838.5 355.5h0M838.5 356.5h0M838.5 353.5h0M839.5 354.5h0M839.5 356.5h0M840.5 356.5h0M840.5 360.5h0M840.5 361.5h0M840.5 363.5h0M841.5 364.5h0M841.5 370.5h0M841.5 367.5h0M841.5 366.5h0M842.5 365.5h0M842.5 367.5h0M842.5 369.5h0M842.5 370.5h0M843.5 368.5h0M843.5 369.5h0M843.5 361.5h0M844.5 365.5h0M844.5 363.5h0M844.5 362.5h0M845.5 362.5h0M845.5 357.5h0M845.5 356.5h0M845.5 360.5h0M846.5 363.5h0M846.5 366.5h0M846.5 365.5h0M846.5 364.5h0M847.5 367.5h0M847.5 369.5h0M847.5 366.5h0M848.5 360.5h0M848.5 365.5h0M848.5 361.5h0M848.5 364.5h0M849.5 367.5h0M849.5 368.5h0M850.5 370.5h0M850.5 367.5h0M850.5 369.5h0M851.5 360.5h0M851.5 361.5h0M851.5 359.5h0M851.5 363.5h0M852.5 359.5h0M852.5 360.5h0M852.5 357.5h0M853.5 357.5h0M853.5 363.5h0M853.5 362.5h0M853.5 365.5h0M854.5 362.5h0M854.5 360.5h0M854.5 358.5h0M854.5 364.5h0M854.5 365.5h0M855.5 364.5h0M855.5 363.5h0M856.5 358.5h0M856.5 359.5h0M856.5 360.5h0M857.5 362.5h0M857.5 357.5h0M857.5 358.5h0M858.5 358.5h0M858.5 357.5h0M858.5 356.5h0M858.5 360.5h0M859.5 357.5h0M859.5 358.5h0M859.5 363.5h0M859.5 365.5h0M860.5 364.5h0M860.5 359.5h0M860.5 353.5h0M861.5 352.5h0M861.5 357.5h0M861.5 353.5h0M862.5 353.5h0M862.5 351.5h0M862.5 350.5h0M863.5 350.5h0M863.5 348.5h0M863.5 352.5h0M864.5 349.5h0M864.5 350.5h0M865.5 351.5h0M865.5 350.5h0M865.5 356.5h0M865.5 354.5h0M866.5 354.5h0M866.5 352.5h0M866.5 355.5h0M867.5 354.5h0M867.5 353.5h0M867.5 356.5h0M868.5 354.5h0M868.5 350.5h0M868.5 349.5h0M868.5 353.5h0M869.5 350.5h0M869.5 351.5h0M869.5 352.5h0M870.5 350.5h0M870.5 349.5h0M871.5 347.5h0M871.5 349.5h0M871.5 350.5h0M871.5 352.5h0M871.5 351.5h0M872.5 350.5h0M872.5 353.5h0M872.5 352.5h0M873.5 351.5h0M873.5 352.5h0M873.5 347.5h0M874.5 352.5h0M874.5 351.5h0M875.5 351.5h0M875.5 347.5h0M875.5 349.5h0M876.5 349.5h0M876.5 347.5h0M876.5 348.5h0M876.5 353.5h0M877.5 353.5h0M878.5 381.5h0M878.5 387.5h0M878.5 389.5h0M879.5 390.5h0M879.5 394.5h0M879.5 389.5h0M880.5 390.5h0M880.5 391.5h0M880.5 387.5h0M881.5 383.5h0M881.5 378.5h0M881.5 376.5h0M881.5 377.5h0M882.5 372.5h0M882.5 373.5h0M882.5 374.5h0M882.5 375.5h0M883.5 371.5h0M883.5 369.5h0M883.5 372.5h0M883.5 376.5h0M884.5 377.5h0M884.5 376.5h0M884.5 372.5h0M885.5 373.5h0M885.5 367.5h0M885.5 371.5h0M886.5 371.5h0M886.5 370.5h0M886.5 368.5h0M886.5 367.5h0M887.5 370.5h0M887.5 367.5h0M887.5 368.5h0M888.5 376.5h0M888.5 377.5h0M889.5 375.5h0M889.5 374.5h0M889.5 376.5h0M890.5 371.5h0M890.5 367.5h0M890.5 369.5h0M890.5 374.5h0M891.5 376.5h0M891.5 375.5h0M891.5 373.5h0M891.5 374.5h0M892.5 375.5h0M892.5 370.5h0M892.5 372.5h0M893.5 372.5h0M893.5 374.5h0M893.5 376.5h0M894.5 377.5h0M894.5 374.5h0M894.5 371.5h0M894.5 376.5h0M895.5 371.5h0M895.5 369.5h0M895.5 377.5h0M896.5 376.5h0M896.5 375.5h0M896.5 368.5h0M897.5 370.5h0M897.5 373.5h0M897.5 374.5h0M897.5 367.5h0M898.5 371.5h0M898.5 372.5h0M898.5 374.5h0M899.5 373.5h0M899.5 369.5h0M899.5 370.5h0M900.5 370.5h0M900.5 371.5h0M900.5 369.5h0M900.5 372.5h0M901.5 362.5h0M901.5 364.5h0M901.5 367.5h0M901.5 365.5h0M902.5 364.5h0M902.5 363.5h0M902.5 359.5h0M903.5 359.5h0M903.5 364.5h0M903.5 365.5h0M903.5 370.5h0M904.5 370.5h0M904.5 369.5h0M904.5 371.5h0M905.5 365.5h0M905.5 370.5h0M905.5 371.5h0M905.5 369.5h0M905.5 366.5h0M906.5 366.5h0M906.5 368.5h0M906.5 362.5h0M906.5 363.5h0M906.5 364.5h0M907.5 365.5h0M907.5 363.5h0M907.5 370.5h0M908.5 368.5h0M908.5 364.5h0M908.5 362.5h0M908.5 365.5h0M909.5 366.5h0M909.5 367.5h0M910.5 365.5h0M910.5 362.5h0M910.5 363.5h0M910.5 358.5h0M911.5 357.5h0M911.5 361.5h0M911.5 359.5h0M911.5 365.5h0M912.5 368.5h0M912.5 366.5h0M912.5 365.5h0M913.5 364.5h0M913.5 363.5h0M913.5 361.5h0M914.5 361.5h0M914.5 362.5h0M914.5 360.5h0M915.5 362.5h0M915.5 365.5h0M915.5 369.5h0M915.5 371.5h0M916.5 369.5h0M916.5 367.5h0M916.5 370.5h0M917.5 368.5h0M917.5 369.5h0M917.5 367.5h0M917.5 364.5h0M918.5 366.5h0M918.5 368.5h0M919.5 365.5h0M919.5 369.5h0M919.5 366.5h0M920.5 365.5h0M920.5 369.5h0M920.5 368.5h0M921.5 368.5h0M921.5 367.5h0M921.5 363.5h0M921.5 366.5h0M922.5 367.5h0M922.5 364.5h0M922.5 363.5h0M923.5 366.5h0M923.5 363.5h0M923.5 362.5h0M923.5 365.5h0M924.5 365.5h0M924.5 366.5h0M925.5 365.5h0M925.5 362.5h0M925.5 358.5h0M926.5 359.5h0M926.5 356.5h0M926.5 358.5h0M926.5 357.5h0M927.5 357.5h0M927.5 354.5h0M927.5 352.5h0M928.5 350.5h0M928.5 353.5h0M928.5 349.5h0M928.5 351.5h0M929.5 353.5h0M929.5 354.5h0M929.5 352.5h0M930.5 352.5h0M930.5 353.5h0M931.5 351.5h0M931.5 350.5h0M931.5 349.5h0M931.5 352.5h0M123.5 201.5h0M123.5 212.5h0M124.5 204.5h0M124.5 222.5h0M126.5 214.5h0M126.5 224.5h0M129.5 299.5h0M129.5 326.5h0M131.5 313.5h0M131.5 326.5h0M133.5 313.5h0M133.5 323.5h0M135.5 287.5h0M135.5 322.5h0M138.5 292.5h0M138.5 322.5h0M140.5 305.5h0M140.5 320.5h0M141.5 325.5h0M143.5 315.5h0M143.5 340.5h0M143.5 376.5h0M146.5 352.5h0M146.5 383.5h0M149.5 346.5h0M149.5 377.5h0M152.5 350.5h0M152.5 387.5h0M155.5 350.5h0M155.5 376.5h0M157.5 347.5h0M157.5 372.5h0M159.5 347.5h0M159.5 363.5h0M163.5 350.5h0M163.5 364.5h0M164.5 355.5h0M164.5 378.5h0M165.5 365.5h0M165.5 383.5h0M166.5 356.5h0M166.5 370.5h0M168.5 352.5h0M168.5 362.5h0M170.5 351.5h0M171.5 355.5h0M171.5 365.5h0M172.5 366.5h0M172.5 380.5h0M173.5 380.5h0M173.5 400.5h0M174.5 395.5h0M174.5 419.5h0M177.5 400.5h0M177.5 420.5h0M180.5 416.5h0M182.5 398.5h0M182.5 415.5h0M183.5 390.5h0M183.5 405.5h0M185.5 398.5h0M187.5 382.5h0M187.5 394.5h0M190.5 380.5h0M190.5 390.5h0M192.5 375.5h0M192.5 383.5h0M193.5 362.5h0M195.5 318.5h0M195.5 332.5h0M197.5 314.5h0M197.5 330.5h0M199.5 311.5h0M199.5 328.5h0M200.5 318.5h0M201.5 330.5h0M201.5 340.5h0M203.5 337.5h0M203.5 348.5h0M205.5 345.5h0M205.5 353.5h0M208.5 348.5h0M211.5 352.5h0M211.5 364.5h0M214.5 358.5h0M216.5 362.5h0M216.5 375.5h0M219.5 368.5h0M219.5 378.5h0M221.5 375.5h0M223.5 388.5h0M225.5 396.5h0M225.5 408.5h0M227.5 398.5h0M227.5 415.5h0M230.5 398.5h0M230.5 410.5h0M235.5 412.5h0M237.5 395.5h0M237.5 408.5h0M238.5 386.5h0M238.5 398.5h0M241.5 378.5h0M241.5 392.5h0M244.5 386.5h0M247.5 380.5h0M250.5 373.5h0M250.5 383.5h0M252.5 376.5h0M252.5 409.5h0M254.5 380.5h0M254.5 392.5h0M257.5 383.5h0M257.5 395.5h0M261.5 388.5h0M261.5 402.5h0M265.5 398.5h0M265.5 410.5h0M268.5 403.5h0M268.5 415.5h0M270.5 411.5h0M270.5 420.5h0M271.5 427.5h0M271.5 434.5h0M272.5 427.5h0M272.5 436.5h0M276.5 428.5h0M276.5 440.5h0M280.5 428.5h0M280.5 441.5h0M283.5 430.5h0M283.5 441.5h0M284.5 455.5h0M284.5 460.5h0M286.5 458.5h0M286.5 464.5h0M288.5 462.5h0M288.5 470.5h0M292.5 468.5h0M294.5 470.5h0M294.5 483.5h0M297.5 470.5h0M297.5 487.5h0M300.5 470.5h0M300.5 484.5h0M301.5 470.5h0M301.5 480.5h0M302.5 445.5h0M302.5 470.5h0M304.5 452.5h0M306.5 435.5h0M306.5 448.5h0M308.5 440.5h0M308.5 456.5h0M309.5 452.5h0M309.5 476.5h0M310.5 476.5h0M313.5 460.5h0M313.5 474.5h0M316.5 470.5h0M317.5 476.5h0M317.5 492.5h0M318.5 494.5h0M322.5 478.5h0M322.5 491.5h0M324.5 486.5h0M326.5 474.5h0M326.5 482.5h0M330.5 471.5h0M330.5 480.5h0M335.5 472.5h0M335.5 480.5h0M339.5 478.5h0M340.5 467.5h0M343.5 457.5h0M345.5 438.5h0M345.5 442.5h0M347.5 427.5h0M347.5 431.5h0M350.5 374.5h0M350.5 394.5h0M352.5 380.5h0M352.5 397.5h0M354.5 397.5h0M358.5 386.5h0M358.5 397.5h0M362.5 386.5h0M362.5 396.5h0M364.5 380.5h0M364.5 392.5h0M365.5 375.5h0M367.5 360.5h0M367.5 372.5h0M369.5 362.5h0M369.5 372.5h0M371.5 366.5h0M371.5 376.5h0M372.5 384.5h0M374.5 414.5h0M375.5 395.5h0M375.5 412.5h0M378.5 390.5h0M378.5 404.5h0M380.5 386.5h0M382.5 387.5h0M382.5 390.5h0M385.5 389.5h0M385.5 393.5h0M388.5 390.5h0M388.5 398.5h0M392.5 392.5h0M392.5 397.5h0M396.5 393.5h0M399.5 395.5h0M399.5 404.5h0M401.5 402.5h0M402.5 390.5h0M402.5 400.5h0M404.5 302.5h0M404.5 322.5h0M406.5 305.5h0M406.5 330.5h0M408.5 308.5h0M410.5 310.5h0M410.5 338.5h0M412.5 308.5h0M412.5 341.5h0M414.5 308.5h0M414.5 325.5h0M415.5 308.5h0M415.5 322.5h0M417.5 207.5h0M417.5 240.5h0M420.5 207.5h0M420.5 238.5h0M423.5 215.5h0M425.5 222.5h0M425.5 240.5h0M457.5 224.5h0M457.5 240.5h0M460.5 224.5h0M460.5 246.5h0M463.5 224.5h0M463.5 252.5h0M466.5 214.5h0M466.5 246.5h0M468.5 214.5h0M468.5 250.5h0M469.5 258.5h0M471.5 250.5h0M471.5 268.5h0M473.5 262.5h0M473.5 280.5h0M477.5 270.5h0M477.5 288.5h0M479.5 286.5h0M479.5 306.5h0M481.5 300.5h0M481.5 318.5h0M483.5 310.5h0M483.5 320.5h0M485.5 296.5h0M485.5 309.5h0M488.5 297.5h0M488.5 310.5h0M491.5 270.5h0M491.5 290.5h0M494.5 268.5h0M494.5 291.5h0M497.5 265.5h0M497.5 291.5h0M498.5 296.5h0M498.5 300.5h0M500.5 302.5h0M502.5 315.5h0M504.5 322.5h0M504.5 330.5h0M506.5 366.5h0M506.5 380.5h0M508.5 366.5h0M508.5 390.5h0M510.5 368.5h0M510.5 400.5h0M512.5 370.5h0M512.5 400.5h0M514.5 370.5h0M514.5 398.5h0M516.5 372.5h0M516.5 398.5h0M519.5 376.5h0M519.5 400.5h0M521.5 384.5h0M521.5 408.5h0M524.5 397.5h0M524.5 410.5h0M527.5 398.5h0M527.5 410.5h0M529.5 405.5h0M530.5 385.5h0M530.5 396.5h0M532.5 361.5h0M532.5 385.5h0M534.5 360.5h0M534.5 382.5h0M536.5 355.5h0M536.5 382.5h0M538.5 362.5h0M538.5 383.5h0M541.5 371.5h0M541.5 383.5h0M544.5 371.5h0M544.5 382.5h0M547.5 368.5h0M547.5 382.5h0M548.5 350.5h0M548.5 368.5h0M550.5 348.5h0M550.5 366.5h0M552.5 346.5h0M552.5 364.5h0M554.5 344.5h0M556.5 347.5h0M556.5 368.5h0M557.5 398.5h0M557.5 410.5h0M559.5 400.5h0M559.5 424.5h0M561.5 424.5h0M564.5 410.5h0M564.5 430.5h0M566.5 408.5h0M566.5 431.5h0M568.5 424.5h0M570.5 405.5h0M570.5 420.5h0M571.5 392.5h0M575.5 392.5h0M575.5 405.5h0M579.5 393.5h0M579.5 406.5h0M581.5 395.5h0M581.5 412.5h0M582.5 410.5h0M582.5 430.5h0M584.5 412.5h0M584.5 432.5h0M586.5 410.5h0M586.5 418.5h0M587.5 405.5h0M587.5 416.5h0M589.5 395.5h0M589.5 405.5h0M591.5 386.5h0M591.5 398.5h0M593.5 375.5h0M593.5 394.5h0M596.5 360.5h0M596.5 390.5h0M600.5 358.5h0M600.5 382.5h0M604.5 352.5h0M604.5 372.5h0M608.5 345.5h0M608.5 365.5h0M611.5 340.5h0M611.5 350.5h0M612.5 297.5h0M612.5 310.5h0M614.5 280.5h0M614.5 310.5h0M616.5 284.5h0M616.5 309.5h0M618.5 295.5h0M618.5 310.5h0M620.5 298.5h0M620.5 309.5h0M623.5 292.5h0M623.5 306.5h0M624.5 300.5h0M624.5 308.5h0M625.5 318.5h0M625.5 330.5h0M627.5 322.5h0M627.5 356.5h0M630.5 330.5h0M630.5 356.5h0M634.5 361.5h0M640.5 342.5h0M640.5 360.5h0M645.5 343.5h0M645.5 358.5h0M650.5 354.5h0M650.5 362.5h0M651.5 355.5h0M655.5 344.5h0M655.5 355.5h0M658.5 346.5h0M658.5 356.5h0M662.5 359.5h0M667.5 361.5h0M671.5 347.5h0M671.5 358.5h0M673.5 344.5h0M673.5 353.5h0M678.5 344.5h0M678.5 353.5h0M681.5 340.5h0M681.5 352.5h0M682.5 340.5h0M683.5 324.5h0M685.5 311.5h0M685.5 318.5h0M687.5 303.5h0M687.5 310.5h0M687.5 306.5h0M690.5 330.5h0M690.5 345.5h0M692.5 340.5h0M692.5 358.5h0M696.5 344.5h0M696.5 358.5h0M700.5 344.5h0M700.5 358.5h0M705.5 346.5h0M705.5 360.5h0M707.5 355.5h0M707.5 361.5h0M712.5 361.5h0M712.5 370.5h0M717.5 373.5h0M720.5 355.5h0M720.5 372.5h0M725.5 361.5h0M725.5 371.5h0M731.5 361.5h0M731.5 366.5h0M737.5 359.5h0M737.5 364.5h0M741.5 350.5h0M741.5 361.5h0M743.5 338.5h0M743.5 355.5h0M747.5 330.5h0M747.5 339.5h0M751.5 329.5h0M751.5 332.5h0M751.5 355.5h0M751.5 363.5h0M755.5 363.5h0M762.5 355.5h0M762.5 364.5h0M770.5 353.5h0M770.5 363.5h0M778.5 352.5h0M778.5 360.5h0M787.5 352.5h0M787.5 360.5h0M788.5 364.5h0M790.5 358.5h0M797.5 357.5h0M797.5 338.5h0M800.5 334.5h0M800.5 344.5h0M807.5 342.5h0M810.5 331.5h0M810.5 336.5h0M812.5 317.5h0M812.5 332.5h0M813.5 350.5h0M816.5 345.5h0M816.5 357.5h0M820.5 344.5h0M820.5 357.5h0M822.5 341.5h0M822.5 356.5h0M827.5 339.5h0M827.5 354.5h0M831.5 341.5h0M831.5 355.5h0M835.5 345.5h0M835.5 358.5h0M836.5 371.5h0M840.5 352.5h0M840.5 371.5h0M846.5 349.5h0M846.5 371.5h0M851.5 356.5h0M851.5 371.5h0M855.5 357.5h0M855.5 366.5h0M860.5 356.5h0M860.5 366.5h0M862.5 348.5h0M862.5 362.5h0M866.5 349.5h0M866.5 366.5h0M869.5 349.5h0M869.5 358.5h0M872.5 347.5h0M872.5 354.5h0M875.5 346.5h0M875.5 353.5h0M877.5 348.5h0M877.5 354.5h0M878.5 368.5h0M878.5 376.5h0M879.5 380.5h0M879.5 398.5h0M880.5 378.5h0M880.5 392.5h0M882.5 380.5h0M885.5 366.5h0M885.5 378.5h0M890.5 368.5h0M890.5 378.5h0M892.5 365.5h0M892.5 378.5h0M897.5 368.5h0M897.5 378.5h0M899.5 362.5h0M899.5 374.5h0M903.5 358.5h0M903.5 372.5h0M908.5 356.5h0M908.5 371.5h0M913.5 358.5h0M913.5 372.5h0M917.5 362.5h0M917.5 372.5h0M921.5 364.5h0M921.5 369.5h0M925.5 368.5h0M926.5 354.5h0M926.5 362.5h0M928.5 356.5h0M931.5 354.5h0M932.5 349.5h0M932.5 354.5h0M123.5 200.5h0M124.5 203.5h0M124.5 207.5h0M124.5 212.5h0M126.5 217.5h0M124.5 224.5h0M127.5 227.5h0M127.5 231.5h0M121.5 231.5h0M122.5 233.5h0M121.5 238.5h0M128.5 239.5h0M128.5 243.5h0M122.5 248.5h0M121.5 253.5h0M127.5 251.5h0M121.5 263.5h0M122.5 276.5h0M122.5 279.5h0M128.5 273.5h0M128.5 278.5h0M136.5 290.5h0M137.5 293.5h0M138.5 301.5h0M129.5 304.5h0M129.5 308.5h0M133.5 333.5h0M131.5 338.5h0M133.5 343.5h0M132.5 355.5h0M132.5 361.5h0M131.5 371.5h0M140.5 333.5h0M143.5 335.5h0M149.5 341.5h0M149.5 345.5h0M143.5 352.5h0M146.5 378.5h0M193.5 361.5h0M194.5 355.5h0M195.5 348.5h0M195.5 340.5h0M195.5 337.5h0M252.5 401.5h0M253.5 408.5h0M301.5 490.5h0M295.5 492.5h0M295.5 496.5h0M300.5 498.5h0M296.5 502.5h0M301.5 502.5h0M297.5 510.5h0M296.5 518.5h0M300.5 518.5h0M340.5 465.5h0M343.5 455.5h0M343.5 450.5h0M344.5 445.5h0M345.5 440.5h0M347.5 429.5h0M347.5 425.5h0M348.5 420.5h0M348.5 411.5h0M348.5 407.5h0M349.5 403.5h0M403.5 364.5h0M403.5 350.5h0M404.5 259.5h0M403.5 263.5h0M404.5 279.5h0M404.5 284.5h0M404.5 285.5h0M416.5 275.5h0M416.5 285.5h0M415.5 286.5h0M417.5 293.5h0M420.5 159.5h0M420.5 180.5h0M425.5 248.5h0M425.5 256.5h0M426.5 270.5h0M426.5 271.5h0M428.5 276.5h0M428.5 285.5h0M428.5 286.5h0M427.5 295.5h0M427.5 308.5h0M427.5 310.5h0M427.5 317.5h0M426.5 327.5h0M433.5 211.5h0M440.5 213.5h0M432.5 231.5h0M433.5 234.5h0M431.5 242.5h0M432.5 245.5h0M431.5 238.5h0M434.5 253.5h0M435.5 258.5h0M435.5 262.5h0M436.5 266.5h0M436.5 269.5h0M436.5 278.5h0M438.5 282.5h0M439.5 286.5h0M437.5 290.5h0M437.5 294.5h0M450.5 39.5h0M449.5 80.5h0M450.5 99.5h0M450.5 101.5h0M450.5 106.5h0M443.5 110.5h0M445.5 110.5h0M447.5 110.5h0M448.5 111.5h0M450.5 113.5h0M451.5 114.5h0M442.5 114.5h0M444.5 114.5h0M442.5 118.5h0M444.5 116.5h0M449.5 116.5h0M445.5 120.5h0M448.5 120.5h0M441.5 121.5h0M443.5 122.5h0M440.5 124.5h0M444.5 123.5h0M446.5 122.5h0M449.5 122.5h0M452.5 123.5h0M450.5 125.5h0M450.5 128.5h0M452.5 129.5h0M450.5 133.5h0M440.5 136.5h0M448.5 136.5h0M452.5 141.5h0M449.5 149.5h0M451.5 149.5h0M442.5 112.5h0M446.5 112.5h0M447.5 118.5h0M443.5 119.5h0M450.5 119.5h0M448.5 151.5h0M452.5 151.5h0M456.5 155.5h0M452.5 158.5h0M452.5 162.5h0M455.5 164.5h0M447.5 169.5h0M455.5 170.5h0M455.5 176.5h0M455.5 180.5h0M455.5 184.5h0M455.5 188.5h0M447.5 181.5h0M448.5 184.5h0M453.5 194.5h0M456.5 197.5h0M453.5 195.5h0M457.5 207.5h0M457.5 211.5h0M460.5 257.5h0M462.5 260.5h0M463.5 264.5h0M463.5 269.5h0M464.5 266.5h0M481.5 337.5h0M482.5 351.5h0M481.5 363.5h0M505.5 339.5h0M505.5 350.5h0M505.5 360.5h0M505.5 365.5h0M509.5 406.5h0M561.5 361.5h0M560.5 369.5h0M561.5 375.5h0M556.5 377.5h0M558.5 390.5h0M557.5 397.5h0M561.5 400.5h0M560.5 407.5h0M559.5 438.5h0M562.5 443.5h0M558.5 448.5h0M562.5 457.5h0M563.5 428.5h0M565.5 431.5h0M615.5 271.5h0M611.5 311.5h0M612.5 315.5h0M608.5 323.5h0M608.5 325.5h0M608.5 331.5h0M596.5 359.5h0M687.5 307.5h0M686.5 312.5h0M683.5 319.5h0M684.5 323.5h0M682.5 327.5h0M690.5 329.5h0M690.5 334.5h0M812.5 323.5h0M813.5 317.5h0M720.5 354.5h0M836.5 382.5h0M907.5 346.5h0M878.5 385.5h0M878.5 415.5h0" fill="none" stroke="#000" stroke-width="5.556" stroke-linecap="round"/>
<path d="M120.74 263.26 L120.91 264.42 L121.09 265.54 L121.6 268.23 L121.78 268.74 L121.95 268.99 L122.12 268.97 L122.3 268.82 L122.82 267.82 L122.99 267.35 L123.16 266.83 L123.33 266.29 L123.51 265.73 L124.03 264.11 L124.2 263.64 L124.37 263.23 L124.55 262.9 L124.72 262.66 L125.24 262.67 L125.41 262.99 L125.58 263.46 L125.76 264.06 L125.93 264.78 L126.45 267.5 L126.62 268.54 L126.79 269.63 L126.97 270.73 L127.14 271.85 L127.66 275.1 L127.83 276.09 L128 277.03 L128.18 277.98 L128.35 279.02 L128.87 282.39 L129.04 283.51 L129.22 284.57 L129.39 285.56 L129.56 286.44 L130.08 288.18 L130.25 288.52 L130.43 288.82 L130.6 289.09 L130.77 289.33 L131.29 289.92 L131.46 290.09 L131.64 290.26 L131.81 290.42 L131.98 290.6 L132.5 291.2 L132.68 291.45 L132.85 291.73 L133.02 292.04 L133.19 292.39 L133.71 293.63 L133.89 294.11 L134.06 294.61 L134.23 295.15 L134.41 295.72 L134.92 297.6 L135.1 298.29 L135.27 299 L135.44 299.75 L135.62 300.56 L136.14 303.85 L136.31 305.11 L136.48 306.39 L136.65 307.66 L136.83 308.88 L137.35 312.13 L137.52 313.17 L137.69 314.21 L137.87 315.24 L138.04 316.26 L138.56 319.25 L138.73 320.23 L138.9 321.19 L139.08 322.14 L139.25 323.08 L139.77 325.82 L139.94 326.7 L140.11 327.57 L140.29 328.43 L140.46 329.27 L140.98 331.73 L141.15 332.52 L141.33 333.31 L141.5 334.09 L141.67 334.86 L142.19 337.15 L142.36 337.9 L142.54 338.65 L142.71 339.4 L142.88 340.14 L143.4 342.38 L143.57 343.13 L143.75 343.89 L143.92 344.65 L144.09 345.43 L144.61 348.2 L144.79 349.2 L144.96 350.2 L145.13 351.17 L145.3 352.08 L145.82 354.23 L146 354.68 L146.17 354.94 L146.34 355 L146.52 354.95 L147.03 354.43 L147.21 354.16 L147.38 353.85 L147.55 353.5 L147.73 353.13 L148.25 351.89 L148.42 351.45 L148.59 351.02 L148.76 350.6 L148.94 350.19 L149.46 349.08 L149.63 348.78 L149.8 348.52 L149.97 348.3 L150.15 348.14 L150.67 348.05 L150.84 348.2 L151.01 348.45 L151.19 348.78 L151.36 349.18 L151.88 350.74 L152.05 351.35 L152.22 351.99 L152.4 352.64 L152.57 353.31 L153.09 355.28 L153.26 355.89 L153.43 356.47 L153.61 357 L153.78 357.48 L154.3 358.6 L154.47 358.92 L154.65 359.23 L154.82 359.52 L154.99 359.81 L155.51 360.62 L155.68 360.88 L155.86 361.14 L156.03 361.41 L156.2 361.67 L156.72 362.51 L156.89 362.81 L157.07 363.12 L157.24 363.45 L157.41 363.79 L157.93 364.86 L158.11 365.22 L158.28 365.59 L158.45 365.96 L158.62 366.33 L159.14 367.41 L159.32 367.76 L159.49 368.09 L159.66 368.41 L159.84 368.72 L160.35 369.61 L160.53 369.92 L160.7 370.23 L160.87 370.55 L161.05 370.87 L161.57 371.82 L161.74 372.13 L161.91 372.42 L162.08 372.71 L162.26 372.98 L162.78 373.7 L162.95 373.9 L163.12 374.07 L163.3 374.22 L163.47 374.34 L163.99 374.5 L164.16 374.49 L164.33 374.45 L164.51 374.38 L164.68 374.28 L165.2 373.89 L165.37 373.72 L165.54 373.55 L165.72 373.36 L165.89 373.17 L166.41 372.56 L166.58 372.37 L166.76 372.17 L166.93 371.98 L167.1 371.8 L167.62 371.35 L167.79 371.23 L167.97 371.14 L168.14 371.06 L168.31 371.02 L168.83 371.14 L169 371.32 L169.18 371.56 L169.35 371.86 L169.52 372.21 L170.04 373.54 L170.22 374.06 L170.39 374.6 L170.56 375.16 L170.73 375.74 L171.25 377.53 L171.43 378.12 L171.6 378.71 L171.77 379.27 L171.94 379.82 L172.46 381.29 L172.64 381.7 L172.81 382.07 L172.98 382.38 L173.16 382.63 L173.67 383 L173.85 382.96 L174.02 382.82 L174.19 382.57 L174.37 382.24 L174.89 380.74 L175.06 380.1 L175.23 379.4 L175.4 378.65 L175.58 377.85 L176.1 375.24 L176.27 374.32 L176.44 373.38 L176.62 372.44 L176.79 371.49 L177.31 368.71 L177.48 367.83 L177.65 366.98 L177.83 366.16 L178 365.39 L178.52 363.4 L178.69 362.87 L178.86 362.42 L179.04 362.05 L179.21 361.77 L179.73 361.55 L179.9 361.75 L180.08 362.11 L180.25 362.61 L180.42 363.24 L180.94 365.77 L181.11 366.8 L181.29 367.89 L181.46 369.05 L181.63 370.25 L182.15 374.01 L182.32 375.28 L182.5 376.54 L182.67 377.77 L182.84 378.97 L183.36 382.24 L183.54 383.18 L183.71 384.03 L183.88 384.77 L184.05 385.4 L184.57 386.45 L184.75 386.49 L184.92 386.34 L185.09 386 L185.27 385.48 L185.78 383.09 L185.96 382.06 L186.13 380.95 L186.3 379.76 L186.48 378.52 L187 374.66 L187.17 373.38 L187.34 372.13 L187.51 370.93 L187.69 369.79 L188.21 366.93 L188.38 366.21 L188.55 365.65 L188.73 365.25 L188.9 365.04 L189.42 365.15 L189.59 365.29 L189.76 365.48 L189.94 365.69 L190.11 365.94 L190.63 366.81 L190.8 367.13 L190.97 367.45 L191.15 367.78 L191.32 368.1 L191.84 368.98 L192.01 369.24 L192.19 369.46 L192.36 369.66 L192.53 369.81 L193.05 370 L193.22 369.94 L193.4 369.8 L193.57 369.6 L193.74 369.35 L194.26 368.28 L194.43 367.84 L194.61 367.38 L194.78 366.89 L194.95 366.39 L195.47 364.84 L195.64 364.33 L195.82 363.83 L195.99 363.36 L196.16 362.91 L196.68 361.78 L196.86 361.5 L197.03 361.28 L197.2 361.11 L197.37 361.02 L197.89 361.1 L198.07 361.21 L198.24 361.36 L198.41 361.54 L198.59 361.75 L199.1 362.59 L199.28 362.93 L199.45 363.3 L199.62 363.69 L199.8 364.11 L200.32 365.51 L200.49 366.03 L200.66 366.56 L200.83 367.1 L201.01 367.67 L201.53 369.46 L201.7 370.08 L201.87 370.71 L202.05 371.36 L202.22 372.01 L202.74 374 L202.91 374.67 L203.08 375.35 L203.26 376.03 L203.43 376.7 L203.95 378.72 L204.12 379.38 L204.29 380.04 L204.47 380.69 L204.64 381.34 L205.16 383.2 L205.33 383.79 L205.51 384.37 L205.68 384.94 L205.85 385.49 L206.37 387.01 L206.54 387.48 L206.72 387.92 L206.89 388.34 L207.06 388.73 L207.58 389.74 L207.75 390.02 L207.93 390.27 L208.1 390.48 L208.27 390.66 L208.79 390.97 L208.97 391 L209.14 390.97 L209.31 390.86 L209.48 390.66 L210 389.64 L210.18 389.18 L210.35 388.67 L210.52 388.12 L210.7 387.53 L211.21 385.61 L211.39 384.94 L211.56 384.27 L211.73 383.59 L211.91 382.93 L212.43 381.06 L212.6 380.49 L212.77 379.97 L212.94 379.49 L213.12 379.07 L213.64 378.2 L213.81 378.06 L213.98 378 L214.16 378 L214.33 378.02 L214.85 378.1 L215.02 378.15 L215.19 378.2 L215.37 378.26 L215.54 378.32 L216.06 378.55 L216.23 378.64 L216.4 378.73 L216.58 378.82 L216.75 378.92 L217.27 379.24 L217.44 379.35 L217.61 379.46 L217.79 379.57 L217.96 379.69 L218.48 380.04 L218.65 380.15 L218.83 380.27 L219 380.38 L219.17 380.49 L219.69 380.82 L219.86 380.92 L220.04 381.02 L220.21 381.13 L220.38 381.24 L220.9 381.62 L221.07 381.75 L221.25 381.89 L221.42 382.04 L221.59 382.19 L222.11 382.65 L222.29 382.8 L222.46 382.95 L222.63 383.11 L222.8 383.26 L223.32 383.7 L223.5 383.84 L223.67 383.97 L223.84 384.1 L224.02 384.23 L224.53 384.56 L224.71 384.65 L224.88 384.73 L225.05 384.8 L225.23 384.87 L225.75 384.98 L225.92 385 L226.09 384.99 L226.26 384.93 L226.44 384.82 L226.96 384.21 L227.13 383.93 L227.3 383.61 L227.48 383.25 L227.65 382.87 L228.17 381.6 L228.34 381.14 L228.51 380.68 L228.69 380.2 L228.86 379.72 L229.38 378.31 L229.55 377.85 L229.72 377.41 L229.9 376.99 L230.07 376.58 L230.59 375.54 L230.76 375.26 L230.94 375.02 L231.11 374.82 L231.28 374.66 L231.8 374.51 L231.97 374.56 L232.15 374.65 L232.32 374.77 L232.49 374.94 L233.01 375.61 L233.18 375.88 L233.36 376.17 L233.53 376.48 L233.7 376.79 L234.22 377.79 L234.4 378.13 L234.57 378.46 L234.74 378.79 L234.91 379.1 L235.43 379.96 L235.61 380.2 L235.78 380.42 L235.95 380.61 L236.13 380.76 L236.64 381 L236.82 380.99 L236.99 380.91 L237.16 380.78 L237.34 380.59 L237.86 379.75 L238.03 379.39 L238.2 378.99 L238.37 378.56 L238.55 378.11 L239.07 376.64 L239.24 376.13 L239.41 375.61 L239.58 375.1 L239.76 374.58 L240.28 373.09 L240.45 372.63 L240.62 372.19 L240.8 371.78 L240.97 371.41 L241.49 370.51 L241.66 370.3 L241.83 370.14 L242.01 370.04 L242.18 370 L242.7 370.77 L242.87 371.36 L243.04 372.1 L243.22 372.97 L243.39 373.97 L243.91 377.58 L244.08 378.95 L244.26 380.38 L244.43 381.86 L244.6 383.38 L245.12 388.03 L245.29 389.58 L245.47 391.1 L245.64 392.58 L245.81 394.01 L246.33 397.89 L246.5 399 L246.68 400 L246.85 400.88 L247.02 401.63 L247.54 402.92 L247.72 403 L247.89 402.91 L248.06 402.69 L248.23 402.35 L248.75 400.74 L248.93 400.06 L249.1 399.32 L249.27 398.54 L249.45 397.73 L249.96 395.29 L250.14 394.52 L250.31 393.79 L250.48 393.12 L250.66 392.51 L251.18 391.25 L251.35 391.06 L251.52 391 L251.69 391.19 L251.87 391.66 L252.39 394.35 L252.56 395.56 L252.73 396.87 L252.91 398.24 L253.08 399.63 L253.6 403.62 L253.77 404.77 L253.94 405.76 L254.12 406.56 L254.29 407.15 L254.81 407.69 L254.98 407.78 L255.15 407.86 L255.33 407.93 L255.5 407.99 L256.02 408.15 L256.19 408.19 L256.37 408.22 L256.54 408.26 L256.71 408.29 L257.23 408.39 L257.4 408.43 L257.58 408.46 L257.75 408.51 L257.92 408.55 L258.44 408.73 L258.61 408.8 L258.79 408.88 L258.96 408.98 L259.13 409.09 L259.65 409.58 L259.83 409.8 L260 410.04 L260.17 410.3 L260.34 410.58 L260.86 411.53 L261.04 411.88 L261.21 412.24 L261.38 412.61 L261.55 412.99 L262.07 414.18 L262.25 414.62 L262.42 415.12 L262.59 415.67 L262.77 416.26 L263.28 418.23 L263.46 418.95 L263.63 419.69 L263.8 420.45 L263.98 421.22 L264.5 423.59 L264.67 424.38 L264.84 425.16 L265.01 425.94 L265.19 426.71 L265.71 428.88 L265.88 429.55 L266.05 430.19 L266.23 430.85 L266.4 431.52 L266.92 433.67 L267.09 434.41 L267.26 435.17 L267.44 435.93 L267.61 436.7 L268.13 439.01 L268.3 439.77 L268.47 440.53 L268.65 441.27 L268.82 442 L269.34 444.09 L269.51 444.75 L269.69 445.37 L269.86 445.97 L270.03 446.54 L270.55 448.03 L270.72 448.45 L270.9 448.83 L271.07 449.15 L271.24 449.43 L271.76 449.94 L271.93 450 L272.11 449.99 L272.28 449.92 L272.45 449.79 L272.97 449.11 L273.15 448.8 L273.32 448.45 L273.49 448.08 L273.66 447.67 L274.18 446.35 L274.36 445.89 L274.53 445.42 L274.7 444.95 L274.88 444.49 L275.39 443.19 L275.57 442.79 L275.74 442.43 L275.91 442.09 L276.09 441.79 L276.61 441.16 L276.78 441.05 L276.95 441 L277.12 441.01 L277.3 441.07 L277.82 441.48 L277.99 441.7 L278.16 441.94 L278.34 442.21 L278.51 442.51 L279.03 443.55 L279.2 443.93 L279.37 444.32 L279.55 444.73 L279.72 445.14 L280.24 446.39 L280.41 446.81 L280.58 447.22 L280.76 447.62 L280.93 448.01 L281.45 449.08 L281.62 449.4 L281.8 449.69 L281.97 449.95 L282.14 450.2 L282.66 450.96 L282.83 451.21 L283.01 451.48 L283.18 451.74 L283.35 452 L283.87 452.79 L284.04 453.06 L284.22 453.32 L284.39 453.59 L284.56 453.85 L285.08 454.62 L285.25 454.87 L285.43 455.12 L285.6 455.36 L285.77 455.6 L286.29 456.29 L286.47 456.51 L286.64 456.72 L286.81 456.93 L286.98 457.13 L287.5 457.67 L287.68 457.84 L287.85 457.99 L288.02 458.14 L288.2 458.28 L288.71 458.62 L288.89 458.71 L289.06 458.79 L289.23 458.86 L289.41 458.92 L289.93 459 L290.1 458.99 L290.27 458.95 L290.44 458.87 L290.62 458.75 L291.14 458.21 L291.31 457.98 L291.48 457.73 L291.66 457.46 L291.83 457.18 L292.35 456.27 L292.52 455.96 L292.69 455.65 L292.87 455.34 L293.04 455.04 L293.56 454.21 L293.73 453.96 L293.9 453.74 L294.08 453.54 L294.25 453.36 L294.77 453.04 L294.94 453 L295.12 453.01 L295.29 453.08 L295.46 453.2 L295.98 453.86 L296.15 454.16 L296.33 454.5 L296.5 454.87 L296.67 455.28 L297.19 456.63 L297.36 457.12 L297.54 457.62 L297.71 458.13 L297.88 458.65 L298.4 460.2 L298.58 460.7 L298.75 461.2 L298.92 461.68 L299.09 462.14 L299.61 463.37 L299.79 463.73 L299.96 464.04 L300.13 464.32 L300.31 464.55 L300.82 464.97 L301 465 L301.17 464.95 L301.34 464.81 L301.52 464.58 L302.04 463.45 L302.21 462.94 L302.38 462.39 L302.55 461.78 L302.73 461.14 L303.25 459.06 L303.42 458.34 L303.59 457.61 L303.77 456.89 L303.94 456.18 L304.46 454.18 L304.63 453.58 L304.8 453.02 L304.98 452.52 L305.15 452.08 L305.67 451.18 L305.84 451.04 L306.01 451 L306.19 451.14 L306.36 451.51 L306.88 453.79 L307.05 454.87 L307.22 456.09 L307.4 457.43 L307.57 458.85 L308.09 463.51 L308.26 465.12 L308.44 466.73 L308.61 468.32 L308.78 469.87 L309.3 474.09 L309.47 475.3 L309.65 476.36 L309.82 477.27 L309.99 478.01 L310.51 479 L310.68 478.87 L310.86 478.53 L311.03 477.99 L311.2 477.28 L311.72 474.33 L311.9 473.15 L312.07 471.9 L312.24 470.6 L312.41 469.27 L312.93 465.36 L313.11 464.14 L313.28 463 L313.45 461.97 L313.63 461.05 L314.14 459.25 L314.32 459.03 L314.49 459.01 L314.66 459.1 L314.84 459.28 L315.36 460.23 L315.53 460.66 L315.7 461.14 L315.87 461.67 L316.05 462.22 L316.57 464.02 L316.74 464.64 L316.91 465.26 L317.09 465.87 L317.26 466.46 L317.78 468.08 L317.95 468.54 L318.12 468.95 L318.3 469.31 L318.47 469.59 L318.99 470 L319.16 469.97 L319.33 469.89 L319.51 469.76 L319.68 469.58 L320.2 468.78 L320.37 468.45 L320.55 468.09 L320.72 467.71 L320.89 467.3 L321.41 466.03 L321.58 465.59 L321.76 465.16 L321.93 464.73 L322.1 464.31 L322.62 463.16 L322.79 462.83 L322.97 462.53 L323.14 462.26 L323.31 462.03 L323.83 461.63 L324.01 461.6 L324.18 461.61 L324.35 461.66 L324.52 461.72 L325.04 462.06 L325.22 462.22 L325.39 462.39 L325.56 462.58 L325.74 462.79 L326.25 463.49 L326.43 463.75 L326.6 464.01 L326.77 464.28 L326.95 464.56 L327.47 465.42 L327.64 465.71 L327.81 466 L327.98 466.29 L328.16 466.57 L328.68 467.38 L328.85 467.64 L329.02 467.88 L329.19 468.11 L329.37 468.33 L329.89 468.9 L330.06 469.05 L330.23 469.2 L330.41 469.36 L330.58 469.51 L331.1 469.99 L331.27 470.15 L331.44 470.3 L331.62 470.46 L331.79 470.62 L332.31 471.08 L332.48 471.23 L332.65 471.37 L332.83 471.51 L333 471.65 L333.52 472.04 L333.69 472.15 L333.87 472.27 L334.04 472.37 L334.21 472.47 L334.73 472.72 L334.9 472.79 L335.08 472.85 L335.25 472.9 L335.42 472.94 L335.94 473 L336.11 472.95 L336.29 472.68 L336.46 472.2 L336.63 471.52 L337.15 468.54 L337.33 467.29 L337.5 465.95 L337.67 464.54 L337.84 463.06 L338.36 458.51 L338.54 457.01 L338.71 455.56 L338.88 454.17 L339.06 452.86 L339.57 449.61 L339.75 448.82 L339.92 448.21 L340.09 447.78 L340.27 447.38 L340.79 446.32 L340.96 446 L341.13 445.7 L341.3 445.41 L341.48 445.14 L342 444.4 L342.17 444.17 L342.34 443.95 L342.52 443.73 L342.69 443.52 L343.21 442.92 L343.38 442.72 L343.55 442.52 L343.73 442.32 L343.9 442.12 L344.42 441.53 L344.59 441.35 L344.76 441.18 L344.94 441.02 L345.11 440.86 L345.63 440.41 L345.8 440.26 L345.98 440.12 L346.15 439.97 L346.32 439.82 L346.84 439.34 L347.01 439.17 L347.19 438.99 L347.36 438.8 L347.53 438.6 L348.05 437.93 L348.22 437.68 L348.4 437.41 L348.57 437.12 L348.74 436.83 L349.26 435.85 L349.44 435.5 L349.61 435.13 L349.78 434.76 L349.95 434.37 L350.47 433.14 L350.65 432.71 L350.82 432.27 L350.99 431.82 L351.16 431.37 L351.68 429.95 L351.86 429.46 L352.03 428.96 L352.2 428.46 L352.38 427.96 L352.89 426.41 L353.07 425.88 L353.24 425.35 L353.41 424.82 L353.59 424.29 L354.11 422.66 L354.28 422.05 L354.45 421.38 L354.62 420.66 L354.8 419.9 L355.32 417.44 L355.49 416.58 L355.66 415.71 L355.84 414.85 L356.01 413.99 L356.53 411.54 L356.7 410.79 L356.87 410.08 L357.05 409.42 L357.22 408.81 L357.74 407.42 L357.91 407.12 L358.08 406.9 L358.26 406.71 L358.43 406.53 L358.95 406.07 L359.12 405.94 L359.3 405.83 L359.47 405.71 L359.64 405.61 L360.16 405.35 L360.33 405.27 L360.51 405.19 L360.68 405.12 L360.85 405.05 L361.37 404.84 L361.54 404.76 L361.72 404.69 L361.89 404.61 L362.06 404.53 L362.58 404.24 L362.76 404.13 L362.93 404 L363.1 403.87 L363.27 403.73 L363.79 403.23 L363.97 403.04 L364.14 402.79 L364.31 402.43 L364.49 401.95 L365 399.93 L365.18 399.1 L365.35 398.2 L365.52 397.25 L365.7 396.24 L366.22 393.06 L366.39 391.96 L366.56 390.87 L366.73 389.79 L366.91 388.73 L367.43 385.76 L367.6 384.88 L367.77 384.06 L367.95 383.32 L368.12 382.66 L368.64 381.3 L368.81 381.08 L368.98 381 L369.16 381.07 L369.33 381.29 L369.85 382.76 L370.02 383.49 L370.19 384.31 L370.37 385.22 L370.54 386.2 L371.06 389.49 L371.23 390.66 L371.41 391.85 L371.58 393.04 L371.75 394.23 L372.27 397.65 L372.44 398.7 L372.62 399.69 L372.79 400.61 L372.96 401.44 L373.48 403.31 L373.65 403.68 L373.83 403.92 L374 404 L374.17 403.91 L374.69 402.7 L374.86 402.01 L375.04 401.22 L375.21 400.31 L375.38 399.31 L375.9 395.89 L376.08 394.65 L376.25 393.38 L376.42 392.09 L376.59 390.79 L377.11 386.99 L377.29 385.79 L377.46 384.66 L377.63 383.59 L377.81 382.6 L378.32 380.24 L378.5 379.71 L378.67 379.31 L378.84 379.07 L379.02 379 L379.54 379.25 L379.71 379.42 L379.88 379.63 L380.05 379.85 L380.23 380.1 L380.75 380.87 L380.92 381.11 L381.09 381.34 L381.27 381.55 L381.44 381.72 L381.96 382 L382.13 381.97 L382.3 381.82 L382.48 381.57 L382.65 381.23 L383.17 379.68 L383.34 379.03 L383.51 378.32 L383.69 377.56 L383.86 376.76 L384.38 374.21 L384.55 373.34 L384.73 372.47 L384.9 371.6 L385.07 370.76 L385.59 368.41 L385.76 367.72 L385.94 367.09 L386.11 366.53 L386.28 366.04 L386.8 365.11 L386.97 365.01 L387.15 364.98 L387.32 364.95 L387.49 364.92 L388.01 364.86 L388.19 364.84 L388.36 364.82 L388.53 364.8 L388.7 364.79 L389.22 364.74 L389.4 364.73 L389.57 364.72 L389.74 364.71 L389.92 364.7 L390.43 364.67 L390.61 364.66 L390.78 364.65 L390.95 364.64 L391.13 364.63 L391.65 364.6 L391.82 364.59 L391.99 364.58 L392.16 364.57 L392.34 364.55 L392.86 364.51 L393.03 364.5 L393.2 364.48 L393.38 364.47 L393.55 364.45 L394.07 364.42 L394.24 364.41 L394.41 364.39 L394.59 364.38 L394.76 364.37 L395.28 364.34 L395.45 364.32 L395.62 364.31 L395.8 364.3 L395.97 364.28 L396.49 364.23 L396.66 364.21 L396.83 364.19 L397.01 364.17 L397.18 364.14 L397.7 364.06 L397.87 364.03 L398.05 363.98 L398.22 363.81 L398.39 363.46 L398.91 361.5 L399.08 360.59 L399.26 359.58 L399.43 358.47 L399.6 357.28 L400.12 353.38 L400.29 352.01 L400.47 350.63 L400.64 349.25 L400.81 347.89 L401.33 344.02 L401.51 342.84 L401.68 341.76 L401.85 340.76 L402.02 339.88 L402.54 337.4 L402.72 336.59 L402.89 335.79 L403.06 335 L403.24 334.22 L403.75 331.93 L403.93 331.19 L404.1 330.45 L404.27 329.72 L404.45 329 L404.97 326.89 L405.14 326.2 L405.31 325.52 L405.48 324.85 L405.66 324.19 L406.18 322.25 L406.35 321.62 L406.52 321 L406.7 320.39 L406.87 319.78 L407.39 318.01 L407.56 317.43 L407.73 316.86 L407.91 316.3 L408.08 315.75 L408.6 314.2 L408.77 313.71 L408.94 313.24 L409.12 312.78 L409.29 312.34 L409.81 311.06 L409.98 310.65 L410.16 310.24 L410.33 309.84 L410.5 309.44 L411.02 308.25 L411.19 307.85 L411.37 307.45 L411.54 307.04 L411.71 306.63 L412.23 305.34 L412.4 304.89 L412.58 304.43 L412.75 303.95 L412.92 303.46 L413.44 301.89 L413.62 301.33 L413.79 300.74 L413.96 300.14 L414.13 299.5 L414.65 297.31 L414.83 296.5 L415 295.66 L415.17 294.79 L415.35 293.9 L415.86 291.12 L416.04 290.18 L416.21 289.23 L416.38 288.29 L416.56 287.35 L417.08 284.61 L417.25 283.7 L417.42 282.77 L417.59 281.82 L417.77 280.87 L418.29 277.97 L418.46 277 L418.63 276.04 L418.8 275.08 L418.98 274.14 L419.5 271.42 L419.67 270.56 L419.84 269.73 L420.02 268.93 L420.19 268.13 L420.71 265.75 L420.88 264.96 L421.05 264.19 L421.23 263.44 L421.4 262.72 L421.92 260.74 L422.09 260.16 L422.26 259.63 L422.44 259.16 L422.61 258.74 L423.13 257.69 L423.3 257.4 L423.48 257.14 L423.65 256.88 L423.82 256.65 L424.34 255.97 L424.51 255.74 L424.69 255.5 L424.86 255.26 L425.03 254.99 L425.55 254.05 L425.72 253.68 L425.9 253.26 L426.07 252.8 L426.24 252.25 L426.76 250.08 L426.94 249.21 L427.11 248.29 L427.28 247.33 L427.45 246.32 L427.97 243.18 L428.15 242.12 L428.32 241.07 L428.49 240.04 L428.67 238.96 L429.18 235.01 L429.36 233.52 L429.53 231.97 L429.7 230.4 L429.88 228.81 L430.4 224.17 L430.57 222.73 L430.74 221.38 L430.91 220.13 L431.09 219.01 L431.61 216.61 L431.78 216.2 L431.95 216.01 L432.13 216.05 L432.3 216.3 L432.82 218.06 L432.99 218.92 L433.16 219.89 L433.34 220.94 L433.51 222.07 L434.03 225.7 L434.2 226.93 L434.37 228.14 L434.55 229.3 L434.72 230.41 L435.24 233.2 L435.41 233.89 L435.59 234.43 L435.76 234.8 L435.93 234.98 L436.45 234.47 L436.62 234 L436.8 233.41 L436.97 232.69 L437.14 231.87 L437.66 228.86 L437.83 227.71 L438.01 226.49 L438.18 225.24 L438.35 223.94 L438.87 219.94 L439.05 218.6 L439.22 217.28 L439.39 215.98 L439.56 214.71 L440.08 211.23 L440.26 210.21 L440.43 209.27 L440.6 208.43 L440.77 207.7 L441.29 206.25 L441.47 206.05 L441.64 206 L441.81 206.05 L441.99 206.14 L442.5 206.7 L442.68 206.95 L442.85 207.23 L443.02 207.52 L443.2 207.82 L443.72 208.72 L443.89 209 L444.06 209.25 L444.23 209.48 L444.41 209.68 L444.93 209.99 L445.1 209.97 L445.27 209.79 L445.45 209.46 L445.62 208.99 L446.14 206.96 L446.31 206.12 L446.48 205.24 L446.66 204.32 L446.83 203.39 L447.35 200.68 L447.52 199.86 L447.69 199.11 L447.87 198.44 L448.04 197.87 L448.56 196.22 L448.73 195.67 L448.91 195.12 L449.08 194.57 L449.25 194.04 L449.77 192.58 L449.94 192.15 L450.12 191.76 L450.29 191.41 L450.46 191.11 L450.98 190.51 L451.15 190.41 L451.33 190.31 L451.5 190.22 L451.67 190.13 L452.19 189.9 L452.37 189.83 L452.54 189.77 L452.71 189.71 L452.88 189.66 L453.4 189.55 L453.58 189.52 L453.75 189.51 L453.92 189.5 L454.1 189.5 L454.61 189.54 L454.79 189.57 L454.96 189.61 L455.13 189.65 L455.31 189.7 L455.83 189.88 L456 189.96 L456.17 190.04 L456.34 190.12 L456.52 190.21 L457.04 190.53 L457.21 190.84 L457.38 191.4 L457.56 192.18 L457.73 193.17 L458.25 197.07 L458.42 198.58 L458.59 200.16 L458.77 201.78 L458.94 203.41 L459.46 208.08 L459.63 209.48 L459.8 210.75 L459.98 211.87 L460.15 212.9 L460.67 216.25 L460.84 217.36 L461.02 218.41 L461.19 219.38 L461.36 220.24 L461.88 221.88 L462.05 222.03 L462.23 222.11 L462.4 222.18 L462.57 222.24 L463.09 222.38 L463.26 222.42 L463.44 222.45 L463.61 222.47 L463.78 222.5 L464.3 222.56 L464.47 222.58 L464.65 222.61 L464.82 222.64 L464.99 222.67 L465.51 222.81 L465.69 222.87 L465.86 222.94 L466.03 223.02 L466.2 223.16 L466.72 224.04 L466.9 224.46 L467.07 224.93 L467.24 225.46 L467.42 226.02 L467.93 227.9 L468.11 228.57 L468.28 229.24 L468.45 229.92 L468.63 230.59 L469.15 232.55 L469.32 233.25 L469.49 233.99 L469.66 234.77 L469.84 235.58 L470.36 238.13 L470.53 239.01 L470.7 239.89 L470.88 240.77 L471.05 241.63 L471.57 244.13 L471.74 244.91 L471.91 245.65 L472.09 246.35 L472.26 247.03 L472.78 249.02 L472.95 249.66 L473.12 250.29 L473.3 250.91 L473.47 251.52 L473.99 253.33 L474.16 253.92 L474.34 254.5 L474.51 255.08 L474.68 255.66 L475.2 257.37 L475.37 257.94 L475.55 258.51 L475.72 259.08 L475.89 259.65 L476.41 261.41 L476.58 262.03 L476.76 262.65 L476.93 263.29 L477.1 263.92 L477.62 265.84 L477.8 266.46 L477.97 267.08 L478.14 267.68 L478.31 268.26 L478.83 269.89 L479.01 270.38 L479.18 270.84 L479.35 271.26 L479.53 271.65 L480.04 272.56 L480.22 272.79 L480.39 273.01 L480.56 273.2 L480.74 273.38 L481.26 273.84 L481.43 273.97 L481.6 274.09 L481.77 274.21 L481.95 274.32 L482.47 274.64 L482.64 274.74 L482.81 274.85 L482.99 274.96 L483.16 275.07 L483.68 275.46 L483.85 275.61 L484.02 275.77 L484.2 275.95 L484.37 276.14 L484.89 276.83 L485.06 277.1 L485.23 277.47 L485.41 277.95 L485.58 278.52 L486.1 280.67 L486.27 281.5 L486.44 282.37 L486.62 283.26 L486.79 284.17 L487.31 286.87 L487.48 287.73 L487.66 288.54 L487.83 289.31 L488 290.01 L488.52 292.17 L488.69 292.93 L488.87 293.67 L489.04 294.38 L489.21 295.04 L489.73 296.58 L489.9 296.89 L490.08 297.07 L490.25 297.23 L490.42 297.37 L490.94 297.69 L491.12 297.78 L491.29 297.86 L491.46 297.92 L491.63 297.98 L492.15 298.14 L492.33 298.18 L492.5 298.22 L492.67 298.27 L492.85 298.31 L493.36 298.47 L493.54 298.53 L493.71 298.6 L493.88 298.68 L494.06 298.77 L494.58 299.12 L494.75 299.26 L494.92 299.42 L495.09 299.65 L495.27 300.16 L495.79 303.29 L495.96 304.77 L496.13 306.4 L496.31 308.17 L496.48 310.05 L497 315.95 L497.17 317.91 L497.34 319.82 L497.52 321.64 L497.69 323.34 L498.21 327.65 L498.38 329.1 L498.55 330.6 L498.73 332.13 L498.9 333.67 L499.42 338.19 L499.59 339.59 L499.77 340.9 L499.94 342.1 L500.11 343.18 L500.63 345.47 L500.8 345.84 L500.98 346 L501.15 345.98 L501.32 345.91 L501.84 345.43 L502.01 345.2 L502.19 344.94 L502.36 344.66 L502.53 344.36 L503.05 343.4 L503.23 343.08 L503.4 342.76 L503.57 342.46 L503.74 342.17 L504.26 341.45 L504.44 341.27 L504.61 341.13 L504.78 341.04 L504.96 341 L505.47 342.05 L505.65 342.89 L505.82 343.94 L505.99 345.17 L506.17 346.55 L506.69 351.34 L506.86 353.06 L507.03 354.81 L507.2 356.56 L507.38 358.27 L507.9 362.96 L508.07 364.29 L508.24 365.46 L508.41 366.44 L508.59 367.2 L509.11 368 L509.28 367.97 L509.45 367.93 L509.63 367.87 L509.8 367.79 L510.32 367.49 L510.49 367.37 L510.66 367.25 L510.84 367.12 L511.01 366.99 L511.53 366.61 L511.7 366.5 L511.87 366.39 L512.05 366.29 L512.22 366.2 L512.74 366.02 L512.91 366 L513.09 366.01 L513.26 366.06 L513.43 366.15 L513.95 366.72 L514.12 366.99 L514.3 367.3 L514.47 367.64 L514.64 368.02 L515.16 369.35 L515.33 369.84 L515.51 370.36 L515.68 370.91 L515.85 371.47 L516.37 373.27 L516.55 373.89 L516.72 374.53 L516.89 375.18 L517.06 375.83 L517.58 377.81 L517.76 378.46 L517.93 379.12 L518.1 379.77 L518.28 380.41 L518.79 382.28 L518.97 382.87 L519.14 383.45 L519.31 384.01 L519.49 384.55 L520.01 386.01 L520.18 386.48 L520.35 386.96 L520.52 387.46 L520.7 387.98 L521.22 389.59 L521.39 390.15 L521.56 390.7 L521.74 391.25 L521.91 391.8 L522.43 393.41 L522.6 393.92 L522.77 394.41 L522.95 394.88 L523.12 395.33 L523.64 396.52 L523.81 396.85 L523.98 397.14 L524.16 397.4 L524.33 397.61 L524.85 397.98 L525.02 398 L525.2 397.94 L525.37 397.78 L525.54 397.54 L526.06 396.38 L526.23 395.87 L526.41 395.3 L526.58 394.69 L526.75 394.05 L527.27 391.96 L527.44 391.23 L527.62 390.51 L527.79 389.79 L527.96 389.08 L528.48 387.09 L528.66 386.49 L528.83 385.95 L529 385.45 L529.17 385.02 L529.69 384.15 L529.87 384.03 L530.04 384 L530.21 384.02 L530.38 384.08 L530.9 384.4 L531.08 384.55 L531.25 384.72 L531.42 384.92 L531.6 385.13 L532.11 385.86 L532.29 386.12 L532.46 386.39 L532.63 386.67 L532.81 386.96 L533.33 387.83 L533.5 388.12 L533.67 388.4 L533.84 388.68 L534.02 388.95 L534.54 389.71 L534.71 389.94 L534.88 390.15 L535.06 390.34 L535.23 390.51 L535.75 390.9 L535.92 390.97 L536.09 391.03 L536.27 391.08 L536.44 391.13 L536.96 391.27 L537.13 391.31 L537.3 391.35 L537.48 391.4 L537.65 391.44 L538.17 391.56 L538.34 391.59 L538.52 391.63 L538.69 391.66 L538.86 391.69 L539.38 391.78 L539.55 391.81 L539.73 391.83 L539.9 391.86 L540.07 391.88 L540.59 391.93 L540.76 391.95 L540.94 391.96 L541.11 391.97 L541.28 391.98 L541.8 392 L541.98 392 L542.15 391.98 L542.32 391.92 L542.49 391.81 L543.01 391.24 L543.19 390.98 L543.36 390.69 L543.53 390.38 L543.71 390.04 L544.22 388.9 L544.4 388.49 L544.57 388.07 L544.74 387.64 L544.92 387.21 L545.44 385.92 L545.61 385.5 L545.78 385.09 L545.95 384.69 L546.13 384.31 L546.65 383.3 L546.82 383.01 L546.99 382.75 L547.17 382.53 L547.34 382.34 L547.86 382.02 L548.03 382 L548.2 382.02 L548.38 382.08 L548.55 382.17 L549.07 382.59 L549.24 382.77 L549.41 382.98 L549.59 383.21 L549.76 383.45 L550.28 384.26 L550.45 384.55 L550.63 384.85 L550.8 385.15 L550.97 385.45 L551.49 386.35 L551.66 386.64 L551.84 386.93 L552.01 387.2 L552.18 387.46 L552.7 388.16 L552.87 388.35 L553.05 388.53 L553.22 388.68 L553.39 388.8 L553.91 389 L554.08 388.99 L554.26 388.92 L554.43 388.79 L554.6 388.6 L555.12 387.71 L555.3 387.33 L555.47 386.92 L555.64 386.47 L555.81 386 L556.33 384.5 L556.51 383.98 L556.68 383.46 L556.85 382.95 L557.03 382.45 L557.54 381.05 L557.72 380.64 L557.89 380.26 L558.06 379.92 L558.24 379.63 L558.76 379.07 L558.93 379.01 L559.1 379.04 L559.27 379.27 L559.45 379.7 L559.97 382.03 L560.14 383.1 L560.31 384.29 L560.49 385.58 L560.66 386.97 L561.18 391.52 L561.35 393.11 L561.52 394.72 L561.7 396.32 L561.87 397.91 L562.39 402.42 L562.56 403.78 L562.73 405.05 L562.91 406.21 L563.08 407.24 L563.6 409.44 L563.77 409.81 L563.95 409.99 L564.12 409.94 L564.29 409.67 L564.81 407.66 L564.98 406.66 L565.16 405.55 L565.33 404.33 L565.5 403.02 L566.02 398.82 L566.19 397.4 L566.37 396 L566.54 394.65 L566.71 393.36 L567.23 390.12 L567.41 389.31 L567.58 388.68 L567.75 388.24 L567.92 388.02 L568.44 388.31 L568.62 388.58 L568.79 388.91 L568.96 389.31 L569.14 389.76 L569.65 391.34 L569.83 391.92 L570 392.5 L570.17 393.08 L570.35 393.66 L570.87 395.24 L571.04 395.69 L571.21 396.09 L571.38 396.43 L571.56 396.69 L572.08 396.99 L572.25 396.92 L572.42 396.78 L572.6 396.57 L572.77 396.3 L573.29 395.19 L573.46 394.73 L573.63 394.25 L573.81 393.73 L573.98 393.19 L574.5 391.51 L574.67 390.94 L574.84 390.37 L575.02 389.82 L575.19 389.28 L575.71 387.82 L575.88 387.4 L576.05 387.03 L576.23 386.71 L576.4 386.44 L576.92 386.01 L577.09 386 L577.27 386.03 L577.44 386.08 L577.61 386.16 L578.13 386.53 L578.3 386.69 L578.48 386.87 L578.65 387.07 L578.82 387.28 L579.34 388 L579.51 388.27 L579.69 388.54 L579.86 388.82 L580.03 389.11 L580.55 390.01 L580.73 390.32 L580.9 390.62 L581.07 390.93 L581.24 391.24 L581.76 392.14 L581.94 392.43 L582.11 392.71 L582.28 392.98 L582.46 393.25 L582.97 393.97 L583.15 394.19 L583.32 394.42 L583.49 394.67 L583.67 394.92 L584.19 395.72 L584.36 396 L584.53 396.27 L584.7 396.55 L584.88 396.83 L585.4 397.63 L585.57 397.89 L585.74 398.14 L585.92 398.38 L586.09 398.61 L586.61 399.22 L586.78 399.39 L586.95 399.54 L587.13 399.67 L587.3 399.79 L587.82 399.98 L587.99 400 L588.16 399.95 L588.34 399.8 L588.51 399.56 L589.03 398.29 L589.2 397.72 L589.38 397.07 L589.55 396.36 L589.72 395.59 L590.24 393 L590.41 392.06 L590.59 391.09 L590.76 390.09 L590.93 389.07 L591.45 385.97 L591.62 384.93 L591.8 383.91 L591.97 382.89 L592.14 381.9 L592.66 379.1 L592.84 378.25 L593.01 377.44 L593.18 376.68 L593.35 375.99 L593.87 374.31 L594.05 373.9 L594.22 373.52 L594.39 373.16 L594.57 372.81 L595.08 371.82 L595.26 371.51 L595.43 371.21 L595.6 370.92 L595.78 370.64 L596.3 369.84 L596.47 369.59 L596.64 369.34 L596.81 369.1 L596.99 368.86 L597.51 368.18 L597.68 367.95 L597.85 367.73 L598.02 367.52 L598.2 367.3 L598.72 366.65 L598.89 366.44 L599.06 366.22 L599.24 366 L599.41 365.78 L599.93 365.1 L600.1 364.86 L600.27 364.64 L600.45 364.42 L600.62 364.21 L601.14 363.61 L601.31 363.42 L601.48 363.23 L601.66 363.04 L601.83 362.84 L602.35 362.26 L602.52 362.06 L602.7 361.85 L602.87 361.63 L603.04 361.41 L603.56 360.69 L603.73 360.43 L603.91 360.15 L604.08 359.87 L604.25 359.57 L604.77 358.61 L604.94 358.27 L605.12 357.92 L605.29 357.56 L605.46 357.18 L605.98 355.98 L606.16 355.55 L606.33 355.1 L606.5 354.64 L606.67 354.17 L607.19 352.66 L607.37 352.12 L607.54 351.56 L607.71 350.99 L607.89 350.4 L608.4 348.12 L608.58 347.09 L608.75 345.96 L608.92 344.75 L609.1 343.49 L609.62 339.63 L609.79 338.39 L609.96 337.23 L610.13 336.15 L610.31 335.2 L610.83 333.25 L611 333 L611.17 332.87 L611.35 332.75 L611.52 332.64 L612.04 332.37 L612.21 332.29 L612.38 332.23 L612.56 332.17 L612.73 332.11 L613.25 331.97 L613.42 331.93 L613.59 331.89 L613.77 331.85 L613.94 331.81 L614.46 331.68 L614.63 331.63 L614.81 331.57 L614.98 331.51 L615.15 331.44 L615.67 331.2 L615.84 331.1 L616.02 330.99 L616.19 330.84 L616.36 330.65 L616.88 329.82 L617.05 329.46 L617.23 329.08 L617.4 328.66 L617.57 328.22 L618.09 326.77 L618.27 326.26 L618.44 325.74 L618.61 325.21 L618.78 324.67 L619.3 323.08 L619.48 322.56 L619.65 322.05 L619.82 321.56 L619.99 321.09 L620.51 319.81 L620.69 319.45 L620.86 319.11 L621.03 318.82 L621.21 318.56 L621.72 318.07 L621.9 318.01 L622.07 318.02 L622.24 318.21 L622.42 318.59 L622.94 320.76 L623.11 321.77 L623.28 322.9 L623.45 324.14 L623.63 325.47 L624.15 329.84 L624.32 331.38 L624.49 332.93 L624.67 334.49 L624.84 336.03 L625.36 340.42 L625.53 341.75 L625.7 343 L625.88 344.14 L626.05 345.16 L626.57 347.37 L626.74 347.77 L626.91 347.97 L627.09 347.98 L627.26 347.81 L627.78 346.41 L627.95 345.71 L628.13 344.91 L628.3 344.04 L628.47 343.1 L628.99 340.06 L629.16 339.02 L629.34 338 L629.51 337.01 L629.68 336.06 L630.2 333.66 L630.37 333.05 L630.55 332.57 L630.72 332.22 L630.89 332.03 L631.41 332.36 L631.59 332.7 L631.76 333.13 L631.93 333.65 L632.1 334.24 L632.62 336.33 L632.8 337.09 L632.97 337.86 L633.14 338.64 L633.32 339.41 L633.83 341.54 L634.01 342.15 L634.18 342.69 L634.35 343.16 L634.53 343.54 L635.05 344 L635.22 343.98 L635.39 343.92 L635.56 343.84 L635.74 343.74 L636.26 343.29 L636.43 343.11 L636.6 342.91 L636.78 342.7 L636.95 342.48 L637.47 341.79 L637.64 341.56 L637.81 341.33 L637.99 341.1 L638.16 340.88 L638.68 340.28 L638.85 340.1 L639.02 339.95 L639.2 339.81 L639.37 339.7 L639.89 339.51 L640.06 339.5 L640.24 339.53 L640.41 339.58 L640.58 339.67 L641.1 340.07 L641.27 340.26 L641.45 340.46 L641.62 340.69 L641.79 340.94 L642.31 341.79 L642.48 342.1 L642.66 342.43 L642.83 342.77 L643 343.13 L643.52 344.25 L643.69 344.65 L643.87 345.04 L644.04 345.45 L644.21 345.85 L644.73 347.08 L644.91 347.49 L645.08 347.9 L645.25 348.31 L645.42 348.71 L645.94 349.88 L646.12 350.26 L646.29 350.69 L646.46 351.16 L646.64 351.67 L647.15 353.38 L647.33 353.99 L647.5 354.62 L647.67 355.26 L647.85 355.91 L648.37 357.86 L648.54 358.5 L648.71 359.12 L648.88 359.72 L649.06 360.3 L649.58 361.87 L649.75 362.32 L649.92 362.73 L650.1 363.08 L650.27 363.39 L650.79 363.95 L650.96 364 L651.13 363.97 L651.31 363.83 L651.48 363.6 L652 362.39 L652.17 361.85 L652.34 361.24 L652.52 360.58 L652.69 359.88 L653.21 357.59 L653.38 356.8 L653.56 355.99 L653.73 355.19 L653.9 354.4 L654.42 352.16 L654.59 351.49 L654.77 350.86 L654.94 350.3 L655.11 349.79 L655.63 348.74 L655.8 348.57 L655.98 348.5 L656.15 348.5 L656.32 348.51 L656.84 348.56 L657.02 348.59 L657.19 348.62 L657.36 348.65 L657.53 348.69 L658.05 348.83 L658.23 348.88 L658.4 348.93 L658.57 348.99 L658.75 349.04 L659.26 349.23 L659.44 349.29 L659.61 349.35 L659.78 349.42 L659.96 349.48 L660.48 349.68 L660.65 349.74 L660.82 349.8 L660.99 349.87 L661.17 349.93 L661.69 350.09 L661.86 350.15 L662.03 350.2 L662.21 350.24 L662.38 350.29 L662.9 350.4 L663.07 350.43 L663.24 350.45 L663.42 350.47 L663.59 350.48 L664.11 350.5 L664.28 350.49 L664.45 350.47 L664.63 350.45 L664.8 350.42 L665.32 350.28 L665.49 350.22 L665.66 350.15 L665.84 350.08 L666.01 350 L666.53 349.74 L666.7 349.64 L666.88 349.53 L667.05 349.42 L667.22 349.31 L667.74 348.94 L667.91 348.81 L668.09 348.67 L668.26 348.54 L668.43 348.39 L668.95 347.95 L669.12 347.8 L669.3 347.65 L669.47 347.49 L669.64 347.33 L670.16 346.82 L670.34 346.58 L670.51 346.3 L670.68 345.97 L670.85 345.59 L671.37 344.29 L671.55 343.8 L671.72 343.3 L671.89 342.78 L672.07 342.25 L672.58 340.65 L672.76 340.13 L672.93 339.62 L673.1 339.13 L673.28 338.65 L673.8 337.4 L673.97 337.05 L674.14 336.75 L674.31 336.49 L674.49 336.28 L675.01 336 L675.18 336.02 L675.35 336.07 L675.53 336.14 L675.7 336.24 L676.22 336.66 L676.39 336.84 L676.56 337.02 L676.74 337.21 L676.91 337.4 L677.43 337.97 L677.6 338.16 L677.77 338.33 L677.95 338.49 L678.12 338.63 L678.64 338.93 L678.81 338.98 L678.99 339 L679.16 338.98 L679.33 338.89 L679.85 338.35 L680.02 338.07 L680.2 337.76 L680.37 337.41 L680.54 337.03 L681.06 335.72 L681.23 335.25 L681.41 334.76 L681.58 334.25 L681.75 333.74 L682.27 332.19 L682.45 331.67 L682.62 331.17 L682.79 330.68 L682.96 330.21 L683.48 328.91 L683.66 328.54 L683.83 328.19 L684 327.89 L684.18 327.62 L684.69 327.09 L684.87 327.02 L685.04 327.01 L685.21 327.16 L685.39 327.51 L685.91 329.59 L686.08 330.58 L686.25 331.69 L686.42 332.91 L686.6 334.23 L687.12 338.57 L687.29 340.11 L687.46 341.66 L687.63 343.21 L687.81 344.76 L688.33 349.17 L688.5 350.52 L688.67 351.78 L688.85 352.94 L689.02 353.99 L689.54 356.28 L689.71 356.71 L689.88 356.95 L690.06 356.99 L690.23 356.85 L690.75 355.53 L690.92 354.84 L691.09 354.06 L691.27 353.2 L691.44 352.27 L691.96 349.24 L692.13 348.2 L692.31 347.18 L692.48 346.18 L692.65 345.23 L693.17 342.78 L693.34 342.15 L693.52 341.64 L693.69 341.27 L693.86 341.06 L694.38 341.26 L694.55 341.52 L694.73 341.88 L694.9 342.3 L695.07 342.79 L695.59 344.58 L695.77 345.25 L695.94 345.94 L696.11 346.64 L696.28 347.35 L696.8 349.41 L696.98 350.04 L697.15 350.64 L697.32 351.19 L697.5 351.69 L698.01 352.74 L698.19 352.92 L698.36 353 L698.53 352.99 L698.71 352.92 L699.23 352.49 L699.4 352.27 L699.57 352.03 L699.74 351.76 L699.92 351.47 L700.44 350.51 L700.61 350.18 L700.78 349.84 L700.96 349.5 L701.13 349.17 L701.65 348.25 L701.82 347.98 L701.99 347.74 L702.17 347.52 L702.34 347.34 L702.86 347.02 L703.03 347 L703.2 347.03 L703.38 347.1 L703.55 347.21 L704.07 347.75 L704.24 347.99 L704.42 348.27 L704.59 348.57 L704.76 348.9 L705.28 350.03 L705.45 350.44 L705.63 350.87 L705.8 351.32 L705.97 351.78 L706.49 353.22 L706.66 353.71 L706.84 354.21 L707.01 354.71 L707.18 355.21 L707.7 356.69 L707.88 357.17 L708.05 357.64 L708.22 358.11 L708.39 358.55 L708.91 359.81 L709.09 360.19 L709.26 360.6 L709.43 361.02 L709.6 361.46 L710.12 362.89 L710.3 363.39 L710.47 363.89 L710.64 364.4 L710.82 364.91 L711.33 366.44 L711.51 366.94 L711.68 367.43 L711.85 367.9 L712.03 368.37 L712.55 369.64 L712.72 370.03 L712.89 370.38 L713.06 370.71 L713.24 371 L713.76 371.68 L713.93 371.82 L714.1 371.93 L714.28 371.99 L714.45 372 L714.97 371.58 L715.14 371.3 L715.31 370.95 L715.49 370.55 L715.66 370.1 L716.18 368.48 L716.35 367.88 L716.52 367.24 L716.7 366.59 L716.87 365.92 L717.39 363.86 L717.56 363.18 L717.74 362.51 L717.91 361.85 L718.08 361.21 L718.6 359.47 L718.77 358.97 L718.95 358.51 L719.12 358.1 L719.29 357.75 L719.81 357.08 L719.98 357 L720.16 356.98 L720.33 356.95 L720.5 356.93 L721.02 356.86 L721.2 356.85 L721.37 356.83 L721.54 356.82 L721.71 356.8 L722.23 356.77 L722.41 356.75 L722.58 356.74 L722.75 356.73 L722.93 356.73 L723.44 356.7 L723.62 356.69 L723.79 356.68 L723.96 356.67 L724.14 356.66 L724.66 356.63 L724.83 356.61 L725 356.6 L725.17 356.59 L725.35 356.57 L725.87 356.52 L726.04 356.5 L726.21 356.47 L726.39 356.45 L726.56 356.43 L727.08 356.35 L727.25 356.33 L727.42 356.3 L727.6 356.27 L727.77 356.24 L728.29 356.15 L728.46 356.11 L728.63 356.08 L728.81 356.04 L728.98 356 L729.5 355.87 L729.67 355.83 L729.85 355.78 L730.02 355.73 L730.19 355.68 L730.71 355.51 L730.88 355.45 L731.06 355.39 L731.23 355.32 L731.4 355.25 L731.92 355.04 L732.09 354.95 L732.27 354.81 L732.44 354.61 L732.61 354.37 L733.13 353.36 L733.3 352.94 L733.48 352.49 L733.65 352.01 L733.82 351.51 L734.34 349.87 L734.52 349.3 L734.69 348.72 L734.86 348.13 L735.03 347.54 L735.55 345.82 L735.73 345.26 L735.9 344.73 L736.07 344.22 L736.25 343.73 L736.76 342.44 L736.94 342.09 L737.11 341.78 L737.28 341.52 L737.46 341.3 L737.98 341 L738.15 341.01 L738.32 341.05 L738.49 341.11 L738.67 341.19 L739.19 341.57 L739.36 341.73 L739.53 341.9 L739.71 342.08 L739.88 342.27 L740.4 342.88 L740.57 343.08 L740.74 343.29 L740.92 343.5 L741.09 343.69 L741.61 344.24 L741.78 344.4 L741.95 344.55 L742.13 344.68 L742.3 344.79 L742.82 344.98 L742.99 345 L743.17 344.95 L743.34 344.8 L743.51 344.56 L744.03 343.35 L744.2 342.81 L744.38 342.22 L744.55 341.57 L744.72 340.89 L745.24 338.66 L745.41 337.89 L745.59 337.11 L745.76 336.33 L745.93 335.57 L746.45 333.42 L746.63 332.78 L746.8 332.18 L746.97 331.64 L747.14 331.17 L747.66 330.19 L747.84 330.05 L748.01 330 L748.18 330.12 L748.36 330.43 L748.87 332.43 L749.05 333.4 L749.22 334.49 L749.39 335.69 L749.57 336.99 L750.09 341.3 L750.26 342.83 L750.43 344.38 L750.6 345.94 L750.78 347.48 L751.3 351.92 L751.47 353.28 L751.64 354.56 L751.82 355.74 L751.99 356.81 L752.51 359.18 L752.68 359.65 L752.85 359.92 L753.03 360 L753.2 359.87 L753.72 358.5 L753.89 357.77 L754.06 356.93 L754.24 355.99 L754.41 354.98 L754.93 351.67 L755.1 350.53 L755.27 349.4 L755.45 348.29 L755.62 347.23 L756.14 344.49 L756.31 343.78 L756.49 343.2 L756.66 342.76 L756.83 342.49 L757.35 342.61 L757.52 342.85 L757.7 343.18 L757.87 343.58 L758.04 344.05 L758.56 345.75 L758.73 346.39 L758.91 347.05 L759.08 347.73 L759.25 348.41 L759.77 350.41 L759.95 351.04 L760.12 351.62 L760.29 352.16 L760.46 352.65 L760.98 353.71 L761.16 353.9 L761.33 353.99 L761.5 353.99 L761.68 353.94 L762.19 353.52 L762.37 353.32 L762.54 353.08 L762.71 352.81 L762.89 352.53 L763.41 351.57 L763.58 351.24 L763.75 350.9 L763.92 350.56 L764.1 350.23 L764.62 349.3 L764.79 349.03 L764.96 348.78 L765.14 348.56 L765.31 348.37 L765.83 348.02 L766 348 L766.17 348.02 L766.35 348.09 L766.52 348.19 L767.04 348.73 L767.21 348.98 L767.38 349.26 L767.56 349.57 L767.73 349.9 L768.25 351.05 L768.42 351.47 L768.6 351.91 L768.77 352.36 L768.94 352.83 L769.46 354.28 L769.63 354.78 L769.81 355.27 L769.98 355.78 L770.15 356.27 L770.67 357.74 L770.84 358.22 L771.02 358.68 L771.19 359.13 L771.36 359.56 L771.88 360.76 L772.06 361.11 L772.23 361.48 L772.4 361.85 L772.57 362.25 L773.09 363.48 L773.27 363.91 L773.44 364.34 L773.61 364.78 L773.79 365.22 L774.3 366.52 L774.48 366.94 L774.65 367.36 L774.82 367.77 L775 368.16 L775.52 369.27 L775.69 369.6 L775.86 369.92 L776.03 370.21 L776.21 370.48 L776.73 371.14 L776.9 371.3 L777.07 371.43 L777.24 371.52 L777.42 371.58 L777.94 371.43 L778.11 371.21 L778.28 370.91 L778.46 370.55 L778.63 370.12 L779.15 368.49 L779.32 367.86 L779.49 367.19 L779.67 366.49 L779.84 365.77 L780.36 363.55 L780.53 362.8 L780.7 362.06 L780.88 361.33 L781.05 360.63 L781.57 358.7 L781.74 358.14 L781.92 357.63 L782.09 357.18 L782.26 356.8 L782.78 356.08 L782.95 356 L783.13 356 L783.3 356.01 L783.47 356.02 L783.99 356.07 L784.16 356.1 L784.34 356.13 L784.51 356.16 L784.68 356.19 L785.2 356.31 L785.38 356.35 L785.55 356.39 L785.72 356.43 L785.89 356.47 L786.41 356.6 L786.59 356.64 L786.76 356.69 L786.93 356.73 L787.11 356.76 L787.62 356.87 L787.8 356.9 L787.97 356.92 L788.14 356.94 L788.32 356.96 L788.84 357 L789.01 357 L789.18 357 L789.35 357 L789.53 356.99 L790.05 356.97 L790.22 356.96 L790.39 356.95 L790.57 356.94 L790.74 356.92 L791.26 356.87 L791.43 356.85 L791.6 356.83 L791.78 356.8 L791.95 356.78 L792.47 356.7 L792.64 356.67 L792.81 356.64 L792.99 356.61 L793.16 356.57 L793.68 356.47 L793.85 356.43 L794.03 356.39 L794.2 356.32 L794.37 356.18 L794.89 355.46 L795.06 355.13 L795.24 354.76 L795.41 354.35 L795.58 353.91 L796.1 352.42 L796.27 351.89 L796.45 351.34 L796.62 350.78 L796.79 350.22 L797.31 348.51 L797.49 347.95 L797.66 347.41 L797.83 346.88 L798 346.36 L798.52 344.98 L798.7 344.57 L798.87 344.21 L799.04 343.89 L799.21 343.61 L799.73 343.07 L799.91 343.01 L800.08 343 L800.25 343.03 L800.43 343.08 L800.94 343.37 L801.12 343.51 L801.29 343.66 L801.46 343.83 L801.64 344.01 L802.16 344.59 L802.33 344.79 L802.5 345 L802.67 345.21 L802.85 345.41 L803.37 346 L803.54 346.18 L803.71 346.34 L803.89 346.49 L804.06 346.63 L804.58 346.92 L804.75 346.97 L804.92 347 L805.1 346.99 L805.27 346.92 L805.79 346.34 L805.96 346.04 L806.13 345.69 L806.31 345.29 L806.48 344.86 L807 343.37 L807.17 342.82 L807.35 342.25 L807.52 341.67 L807.69 341.08 L808.21 339.26 L808.38 338.66 L808.56 338.07 L808.73 337.5 L808.9 336.94 L809.42 335.4 L809.59 334.94 L809.77 334.53 L809.94 334.16 L810.11 333.83 L810.63 333.15 L810.81 333.04 L810.98 333 L811.15 333.08 L811.32 333.36 L811.84 335.27 L812.02 336.21 L812.19 337.28 L812.36 338.47 L812.54 339.75 L813.05 344.03 L813.23 345.56 L813.4 347.1 L813.57 348.66 L813.75 350.21 L814.27 354.67 L814.44 356.05 L814.61 357.34 L814.78 358.54 L814.96 359.63 L815.48 362.08 L815.65 362.58 L815.82 362.89 L816 363 L816.17 362.91 L816.69 361.67 L816.86 360.98 L817.03 360.18 L817.21 359.3 L817.38 358.33 L817.9 355.15 L818.07 354.05 L818.24 352.95 L818.42 351.88 L818.59 350.85 L819.11 348.15 L819.28 347.45 L819.46 346.86 L819.63 346.41 L819.8 346.12 L820.32 346.18 L820.49 346.42 L820.67 346.74 L820.84 347.14 L821.01 347.61 L821.53 349.35 L821.7 350.01 L821.88 350.69 L822.05 351.39 L822.22 352.09 L822.74 354.17 L822.91 354.82 L823.09 355.44 L823.26 356 L823.43 356.52 L823.95 357.65 L824.13 357.87 L824.3 357.98 L824.47 358 L824.64 357.95 L825.16 357.56 L825.34 357.35 L825.51 357.12 L825.68 356.86 L825.86 356.58 L826.37 355.63 L826.55 355.3 L826.72 354.96 L826.89 354.62 L827.07 354.29 L827.59 353.35 L827.76 353.07 L827.93 352.82 L828.1 352.59 L828.28 352.4 L828.8 352.03 L828.97 352 L829.14 352.01 L829.32 352.07 L829.49 352.17 L830.01 352.68 L830.18 352.92 L830.35 353.19 L830.53 353.49 L830.7 353.82 L831.22 354.94 L831.39 355.36 L831.56 355.79 L831.74 356.24 L831.91 356.7 L832.43 358.14 L832.6 358.63 L832.78 359.13 L832.95 359.63 L833.12 360.13 L833.64 361.61 L833.81 362.09 L833.99 362.56 L834.16 363.01 L834.33 363.46 L834.85 364.68 L835.02 365.05 L835.2 365.42 L835.37 365.81 L835.54 366.21 L836.06 367.49 L836.24 367.94 L836.41 368.39 L836.58 368.85 L836.75 369.3 L837.27 370.69 L837.45 371.14 L837.62 371.59 L837.79 372.04 L837.97 372.47 L838.48 373.71 L838.66 374.1 L838.83 374.47 L839 374.82 L839.18 375.15 L839.7 376.01 L839.87 376.24 L840.04 376.45 L840.21 376.62 L840.39 376.77 L840.91 376.99 L841.08 376.99 L841.25 376.88 L841.43 376.67 L841.6 376.37 L842.12 374.96 L842.29 374.35 L842.46 373.69 L842.64 372.98 L842.81 372.23 L843.33 369.82 L843.5 369 L843.67 368.17 L843.85 367.35 L844.02 366.54 L844.54 364.3 L844.71 363.64 L844.88 363.03 L845.06 362.49 L845.23 362.02 L845.75 361.12 L845.92 361.01 L846.1 361 L846.27 361.01 L846.44 361.04 L846.96 361.17 L847.13 361.23 L847.31 361.3 L847.48 361.38 L847.65 361.46 L848.17 361.75 L848.34 361.85 L848.52 361.95 L848.69 362.06 L848.86 362.16 L849.38 362.49 L849.56 362.59 L849.73 362.7 L849.9 362.8 L850.07 362.89 L850.59 363.15 L850.77 363.23 L850.94 363.29 L851.11 363.35 L851.29 363.4 L851.8 363.49 L851.98 363.5 L852.15 363.5 L852.32 363.49 L852.5 363.48 L853.02 363.41 L853.19 363.38 L853.36 363.34 L853.53 363.3 L853.71 363.25 L854.23 363.09 L854.4 363.03 L854.57 362.96 L854.75 362.89 L854.92 362.81 L855.44 362.57 L855.61 362.48 L855.78 362.39 L855.96 362.3 L856.13 362.2 L856.65 361.89 L856.82 361.79 L856.99 361.68 L857.17 361.57 L857.34 361.45 L857.86 361.1 L858.03 360.98 L858.21 360.82 L858.38 360.61 L858.55 360.36 L859.07 359.36 L859.24 358.95 L859.42 358.52 L859.59 358.06 L859.76 357.57 L860.28 356.01 L860.45 355.47 L860.63 354.92 L860.8 354.36 L860.97 353.81 L861.49 352.17 L861.67 351.65 L861.84 351.14 L862.01 350.66 L862.18 350.19 L862.7 348.96 L862.88 348.62 L863.05 348.32 L863.22 348.06 L863.4 347.85 L863.91 347.51 L864.09 347.51 L864.26 347.55 L864.43 347.63 L864.61 347.75 L865.13 348.28 L865.3 348.51 L865.47 348.75 L865.64 349.01 L865.82 349.29 L866.34 350.14 L866.51 350.43 L866.68 350.71 L866.85 350.98 L867.03 351.24 L867.55 351.92 L867.72 352.1 L867.89 352.25 L868.07 352.37 L868.24 352.45 L868.76 352.43 L868.93 352.3 L869.1 352.12 L869.28 351.88 L869.45 351.59 L869.97 350.47 L870.14 350.02 L870.31 349.54 L870.49 349.04 L870.66 348.51 L871.18 346.83 L871.35 346.25 L871.53 345.66 L871.7 345.08 L871.87 344.5 L872.39 342.83 L872.56 342.31 L872.74 341.81 L872.91 341.34 L873.08 340.9 L873.6 339.82 L873.77 339.54 L873.95 339.32 L874.12 339.16 L874.29 339.05 L874.81 339.33 L874.99 339.78 L875.16 340.4 L875.33 341.18 L875.5 342.09 L876.02 345.55 L876.2 346.88 L876.37 348.29 L876.54 349.75 L876.72 351.24 L877.23 355.82 L877.41 357.32 L877.58 358.79 L877.75 360.22 L877.93 361.57 L878.45 365.12 L878.62 366.07 L878.79 366.89 L878.96 367.56 L879.14 368.06 L879.66 368.42 L879.83 368.15 L880 367.72 L880.18 367.13 L880.35 366.41 L880.87 363.63 L881.04 362.55 L881.21 361.42 L881.39 360.27 L881.56 359.1 L882.08 355.71 L882.25 354.67 L882.42 353.71 L882.6 352.84 L882.77 352.08 L883.29 350.64 L883.46 350.5 L883.64 350.53 L883.81 350.67 L883.98 350.91 L884.5 352.14 L884.67 352.69 L884.85 353.29 L885.02 353.94 L885.19 354.63 L885.71 356.83 L885.88 357.58 L886.06 358.32 L886.23 359.05 L886.4 359.75 L886.92 361.62 L887.1 362.13 L887.27 362.58 L887.44 362.95 L887.61 363.23 L888.13 363.48 L888.31 363.42 L888.48 363.31 L888.65 363.16 L888.82 362.97 L889.34 362.21 L889.52 361.91 L889.69 361.6 L889.86 361.27 L890.04 360.93 L890.55 359.89 L890.73 359.56 L890.9 359.23 L891.07 358.93 L891.25 358.64 L891.77 357.93 L891.94 357.76 L892.11 357.63 L892.28 357.54 L892.46 357.5 L892.98 357.66 L893.15 357.8 L893.32 357.97 L893.5 358.18 L893.67 358.42 L894.19 359.32 L894.36 359.67 L894.53 360.05 L894.71 360.44 L894.88 360.85 L895.4 362.18 L895.57 362.64 L895.74 363.11 L895.92 363.59 L896.09 364.07 L896.61 365.52 L896.78 365.99 L896.96 366.46 L897.13 366.91 L897.3 367.36 L897.82 368.61 L897.99 368.99 L898.17 369.36 L898.34 369.76 L898.51 370.18 L899.03 371.53 L899.2 372 L899.38 372.48 L899.55 372.97 L899.72 373.46 L900.24 374.96 L900.42 375.46 L900.59 375.95 L900.76 376.44 L900.93 376.92 L901.45 378.29 L901.63 378.71 L901.8 379.12 L901.97 379.51 L902.15 379.88 L902.66 380.85 L902.84 381.11 L903.01 381.35 L903.18 381.55 L903.36 381.71 L903.88 381.99 L904.05 382 L904.22 381.92 L904.39 381.77 L904.57 381.52 L905.09 380.37 L905.26 379.87 L905.43 379.31 L905.61 378.71 L905.78 378.06 L906.3 375.96 L906.47 375.22 L906.64 374.47 L906.82 373.71 L906.99 372.96 L907.51 370.78 L907.68 370.09 L907.85 369.44 L908.03 368.83 L908.2 368.26 L908.72 366.88 L908.89 366.54 L909.07 366.28 L909.24 366.11 L909.41 366.01 L909.93 366.03 L910.1 366.05 L910.28 366.08 L910.45 366.12 L910.62 366.16 L911.14 366.32 L911.31 366.38 L911.49 366.45 L911.66 366.52 L911.83 366.59 L912.35 366.82 L912.52 366.9 L912.7 366.98 L912.87 367.06 L913.04 367.14 L913.56 367.37 L913.74 367.44 L913.91 367.51 L914.08 367.58 L914.25 367.64 L914.77 367.81 L914.95 367.86 L915.12 367.9 L915.29 367.93 L915.47 367.96 L915.98 368 L916.16 368 L916.33 367.99 L916.5 367.98 L916.68 367.97 L917.2 367.91 L917.37 367.88 L917.54 367.85 L917.71 367.81 L917.89 367.77 L918.41 367.64 L918.58 367.58 L918.75 367.53 L918.93 367.47 L919.1 367.41 L919.62 367.21 L919.79 367.14 L919.96 367.06 L920.14 366.98 L920.31 366.9 L920.83 366.65 L921 366.56 L921.17 366.47 L921.35 366.37 L921.52 366.28 L922.04 365.97 L922.21 365.82 L922.39 365.61 L922.56 365.34 L922.73 365.02 L923.25 363.78 L923.42 363.29 L923.6 362.77 L923.77 362.22 L923.94 361.66 L924.46 359.86 L924.63 359.25 L924.81 358.64 L924.98 358.03 L925.15 357.43 L925.67 355.74 L925.85 355.22 L926.02 354.74 L926.19 354.29 L926.36 353.88 L926.88 352.93 L927.06 352.73 L927.23 352.59 L927.4 352.51 L927.58 352.5 L928.09 352.79 L928.27 352.96 L928.44 353.18 L928.61 353.42 L928.79 353.69 L929.31 354.62 L929.48 354.96 L929.65 355.3 L929.82 355.65 L930 355.99 L930.52 356.97 L930.69 357.27 L930.86 357.54 L931.04 357.79 L931.21 358.01 L931.73 358.44 L931.9 358.49 L932.07 358.49 L932.25 358.44 L932.42 358.33 L932.97 358.14 L933.15 357.78 L933.32 357.42 L933.49 357.06 L933.66 356.7 L933.84 347.55 L934.01 345.95 L934.18 355.63 L934.36 355.29 L934.53 354.94 L934.7 354.59 L934.88 354.25 L935.05 340.82 L935.22 340.2 L935.39 353.21 L935.57 352.86 L935.74 352.52 L935.91 352.17 L936.09 351.94 L936.26 336.49 L936.43 336.35 L936.61 351.6 L936.78 351.48 L936.95 351.37 L937.12 351.25 L937.3 351.13 L937.47 335.52 L937.64 335.62 L937.82 351.63 L937.99 351.98 L938.16 352.33 L938.34 352.67 L938.51 353.02 L938.68 336.45 L938.85 336.96 L939.03 354.14 L939.2 355 L939.37 355.87 L939.55 356.73 L939.72 357.6 L939.89 341.53 L940.07 342.46 L940.24 360.91 L940.41 362.29 L940.58 363.68 L940.76 365.06 L940.93 366.45 L941.1 349.73 L941.28 350.94 L941.45 368.8 L941.62 369.49 L941.8 370.18 L941.97 370.87 L942.14 371.28 L942.31 357.26 L942.49 357.95 L942.66 372.32 L942.83 372.67 L943.01 372.98 L943.18 372.59 L943.35 372.19 L943.53 361.62 L943.7 362.15 L943.87 370.99" fill="none" stroke="#0072B2" stroke-width="2.083" stroke-linejoin="round" stroke-linecap="square"/>
<g fill="#ff0000" fill-opacity="0.6" stroke="#ff0000" stroke-opacity="0.6" stroke-width="1.1">
<circle cx="934.3" cy="356" r="2.0"/><circle cx="934.5" cy="358" r="2.0"/><circle cx="934.7" cy="354.5" r="2.0"/><circle cx="935" cy="352.5" r="2.0"/><circle cx="935.2" cy="356.5" r="2.0"/><circle cx="935.4" cy="350.3" r="2.0"/><circle cx="935.6" cy="353" r="2.0"/><circle cx="935.9" cy="355" r="2.0"/><circle cx="936.1" cy="359" r="2.0"/><circle cx="936.3" cy="362" r="2.0"/><circle cx="936.5" cy="367.5" r="2.0"/><circle cx="936.7" cy="364" r="2.0"/><circle cx="936.9" cy="357" r="2.0"/><circle cx="937.1" cy="360" r="2.0"/><circle cx="937.4" cy="362.5" r="2.0"/><circle cx="937.6" cy="358" r="2.0"/><circle cx="937.9" cy="361" r="2.0"/><circle cx="938.1" cy="364" r="2.0"/><circle cx="938.4" cy="361" r="2.0"/><circle cx="938.6" cy="359.5" r="2.0"/><circle cx="938.8" cy="362" r="2.0"/>
</g>
</g>
<g fill="#000">
<path d="M166 543h1v4h-1z" fill-opacity="0.056"/><path d="M168 543h1v4h-1z" fill-opacity="0.056"/><path d="M292 543h1v4h-1z" fill-opacity="0.056"/><path d="M294 543h1v4h-1z" fill-opacity="0.056"/><path d="M418 543h1v4h-1z" fill-opacity="0.056"/><path d="M420 543h1v4h-1z" fill-opacity="0.056"/><path d="M545 543h1v4h-1z" fill-opacity="0.056"/><path d="M547 543h1v4h-1z" fill-opacity="0.056"/><path d="M671 543h1v4h-1z" fill-opacity="0.056"/><path d="M673 543h1v4h-1z" fill-opacity="0.056"/><path d="M798 543h1v4h-1z" fill-opacity="0.056"/><path d="M800 543h1v4h-1z" fill-opacity="0.056"/><path d="M924 543h1v4h-1z" fill-opacity="0.056"/><path d="M926 543h1v4h-1z" fill-opacity="0.056"/><path d="M75 519h4v1h-4z" fill-opacity="0.056"/><path d="M75 521h4v1h-4z" fill-opacity="0.056"/><path d="M75 416h4v1h-4z" fill-opacity="0.056"/><path d="M75 418h4v1h-4z" fill-opacity="0.056"/><path d="M75 314h4v1h-4z" fill-opacity="0.056"/><path d="M75 316h4v1h-4z" fill-opacity="0.056"/><path d="M75 211h4v1h-4z" fill-opacity="0.056"/><path d="M75 213h4v1h-4z" fill-opacity="0.056"/><path d="M75 109h4v1h-4z" fill-opacity="0.056"/><path d="M75 111h4v1h-4z" fill-opacity="0.056"/><path d="M78 14h1v530h-1z" fill-opacity="0.056"/><path d="M80 14h1v530h-1z" fill-opacity="0.056"/><path d="M984 14h1v530h-1z" fill-opacity="0.056"/><path d="M986 14h1v530h-1z" fill-opacity="0.056"/><path d="M78 14h909v1h-909z" fill-opacity="0.056"/><path d="M78 16h909v1h-909z" fill-opacity="0.056"/><path d="M78 541h909v1h-909z" fill-opacity="0.056"/><path d="M78 543h909v1h-909z" fill-opacity="0.056"/><path d="M166 547h1v1h-1z" fill-opacity="0.028"/><path d="M168 547h1v1h-1z" fill-opacity="0.028"/><path d="M292 547h1v1h-1z" fill-opacity="0.028"/><path d="M294 547h1v1h-1z" fill-opacity="0.028"/><path d="M418 547h1v1h-1z" fill-opacity="0.028"/><path d="M420 547h1v1h-1z" fill-opacity="0.028"/><path d="M545 547h1v1h-1z" fill-opacity="0.028"/><path d="M547 547h1v1h-1z" fill-opacity="0.028"/><path d="M671 547h1v1h-1z" fill-opacity="0.028"/><path d="M673 547h1v1h-1z" fill-opacity="0.028"/><path d="M798 547h1v1h-1z" fill-opacity="0.028"/><path d="M800 547h1v1h-1z" fill-opacity="0.028"/><path d="M924 547h1v1h-1z" fill-opacity="0.028"/><path d="M926 547h1v1h-1z" fill-opacity="0.028"/><path d="M74 519h1v1h-1z" fill-opacity="0.028"/><path d="M74 521h1v1h-1z" fill-opacity="0.028"/><path d="M74 416h1v1h-1z" fill-opacity="0.028"/><path d="M74 418h1v1h-1z" fill-opacity="0.028"/><path d="M74 314h1v1h-1z" fill-opacity="0.028"/><path d="M74 316h1v1h-1z" fill-opacity="0.028"/><path d="M74 211h1v1h-1z" fill-opacity="0.028"/><path d="M74 213h1v1h-1z" fill-opacity="0.028"/><path d="M74 109h1v1h-1z" fill-opacity="0.028"/><path d="M74 111h1v1h-1z" fill-opacity="0.028"/><path d="M167 547h1v1h-1z" fill-opacity="0.5"/><path d="M293 547h1v1h-1z" fill-opacity="0.5"/><path d="M419 547h1v1h-1z" fill-opacity="0.5"/><path d="M546 547h1v1h-1z" fill-opacity="0.5"/><path d="M672 547h1v1h-1z" fill-opacity="0.5"/><path d="M799 547h1v1h-1z" fill-opacity="0.5"/><path d="M925 547h1v1h-1z" fill-opacity="0.5"/><path d="M74 520h1v1h-1z" fill-opacity="0.5"/><path d="M74 417h1v1h-1z" fill-opacity="0.5"/><path d="M74 315h1v1h-1z" fill-opacity="0.5"/><path d="M74 212h1v1h-1z" fill-opacity="0.5"/><path d="M74 110h1v1h-1z" fill-opacity="0.5"/><path d="M167 543h1v4h-1z M293 543h1v4h-1z M419 543h1v4h-1z M546 543h1v4h-1z M672 543h1v4h-1z M799 543h1v4h-1z M925 543h1v4h-1z M75 520h4v1h-4z M75 417h4v1h-4z M75 315h4v1h-4z M75 212h4v1h-4z M75 110h4v1h-4z M79 15h1v528h-1z M985 15h1v528h-1z M80 15h905v1h-905z M80 542h905v1h-905z"/>
</g>
<text x="148.92 157.74 166.62 175.2" y="561.55">2014</text>
<text x="274.91 283.75 292.51 301.39" y="561.5">2016</text>
<text x="401.93 410.74 419.52 428.46" y="561.6">2018</text>
<text x="528.03 536.68 545.53 554.15" y="561.6">2020</text>
<text x="654.91 663.7 672.4 681.22" y="561.61">2022</text>
<text x="780.99 789.65 798.49 807.21" y="561.55">2024</text>
<text x="907.06 915.73 924.55 933.22" y="561.62">2026</text>
<text x="43.92 51.71 60.54" y="524.51">400</text>
<text x="42.98 51.75 60.59" y="422.59">600</text>
<text x="42.94 51.85 60.5" y="319.72">800</text>
<text x="34.95 42.74 51.57 60.26" y="217.55">1000</text>
<text x="34.92 42.64 51.41 60.21" y="114.62">1200</text>
<text x="524.93 532.69" y="581.57">ds</text>
<text transform="translate(25.2,278.36) rotate(-90)" text-anchor="middle">y</text>
</svg>
</body>
</html>
